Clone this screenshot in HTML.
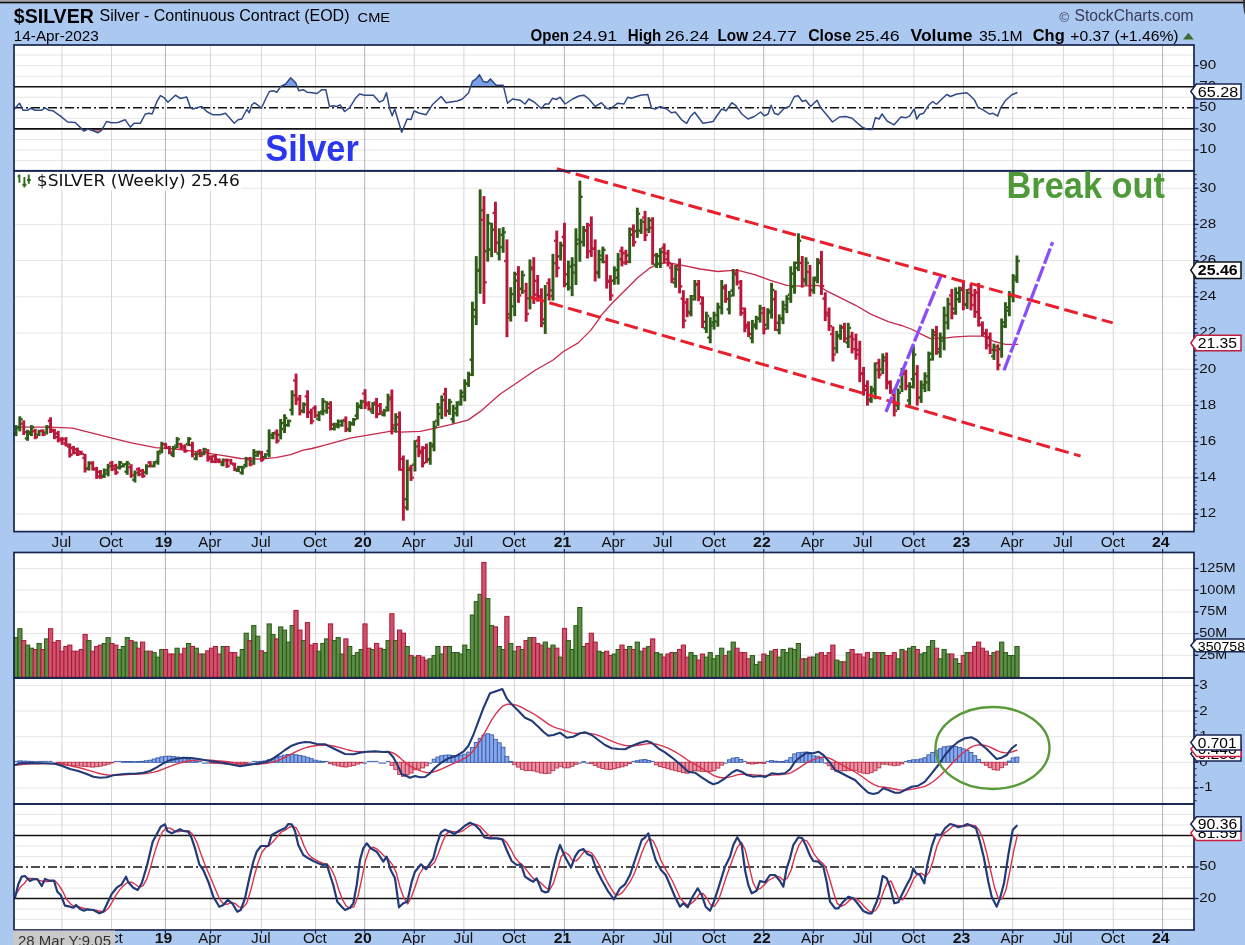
<!DOCTYPE html>
<html lang="en"><head><meta charset="utf-8"><title>$SILVER Silver - Continuous Contract (EOD) CME - StockCharts.com</title>
<style>
html,body{margin:0;padding:0;background:#abc8f1;width:1245px;height:945px;overflow:hidden}
svg text{white-space:pre}
</style></head>
<body>
<svg width="1245" height="945" viewBox="0 0 1245 945" style="display:block">
<rect x="0" y="0" width="1245" height="945" fill="#abc8f1"/>
<rect x="0" y="0" width="1245" height="2" fill="#a2a2a2"/>
<rect x="0" y="1.8" width="1245" height="1.5" fill="#0a0a0a"/>
<path d="M1243,0 L1245,0 L1245,15 Q1243,9 1243,0 Z" fill="#33363c"/>
<rect x="14" y="45" width="1180" height="125.8" fill="#fff"/>
<rect x="14" y="170.8" width="1180" height="360.8" fill="#fff"/>
<rect x="14" y="552.5" width="1180" height="125.5" fill="#fff"/>
<rect x="14" y="678" width="1180" height="126" fill="#fff"/>
<rect x="14" y="804" width="1180" height="126" fill="#fff"/>
<line x1="14" x2="1194" y1="55.1" y2="55.1" stroke="#e6e6e6" stroke-width="1"/>
<line x1="14" x2="1194" y1="65.7" y2="65.7" stroke="#e6e6e6" stroke-width="1"/>
<line x1="14" x2="1194" y1="76.2" y2="76.2" stroke="#e6e6e6" stroke-width="1"/>
<line x1="14" x2="1194" y1="97.3" y2="97.3" stroke="#e6e6e6" stroke-width="1"/>
<line x1="14" x2="1194" y1="118.3" y2="118.3" stroke="#e6e6e6" stroke-width="1"/>
<line x1="14" x2="1194" y1="139.4" y2="139.4" stroke="#e6e6e6" stroke-width="1"/>
<line x1="14" x2="1194" y1="149.9" y2="149.9" stroke="#e6e6e6" stroke-width="1"/>
<line x1="14" x2="1194" y1="160.4" y2="160.4" stroke="#e6e6e6" stroke-width="1"/>
<line x1="14" x2="1194" y1="514" y2="514" stroke="#e6e6e6" stroke-width="1"/>
<line x1="14" x2="1194" y1="477.8" y2="477.8" stroke="#e6e6e6" stroke-width="1"/>
<line x1="14" x2="1194" y1="441.6" y2="441.6" stroke="#e6e6e6" stroke-width="1"/>
<line x1="14" x2="1194" y1="405.4" y2="405.4" stroke="#e6e6e6" stroke-width="1"/>
<line x1="14" x2="1194" y1="369.2" y2="369.2" stroke="#e6e6e6" stroke-width="1"/>
<line x1="14" x2="1194" y1="333" y2="333" stroke="#e6e6e6" stroke-width="1"/>
<line x1="14" x2="1194" y1="296.8" y2="296.8" stroke="#e6e6e6" stroke-width="1"/>
<line x1="14" x2="1194" y1="260.6" y2="260.6" stroke="#e6e6e6" stroke-width="1"/>
<line x1="14" x2="1194" y1="224.4" y2="224.4" stroke="#e6e6e6" stroke-width="1"/>
<line x1="14" x2="1194" y1="188.2" y2="188.2" stroke="#e6e6e6" stroke-width="1"/>
<line x1="14" x2="1194" y1="655.3" y2="655.3" stroke="#e6e6e6" stroke-width="1"/>
<line x1="14" x2="1194" y1="633.6" y2="633.6" stroke="#e6e6e6" stroke-width="1"/>
<line x1="14" x2="1194" y1="611.9" y2="611.9" stroke="#e6e6e6" stroke-width="1"/>
<line x1="14" x2="1194" y1="590.2" y2="590.2" stroke="#e6e6e6" stroke-width="1"/>
<line x1="14" x2="1194" y1="568.5" y2="568.5" stroke="#e6e6e6" stroke-width="1"/>
<line x1="14" x2="1194" y1="787.9" y2="787.9" stroke="#e6e6e6" stroke-width="1"/>
<line x1="14" x2="1194" y1="762.3" y2="762.3" stroke="#e6e6e6" stroke-width="1"/>
<line x1="14" x2="1194" y1="736.7" y2="736.7" stroke="#e6e6e6" stroke-width="1"/>
<line x1="14" x2="1194" y1="711.1" y2="711.1" stroke="#e6e6e6" stroke-width="1"/>
<line x1="14" x2="1194" y1="685.5" y2="685.5" stroke="#e6e6e6" stroke-width="1"/>
<line x1="14" x2="1194" y1="919.5" y2="919.5" stroke="#e6e6e6" stroke-width="1"/>
<line x1="14" x2="1194" y1="909" y2="909" stroke="#e6e6e6" stroke-width="1"/>
<line x1="14" x2="1194" y1="888" y2="888" stroke="#e6e6e6" stroke-width="1"/>
<line x1="14" x2="1194" y1="877.5" y2="877.5" stroke="#e6e6e6" stroke-width="1"/>
<line x1="14" x2="1194" y1="856.5" y2="856.5" stroke="#e6e6e6" stroke-width="1"/>
<line x1="14" x2="1194" y1="846" y2="846" stroke="#e6e6e6" stroke-width="1"/>
<line x1="14" x2="1194" y1="825" y2="825" stroke="#e6e6e6" stroke-width="1"/>
<line x1="14" x2="1194" y1="814.5" y2="814.5" stroke="#e6e6e6" stroke-width="1"/>
<line x1="61.9" x2="61.9" y1="45" y2="170.8" stroke="#d6d6d6" stroke-width="1"/>
<line x1="61.9" x2="61.9" y1="170.8" y2="531.6" stroke="#d6d6d6" stroke-width="1"/>
<line x1="61.9" x2="61.9" y1="552.5" y2="678" stroke="#d6d6d6" stroke-width="1"/>
<line x1="61.9" x2="61.9" y1="678" y2="804" stroke="#d6d6d6" stroke-width="1"/>
<line x1="61.9" x2="61.9" y1="804" y2="930" stroke="#d6d6d6" stroke-width="1"/>
<line x1="111.5" x2="111.5" y1="45" y2="170.8" stroke="#d6d6d6" stroke-width="1"/>
<line x1="111.5" x2="111.5" y1="170.8" y2="531.6" stroke="#d6d6d6" stroke-width="1"/>
<line x1="111.5" x2="111.5" y1="552.5" y2="678" stroke="#d6d6d6" stroke-width="1"/>
<line x1="111.5" x2="111.5" y1="678" y2="804" stroke="#d6d6d6" stroke-width="1"/>
<line x1="111.5" x2="111.5" y1="804" y2="930" stroke="#d6d6d6" stroke-width="1"/>
<line x1="165.4" x2="165.4" y1="45" y2="170.8" stroke="#b4b4b4" stroke-width="1"/>
<line x1="165.4" x2="165.4" y1="170.8" y2="531.6" stroke="#b4b4b4" stroke-width="1"/>
<line x1="165.4" x2="165.4" y1="552.5" y2="678" stroke="#b4b4b4" stroke-width="1"/>
<line x1="165.4" x2="165.4" y1="678" y2="804" stroke="#b4b4b4" stroke-width="1"/>
<line x1="165.4" x2="165.4" y1="804" y2="930" stroke="#b4b4b4" stroke-width="1"/>
<line x1="210.5" x2="210.5" y1="45" y2="170.8" stroke="#d6d6d6" stroke-width="1"/>
<line x1="210.5" x2="210.5" y1="170.8" y2="531.6" stroke="#d6d6d6" stroke-width="1"/>
<line x1="210.5" x2="210.5" y1="552.5" y2="678" stroke="#d6d6d6" stroke-width="1"/>
<line x1="210.5" x2="210.5" y1="678" y2="804" stroke="#d6d6d6" stroke-width="1"/>
<line x1="210.5" x2="210.5" y1="804" y2="930" stroke="#d6d6d6" stroke-width="1"/>
<line x1="261.4" x2="261.4" y1="45" y2="170.8" stroke="#d6d6d6" stroke-width="1"/>
<line x1="261.4" x2="261.4" y1="170.8" y2="531.6" stroke="#d6d6d6" stroke-width="1"/>
<line x1="261.4" x2="261.4" y1="552.5" y2="678" stroke="#d6d6d6" stroke-width="1"/>
<line x1="261.4" x2="261.4" y1="678" y2="804" stroke="#d6d6d6" stroke-width="1"/>
<line x1="261.4" x2="261.4" y1="804" y2="930" stroke="#d6d6d6" stroke-width="1"/>
<line x1="315.5" x2="315.5" y1="45" y2="170.8" stroke="#d6d6d6" stroke-width="1"/>
<line x1="315.5" x2="315.5" y1="170.8" y2="531.6" stroke="#d6d6d6" stroke-width="1"/>
<line x1="315.5" x2="315.5" y1="552.5" y2="678" stroke="#d6d6d6" stroke-width="1"/>
<line x1="315.5" x2="315.5" y1="678" y2="804" stroke="#d6d6d6" stroke-width="1"/>
<line x1="315.5" x2="315.5" y1="804" y2="930" stroke="#d6d6d6" stroke-width="1"/>
<line x1="364.7" x2="364.7" y1="45" y2="170.8" stroke="#b4b4b4" stroke-width="1"/>
<line x1="364.7" x2="364.7" y1="170.8" y2="531.6" stroke="#b4b4b4" stroke-width="1"/>
<line x1="364.7" x2="364.7" y1="552.5" y2="678" stroke="#b4b4b4" stroke-width="1"/>
<line x1="364.7" x2="364.7" y1="678" y2="804" stroke="#b4b4b4" stroke-width="1"/>
<line x1="364.7" x2="364.7" y1="804" y2="930" stroke="#b4b4b4" stroke-width="1"/>
<line x1="414.3" x2="414.3" y1="45" y2="170.8" stroke="#d6d6d6" stroke-width="1"/>
<line x1="414.3" x2="414.3" y1="170.8" y2="531.6" stroke="#d6d6d6" stroke-width="1"/>
<line x1="414.3" x2="414.3" y1="552.5" y2="678" stroke="#d6d6d6" stroke-width="1"/>
<line x1="414.3" x2="414.3" y1="678" y2="804" stroke="#d6d6d6" stroke-width="1"/>
<line x1="414.3" x2="414.3" y1="804" y2="930" stroke="#d6d6d6" stroke-width="1"/>
<line x1="463.9" x2="463.9" y1="45" y2="170.8" stroke="#d6d6d6" stroke-width="1"/>
<line x1="463.9" x2="463.9" y1="170.8" y2="531.6" stroke="#d6d6d6" stroke-width="1"/>
<line x1="463.9" x2="463.9" y1="552.5" y2="678" stroke="#d6d6d6" stroke-width="1"/>
<line x1="463.9" x2="463.9" y1="678" y2="804" stroke="#d6d6d6" stroke-width="1"/>
<line x1="463.9" x2="463.9" y1="804" y2="930" stroke="#d6d6d6" stroke-width="1"/>
<line x1="514.5" x2="514.5" y1="45" y2="170.8" stroke="#d6d6d6" stroke-width="1"/>
<line x1="514.5" x2="514.5" y1="170.8" y2="531.6" stroke="#d6d6d6" stroke-width="1"/>
<line x1="514.5" x2="514.5" y1="552.5" y2="678" stroke="#d6d6d6" stroke-width="1"/>
<line x1="514.5" x2="514.5" y1="678" y2="804" stroke="#d6d6d6" stroke-width="1"/>
<line x1="514.5" x2="514.5" y1="804" y2="930" stroke="#d6d6d6" stroke-width="1"/>
<line x1="564.4" x2="564.4" y1="45" y2="170.8" stroke="#b4b4b4" stroke-width="1"/>
<line x1="564.4" x2="564.4" y1="170.8" y2="531.6" stroke="#b4b4b4" stroke-width="1"/>
<line x1="564.4" x2="564.4" y1="552.5" y2="678" stroke="#b4b4b4" stroke-width="1"/>
<line x1="564.4" x2="564.4" y1="678" y2="804" stroke="#b4b4b4" stroke-width="1"/>
<line x1="564.4" x2="564.4" y1="804" y2="930" stroke="#b4b4b4" stroke-width="1"/>
<line x1="613.8" x2="613.8" y1="45" y2="170.8" stroke="#d6d6d6" stroke-width="1"/>
<line x1="613.8" x2="613.8" y1="170.8" y2="531.6" stroke="#d6d6d6" stroke-width="1"/>
<line x1="613.8" x2="613.8" y1="552.5" y2="678" stroke="#d6d6d6" stroke-width="1"/>
<line x1="613.8" x2="613.8" y1="678" y2="804" stroke="#d6d6d6" stroke-width="1"/>
<line x1="613.8" x2="613.8" y1="804" y2="930" stroke="#d6d6d6" stroke-width="1"/>
<line x1="663.2" x2="663.2" y1="45" y2="170.8" stroke="#d6d6d6" stroke-width="1"/>
<line x1="663.2" x2="663.2" y1="170.8" y2="531.6" stroke="#d6d6d6" stroke-width="1"/>
<line x1="663.2" x2="663.2" y1="552.5" y2="678" stroke="#d6d6d6" stroke-width="1"/>
<line x1="663.2" x2="663.2" y1="678" y2="804" stroke="#d6d6d6" stroke-width="1"/>
<line x1="663.2" x2="663.2" y1="804" y2="930" stroke="#d6d6d6" stroke-width="1"/>
<line x1="714.3" x2="714.3" y1="45" y2="170.8" stroke="#d6d6d6" stroke-width="1"/>
<line x1="714.3" x2="714.3" y1="170.8" y2="531.6" stroke="#d6d6d6" stroke-width="1"/>
<line x1="714.3" x2="714.3" y1="552.5" y2="678" stroke="#d6d6d6" stroke-width="1"/>
<line x1="714.3" x2="714.3" y1="678" y2="804" stroke="#d6d6d6" stroke-width="1"/>
<line x1="714.3" x2="714.3" y1="804" y2="930" stroke="#d6d6d6" stroke-width="1"/>
<line x1="763.7" x2="763.7" y1="45" y2="170.8" stroke="#b4b4b4" stroke-width="1"/>
<line x1="763.7" x2="763.7" y1="170.8" y2="531.6" stroke="#b4b4b4" stroke-width="1"/>
<line x1="763.7" x2="763.7" y1="552.5" y2="678" stroke="#b4b4b4" stroke-width="1"/>
<line x1="763.7" x2="763.7" y1="678" y2="804" stroke="#b4b4b4" stroke-width="1"/>
<line x1="763.7" x2="763.7" y1="804" y2="930" stroke="#b4b4b4" stroke-width="1"/>
<line x1="813.3" x2="813.3" y1="45" y2="170.8" stroke="#d6d6d6" stroke-width="1"/>
<line x1="813.3" x2="813.3" y1="170.8" y2="531.6" stroke="#d6d6d6" stroke-width="1"/>
<line x1="813.3" x2="813.3" y1="552.5" y2="678" stroke="#d6d6d6" stroke-width="1"/>
<line x1="813.3" x2="813.3" y1="678" y2="804" stroke="#d6d6d6" stroke-width="1"/>
<line x1="813.3" x2="813.3" y1="804" y2="930" stroke="#d6d6d6" stroke-width="1"/>
<line x1="863.2" x2="863.2" y1="45" y2="170.8" stroke="#d6d6d6" stroke-width="1"/>
<line x1="863.2" x2="863.2" y1="170.8" y2="531.6" stroke="#d6d6d6" stroke-width="1"/>
<line x1="863.2" x2="863.2" y1="552.5" y2="678" stroke="#d6d6d6" stroke-width="1"/>
<line x1="863.2" x2="863.2" y1="678" y2="804" stroke="#d6d6d6" stroke-width="1"/>
<line x1="863.2" x2="863.2" y1="804" y2="930" stroke="#d6d6d6" stroke-width="1"/>
<line x1="913.9" x2="913.9" y1="45" y2="170.8" stroke="#d6d6d6" stroke-width="1"/>
<line x1="913.9" x2="913.9" y1="170.8" y2="531.6" stroke="#d6d6d6" stroke-width="1"/>
<line x1="913.9" x2="913.9" y1="552.5" y2="678" stroke="#d6d6d6" stroke-width="1"/>
<line x1="913.9" x2="913.9" y1="678" y2="804" stroke="#d6d6d6" stroke-width="1"/>
<line x1="913.9" x2="913.9" y1="804" y2="930" stroke="#d6d6d6" stroke-width="1"/>
<line x1="963.4" x2="963.4" y1="45" y2="170.8" stroke="#b4b4b4" stroke-width="1"/>
<line x1="963.4" x2="963.4" y1="170.8" y2="531.6" stroke="#b4b4b4" stroke-width="1"/>
<line x1="963.4" x2="963.4" y1="552.5" y2="678" stroke="#b4b4b4" stroke-width="1"/>
<line x1="963.4" x2="963.4" y1="678" y2="804" stroke="#b4b4b4" stroke-width="1"/>
<line x1="963.4" x2="963.4" y1="804" y2="930" stroke="#b4b4b4" stroke-width="1"/>
<line x1="1012.7" x2="1012.7" y1="45" y2="170.8" stroke="#d6d6d6" stroke-width="1"/>
<line x1="1012.7" x2="1012.7" y1="170.8" y2="531.6" stroke="#d6d6d6" stroke-width="1"/>
<line x1="1012.7" x2="1012.7" y1="552.5" y2="678" stroke="#d6d6d6" stroke-width="1"/>
<line x1="1012.7" x2="1012.7" y1="678" y2="804" stroke="#d6d6d6" stroke-width="1"/>
<line x1="1012.7" x2="1012.7" y1="804" y2="930" stroke="#d6d6d6" stroke-width="1"/>
<line x1="1063.4" x2="1063.4" y1="45" y2="170.8" stroke="#d6d6d6" stroke-width="1"/>
<line x1="1063.4" x2="1063.4" y1="170.8" y2="531.6" stroke="#d6d6d6" stroke-width="1"/>
<line x1="1063.4" x2="1063.4" y1="552.5" y2="678" stroke="#d6d6d6" stroke-width="1"/>
<line x1="1063.4" x2="1063.4" y1="678" y2="804" stroke="#d6d6d6" stroke-width="1"/>
<line x1="1063.4" x2="1063.4" y1="804" y2="930" stroke="#d6d6d6" stroke-width="1"/>
<line x1="1113.3" x2="1113.3" y1="45" y2="170.8" stroke="#d6d6d6" stroke-width="1"/>
<line x1="1113.3" x2="1113.3" y1="170.8" y2="531.6" stroke="#d6d6d6" stroke-width="1"/>
<line x1="1113.3" x2="1113.3" y1="552.5" y2="678" stroke="#d6d6d6" stroke-width="1"/>
<line x1="1113.3" x2="1113.3" y1="678" y2="804" stroke="#d6d6d6" stroke-width="1"/>
<line x1="1113.3" x2="1113.3" y1="804" y2="930" stroke="#d6d6d6" stroke-width="1"/>
<line x1="1162.6" x2="1162.6" y1="45" y2="170.8" stroke="#b4b4b4" stroke-width="1"/>
<line x1="1162.6" x2="1162.6" y1="170.8" y2="531.6" stroke="#b4b4b4" stroke-width="1"/>
<line x1="1162.6" x2="1162.6" y1="552.5" y2="678" stroke="#b4b4b4" stroke-width="1"/>
<line x1="1162.6" x2="1162.6" y1="678" y2="804" stroke="#b4b4b4" stroke-width="1"/>
<line x1="1162.6" x2="1162.6" y1="804" y2="930" stroke="#b4b4b4" stroke-width="1"/>
<clipPath id="rsiTop"><rect x="14" y="45" width="1180" height="41.7"/></clipPath>
<clipPath id="rsiBot"><rect x="14" y="128.9" width="1180" height="41.1"/></clipPath>
<polygon points="14.3,86.7 14.3,109 19.5,103.2 23.1,110.3 27.6,110.3 30.6,108.3 35.1,110.3 41.3,110.3 45.1,107.8 48.9,110.3 53.1,110.8 60.1,115.8 67.7,122 75.2,122.5 84,131.1 87.7,129.1 93.2,130.8 97.7,132.8 101.5,130.3 106.5,121.5 111.5,122.8 117.8,122.5 125.3,119.8 130.3,127.1 134.1,123.3 140.3,123.3 145.3,114 149.1,113.3 152.1,114 156.6,102.2 160.4,95.7 164.1,97.7 167.9,102.2 175.4,95.2 180.4,98.5 186.7,97 190.5,107.8 193,109 196.7,107.8 201.7,106.5 206.7,111.5 213,114.8 220.5,114.8 225.5,113.3 234.3,123.3 238.1,119.8 241.8,119 246.8,109.5 249.3,112.8 251.9,104.8 254.4,102.7 258.1,105.3 261.4,108.3 265.6,99 269.4,91.5 273.2,90.7 276.9,92.2 280.7,86.5 285.7,84 290.7,77.7 295.7,82.7 298.7,90.7 303.2,89.7 307,92.2 312,92.7 317,93.5 322,89.7 325.8,89.7 329.5,106.5 333.3,105.8 337.1,106.5 340.1,104.8 344.6,111.5 349.6,107.8 355.9,97.7 359.6,94 364.6,95.2 373.4,95.2 379.7,102.2 383.4,100.2 386.4,92.7 389.7,109 392.2,115.8 394.7,109 401.7,132.3 407.2,119 411,119.5 414,111 419.8,113.3 426,114.8 432.3,104.8 441.1,96.5 446.1,102.7 452.3,101.7 457.3,101 462.4,99 468.6,92.7 472.4,81.4 476.1,78.9 479.4,74.7 483.2,81.4 487.4,82.2 490.4,78.9 496.2,85.2 503.2,85.2 507.5,103.2 512.5,99 520,100.2 525,104 528.8,99 535,102.7 541.3,108.5 545.1,104 548.8,104 552.6,98.2 556.3,99.5 560.1,97.2 565.1,104 572.6,99 578.9,96 583.9,95.2 588.9,99 595.2,106.5 601.4,102.7 606.5,108.3 610.2,109 617.7,103.2 624,104 627.8,97.2 631.5,98.2 640.3,95.2 647.8,94.5 651.6,108.3 655.3,109 660.3,106.5 666.6,109 671.6,112.8 675.4,112 681.6,119.8 686.7,123.3 690.4,116.5 694.7,112.3 702.9,123.3 709.2,122.3 713,121.5 721.7,109 726.2,110.8 731.8,102.7 735.5,105.3 741.8,114 748,119 754.3,116.5 760.6,112 764.3,115.8 768.1,114 771.1,105.3 774.4,113.3 778.1,114.8 784.4,108.3 789.4,106.5 794.4,96.5 798.2,95.7 802.4,101.5 805.7,100.2 810.7,106.5 817,100.2 820.7,107.8 827,115.3 832.5,122 839.5,117 845.8,116.5 852,118.3 862.1,127.1 868.3,129.6 872.1,129.6 875.4,117.8 879.1,119 882.1,114 887.1,121 894.1,124.8 900.9,117 905.9,117.8 909.7,115.8 914.2,109 916.7,119 919.7,114.5 923.5,113.3 928.5,105.3 932.7,101.5 936,104 936.8,104 941.8,99 946.8,94.5 950.5,96.5 956.8,94 966.8,92.7 970.6,96 974.3,99.7 978.1,107.3 983.1,109.8 989.4,114 993.1,113.3 997.7,116 1000.7,107.8 1005.7,100.2 1011.9,94.7 1017,92.7 1017,86.7" fill="#7a9fe6" clip-path="url(#rsiTop)"/>
<polygon points="14.3,128.9 14.3,109 19.5,103.2 23.1,110.3 27.6,110.3 30.6,108.3 35.1,110.3 41.3,110.3 45.1,107.8 48.9,110.3 53.1,110.8 60.1,115.8 67.7,122 75.2,122.5 84,131.1 87.7,129.1 93.2,130.8 97.7,132.8 101.5,130.3 106.5,121.5 111.5,122.8 117.8,122.5 125.3,119.8 130.3,127.1 134.1,123.3 140.3,123.3 145.3,114 149.1,113.3 152.1,114 156.6,102.2 160.4,95.7 164.1,97.7 167.9,102.2 175.4,95.2 180.4,98.5 186.7,97 190.5,107.8 193,109 196.7,107.8 201.7,106.5 206.7,111.5 213,114.8 220.5,114.8 225.5,113.3 234.3,123.3 238.1,119.8 241.8,119 246.8,109.5 249.3,112.8 251.9,104.8 254.4,102.7 258.1,105.3 261.4,108.3 265.6,99 269.4,91.5 273.2,90.7 276.9,92.2 280.7,86.5 285.7,84 290.7,77.7 295.7,82.7 298.7,90.7 303.2,89.7 307,92.2 312,92.7 317,93.5 322,89.7 325.8,89.7 329.5,106.5 333.3,105.8 337.1,106.5 340.1,104.8 344.6,111.5 349.6,107.8 355.9,97.7 359.6,94 364.6,95.2 373.4,95.2 379.7,102.2 383.4,100.2 386.4,92.7 389.7,109 392.2,115.8 394.7,109 401.7,132.3 407.2,119 411,119.5 414,111 419.8,113.3 426,114.8 432.3,104.8 441.1,96.5 446.1,102.7 452.3,101.7 457.3,101 462.4,99 468.6,92.7 472.4,81.4 476.1,78.9 479.4,74.7 483.2,81.4 487.4,82.2 490.4,78.9 496.2,85.2 503.2,85.2 507.5,103.2 512.5,99 520,100.2 525,104 528.8,99 535,102.7 541.3,108.5 545.1,104 548.8,104 552.6,98.2 556.3,99.5 560.1,97.2 565.1,104 572.6,99 578.9,96 583.9,95.2 588.9,99 595.2,106.5 601.4,102.7 606.5,108.3 610.2,109 617.7,103.2 624,104 627.8,97.2 631.5,98.2 640.3,95.2 647.8,94.5 651.6,108.3 655.3,109 660.3,106.5 666.6,109 671.6,112.8 675.4,112 681.6,119.8 686.7,123.3 690.4,116.5 694.7,112.3 702.9,123.3 709.2,122.3 713,121.5 721.7,109 726.2,110.8 731.8,102.7 735.5,105.3 741.8,114 748,119 754.3,116.5 760.6,112 764.3,115.8 768.1,114 771.1,105.3 774.4,113.3 778.1,114.8 784.4,108.3 789.4,106.5 794.4,96.5 798.2,95.7 802.4,101.5 805.7,100.2 810.7,106.5 817,100.2 820.7,107.8 827,115.3 832.5,122 839.5,117 845.8,116.5 852,118.3 862.1,127.1 868.3,129.6 872.1,129.6 875.4,117.8 879.1,119 882.1,114 887.1,121 894.1,124.8 900.9,117 905.9,117.8 909.7,115.8 914.2,109 916.7,119 919.7,114.5 923.5,113.3 928.5,105.3 932.7,101.5 936,104 936.8,104 941.8,99 946.8,94.5 950.5,96.5 956.8,94 966.8,92.7 970.6,96 974.3,99.7 978.1,107.3 983.1,109.8 989.4,114 993.1,113.3 997.7,116 1000.7,107.8 1005.7,100.2 1011.9,94.7 1017,92.7 1017,128.9" fill="#e8788c" clip-path="url(#rsiBot)"/>
<line x1="14" x2="1194" y1="86.7" y2="86.7" stroke="#111" stroke-width="1.6"/>
<line x1="14" x2="1194" y1="128.9" y2="128.9" stroke="#111" stroke-width="1.6"/>
<line x1="14" x2="1194" y1="107.8" y2="107.8" stroke="#111" stroke-width="1.6" stroke-dasharray="9 3 2 3"/>
<polyline points="14.3,109 19.5,103.2 23.1,110.3 27.6,110.3 30.6,108.3 35.1,110.3 41.3,110.3 45.1,107.8 48.9,110.3 53.1,110.8 60.1,115.8 67.7,122 75.2,122.5 84,131.1 87.7,129.1 93.2,130.8 97.7,132.8 101.5,130.3 106.5,121.5 111.5,122.8 117.8,122.5 125.3,119.8 130.3,127.1 134.1,123.3 140.3,123.3 145.3,114 149.1,113.3 152.1,114 156.6,102.2 160.4,95.7 164.1,97.7 167.9,102.2 175.4,95.2 180.4,98.5 186.7,97 190.5,107.8 193,109 196.7,107.8 201.7,106.5 206.7,111.5 213,114.8 220.5,114.8 225.5,113.3 234.3,123.3 238.1,119.8 241.8,119 246.8,109.5 249.3,112.8 251.9,104.8 254.4,102.7 258.1,105.3 261.4,108.3 265.6,99 269.4,91.5 273.2,90.7 276.9,92.2 280.7,86.5 285.7,84 290.7,77.7 295.7,82.7 298.7,90.7 303.2,89.7 307,92.2 312,92.7 317,93.5 322,89.7 325.8,89.7 329.5,106.5 333.3,105.8 337.1,106.5 340.1,104.8 344.6,111.5 349.6,107.8 355.9,97.7 359.6,94 364.6,95.2 373.4,95.2 379.7,102.2 383.4,100.2 386.4,92.7 389.7,109 392.2,115.8 394.7,109 401.7,132.3 407.2,119 411,119.5 414,111 419.8,113.3 426,114.8 432.3,104.8 441.1,96.5 446.1,102.7 452.3,101.7 457.3,101 462.4,99 468.6,92.7 472.4,81.4 476.1,78.9 479.4,74.7 483.2,81.4 487.4,82.2 490.4,78.9 496.2,85.2 503.2,85.2 507.5,103.2 512.5,99 520,100.2 525,104 528.8,99 535,102.7 541.3,108.5 545.1,104 548.8,104 552.6,98.2 556.3,99.5 560.1,97.2 565.1,104 572.6,99 578.9,96 583.9,95.2 588.9,99 595.2,106.5 601.4,102.7 606.5,108.3 610.2,109 617.7,103.2 624,104 627.8,97.2 631.5,98.2 640.3,95.2 647.8,94.5 651.6,108.3 655.3,109 660.3,106.5 666.6,109 671.6,112.8 675.4,112 681.6,119.8 686.7,123.3 690.4,116.5 694.7,112.3 702.9,123.3 709.2,122.3 713,121.5 721.7,109 726.2,110.8 731.8,102.7 735.5,105.3 741.8,114 748,119 754.3,116.5 760.6,112 764.3,115.8 768.1,114 771.1,105.3 774.4,113.3 778.1,114.8 784.4,108.3 789.4,106.5 794.4,96.5 798.2,95.7 802.4,101.5 805.7,100.2 810.7,106.5 817,100.2 820.7,107.8 827,115.3 832.5,122 839.5,117 845.8,116.5 852,118.3 862.1,127.1 868.3,129.6 872.1,129.6 875.4,117.8 879.1,119 882.1,114 887.1,121 894.1,124.8 900.9,117 905.9,117.8 909.7,115.8 914.2,109 916.7,119 919.7,114.5 923.5,113.3 928.5,105.3 932.7,101.5 936,104 936.8,104 941.8,99 946.8,94.5 950.5,96.5 956.8,94 966.8,92.7 970.6,96 974.3,99.7 978.1,107.3 983.1,109.8 989.4,114 993.1,113.3 997.7,116 1000.7,107.8 1005.7,100.2 1011.9,94.7 1017,92.7" fill="none" stroke="#2f4a86" stroke-width="1.5" stroke-linejoin="round" stroke-linecap="round" />
<line x1="14" x2="1194" y1="835.5" y2="835.5" stroke="#111" stroke-width="1.6"/>
<line x1="14" x2="1194" y1="898.5" y2="898.5" stroke="#111" stroke-width="1.6"/>
<line x1="14" x2="1194" y1="867" y2="867" stroke="#111" stroke-width="1.6" stroke-dasharray="9 3 2 3"/>
<polyline points="16.6,893.4 20.4,887.1 24.2,883.5 28.1,878.5 31.9,878.4 35.7,879.3 39.6,880.4 43.4,881.5 47.2,881.6 51.1,881.2 54.9,880.8 58.8,885.1 62.6,891 66.4,899 70.3,903.7 74.1,906.6 77.9,906.8 81.8,907.8 85.6,908.7 89.4,909.8 93.3,909.9 97.1,910.4 100.9,911.5 104.8,911.5 108.6,908.1 112.4,901.7 116.3,894.7 120.1,889.4 123.9,885.2 127.8,882.2 131.6,882.1 135.5,884.5 139.3,887.3 143.1,885.6 147,878.6 150.8,866.4 154.6,852.6 158.5,840.8 162.3,832.3 166.1,828 170,828.1 173.8,830.3 177.6,831.8 181.5,831 185.3,830.6 189.1,831.1 193,834.7 196.8,842.1 200.6,853.1 204.5,863.4 208.3,872.5 212.1,881.2 216,890.8 219.8,899.5 223.7,904 227.5,904.2 231.3,902.7 235.2,903.4 239,906.9 242.8,907.9 246.7,903.2 250.5,891.3 254.3,876.2 258.2,862 262,852.2 265.8,847.5 269.7,845.1 273.5,841.2 277.3,836.6 281.2,832.2 285,830.2 288.9,827.5 292.7,826 296.5,828.2 300.4,836.2 304.2,846.2 308,853.7 311.9,857.7 315.7,859.9 319.5,861.8 323.4,863.5 327.2,864.3 331,868.7 334.9,876.8 338.7,889.5 342.5,899.7 346.4,906.4 350.2,908.1 354,906.5 357.9,896.5 361.7,879.2 365.5,860.4 369.4,849.2 373.2,847.1 377.1,849.1 380.9,852.8 384.7,856.4 388.6,859.6 392.4,864.7 396.2,872.4 400.1,887.6 403.9,897.9 407.7,903.9 411.6,896.5 415.4,886 419.2,874.5 423.1,868.3 426.9,867.2 430.7,865.9 434.6,862.3 438.4,853.2 442.2,842.8 446.1,834.4 449.9,831.1 453.8,831.6 457.6,832.3 461.4,831.6 465.3,829 469.1,826.2 472.9,824.4 476.8,824.5 480.6,826.7 484.4,831 488.3,834.9 492.1,837.6 495.9,838.2 499.8,838.5 503.6,839.5 507.4,843.6 511.3,850.3 515.1,857.7 519,862.4 522.8,865.5 526.6,870.1 530.5,875.2 534.3,879.5 538.1,880.6 542,884 545.8,887.7 549.6,890 553.5,883.1 557.3,870.5 561.1,856.8 565,852.2 568.8,854.9 572.6,860.9 576.5,860.8 580.3,856.7 584.1,851.6 588,851.3 591.8,853.1 595.6,858.6 599.5,865.4 603.3,874.1 607.2,881.8 611,888.4 614.8,894 618.7,895 622.5,892.4 626.3,887.1 630.2,881.7 634,874.3 637.8,864.4 641.7,853 645.5,844 649.3,838.2 653.2,841 657,849 660.8,860.1 664.7,867.9 668.5,874.2 672.4,881 676.2,889.3 680,897.7 683.9,902.4 687.7,905.3 691.5,903.3 695.4,899.9 699.2,894.3 703,893.5 706.9,898.3 710.7,905 714.5,906.3 718.4,900.4 722.2,889.4 726,877.6 729.9,867 733.7,856.3 737.5,847.1 741.4,842.3 745.2,849.8 749,865.7 752.9,882.1 756.7,889.8 760.6,888.3 764.4,884.7 768.2,880.5 772.1,878.5 775.9,876.3 779.7,876.9 783.6,880.6 787.4,878 791.2,869.7 795.1,855.4 798.9,845.3 802.7,839.6 806.6,840.6 810.4,846.6 814.2,854.2 818.1,859.4 821.9,862.5 825.8,867.2 829.6,878.7 833.4,892.3 837.3,903.4 841.1,906.4 844.9,904.7 848.8,900.9 852.6,898.4 856.4,898.7 860.3,901.9 864.1,906.3 867.9,910.1 871.8,912.5 875.6,910.5 879.4,904.4 883.3,892 887.1,883 890.9,880.9 894.8,889.9 898.6,898 902.5,900 906.3,894.5 910.1,886.9 914,878.3 917.8,874 921.6,873.2 925.5,876.8 929.3,871.8 933.1,860.7 937,845.7 940.8,837.7 944.6,833 948.5,830.1 952.3,826.7 956.1,825.4 960,825.8 963.8,826.3 967.6,825.7 971.5,825.3 975.3,825.8 979.1,830.2 983,839 986.8,853.3 990.7,870.9 994.5,887.3 998.3,898.3 1002.2,899.1 1006,889.8 1009.8,871.6 1013.7,850.8 1017.5,834.8" fill="none" stroke="#d8324e" stroke-width="1.4" stroke-linejoin="round" stroke-linecap="round" />
<polyline points="15,897.7 18.3,884.3 21.7,876.7 25,876 30,881 33.3,879.3 37.3,879 41.7,886 45,879 49.3,880.7 54,880.7 57.3,891.7 60.7,895 65,905.7 70,906.7 73.3,907.7 76,905 80,909 84,910.7 87.3,909.3 93.3,910 99.3,913.3 103.3,911.7 107.3,903.3 111.7,894 116.7,887.7 121.7,884.3 126,876.7 128.3,882.3 133.3,887.7 137.7,890 141.7,883.3 146.7,866.7 152.7,841.7 156.7,834.3 160.7,826.7 165,824.3 167.3,831 171.7,833.3 175,831.7 180,829.3 183.3,831 188.3,831.7 191.7,838.3 195,848.3 199.3,864.3 203.3,870 208.3,881.7 213.3,896.7 219.3,906.7 223.3,905 227.7,900 232.3,903.3 237.3,911.7 240.7,910 245,898.3 249.3,878.3 253.3,861.7 256.7,851.7 261,846 265,846 268.3,846 271.7,835 276.7,832.3 280.7,830 285,828.3 288.3,824 291.7,824.3 295,831 298.3,845 303.3,855 308.3,858.3 313.3,861 318.3,863.3 322.7,865 326.7,864.3 330,875 333.3,885 337.3,901.7 341.7,906.7 345,910 350,907.7 353.3,903.3 356.7,885 360,860 363.3,848.3 366.7,843.3 370.7,848.3 376.7,851.7 383.3,861.7 386.7,856.7 390.7,870 395,878.3 399,907.3 403.3,903.3 407.3,901.7 411.7,881.7 415,871.7 421,864.3 426,869.3 433.3,858.3 436.7,845 441,832.3 445,829.7 450,831.7 454.3,834 460,830 465,825.7 470,822.7 475,825 480,830 484.3,837.3 490,838.3 496.7,838.3 502.3,839.3 506.7,850 511.7,861 516.7,865 521,864.3 525,876.7 530,880 533.3,881.7 536.7,878.3 541.7,890.7 545,892.3 548.3,891.7 552.3,871.7 556.7,855 560,845 565,856.7 571,867.7 575,856.7 579,850.7 583.3,849 587.7,854.3 591.7,856 596.7,870 601.7,880 608.3,891.7 614,899.3 620,888.3 625,884.3 630,875 635,860 641.7,840 645,837.7 648.3,833.3 651.7,846.7 655.7,860 661,870 665.7,875 670,885 675,896.7 680,906.7 683.3,903.3 687.7,907.3 691.7,898.3 697.7,888.3 701.7,895 705.7,906.7 710,910.7 713.3,903.3 718.3,888.3 725,866.7 730,856.7 733.3,845 737.3,837.3 741.7,845 745,870 748.3,885 751.7,893.3 756.7,890.7 760,881 765,882.3 770,875 775,875 780,881 783.3,886.7 786.7,868.3 790,858.3 793.3,845 798.3,837.3 802.3,838.3 805.7,845 810,855.7 813.3,861 818.3,861.7 823.3,866.7 826.7,881.7 830,901.7 835,908.3 838.3,908.3 843.3,901.7 848.3,896.7 853.3,898.3 858.3,904.3 863.3,911 868.3,913.3 871.7,913.3 876.7,901.7 879.3,893.3 882.7,876 886.7,878.3 890,886.7 894.3,903.3 898.3,902.3 901.7,895 906.7,885 910.7,877.7 913.3,868.3 916,873.3 920,875 924.3,883.3 927.3,865 931.7,846.7 936,834.3 941,835 945,828.3 950,824 954,825 958.3,827.3 963.3,826 967.3,824 971.7,826 976,828.3 980,841.7 984,858.3 988.3,881.7 991.7,896.7 996.7,906.7 1000,898.3 1004,883.3 1008.3,855 1012.7,830 1016.7,825.7" fill="none" stroke="#223a78" stroke-width="2.2" stroke-linejoin="round" stroke-linecap="round" />
<rect x="14.1" y="760.9" width="3.8" height="1.2" fill="#4d6fb5"/>
<rect x="18" y="760.9" width="3.8" height="1.4" fill="#86a9ee" stroke="#3b5ca8" stroke-width="0.9"/>
<rect x="21.8" y="761.1" width="3.8" height="1.2" fill="#86a9ee" stroke="#3b5ca8" stroke-width="0.9"/>
<rect x="25.7" y="761.2" width="3.8" height="1.1" fill="#86a9ee" stroke="#3b5ca8" stroke-width="0.9"/>
<rect x="29.5" y="761.4" width="3.8" height="0.9" fill="#86a9ee" stroke="#3b5ca8" stroke-width="0.9"/>
<rect x="33.3" y="761.7" width="3.8" height="0.6" fill="#86a9ee" stroke="#3b5ca8" stroke-width="0.9"/>
<rect x="37.2" y="760.9" width="3.8" height="1.2" fill="#4d6fb5"/>
<rect x="41" y="760.9" width="3.8" height="1.2" fill="#4d6fb5"/>
<rect x="44.8" y="760.9" width="3.8" height="1.2" fill="#4d6fb5"/>
<rect x="48.7" y="760.9" width="3.8" height="1.2" fill="#4d6fb5"/>
<rect x="52.5" y="762.5" width="3.8" height="1.2" fill="#4d6fb5"/>
<rect x="56.3" y="762.3" width="3.8" height="0.9" fill="#ec92a2" stroke="#b8344e" stroke-width="0.9"/>
<rect x="60.2" y="762.3" width="3.8" height="1.6" fill="#ec92a2" stroke="#b8344e" stroke-width="0.9"/>
<rect x="64" y="762.3" width="3.8" height="2.5" fill="#ec92a2" stroke="#b8344e" stroke-width="0.9"/>
<rect x="67.8" y="762.3" width="3.8" height="3.3" fill="#ec92a2" stroke="#b8344e" stroke-width="0.9"/>
<rect x="71.7" y="762.3" width="3.8" height="3.4" fill="#ec92a2" stroke="#b8344e" stroke-width="0.9"/>
<rect x="75.5" y="762.3" width="3.8" height="3.4" fill="#ec92a2" stroke="#b8344e" stroke-width="0.9"/>
<rect x="79.3" y="762.3" width="3.8" height="3.8" fill="#ec92a2" stroke="#b8344e" stroke-width="0.9"/>
<rect x="83.2" y="762.3" width="3.8" height="4.1" fill="#ec92a2" stroke="#b8344e" stroke-width="0.9"/>
<rect x="87" y="762.3" width="3.8" height="4.5" fill="#ec92a2" stroke="#b8344e" stroke-width="0.9"/>
<rect x="90.8" y="762.3" width="3.8" height="4.8" fill="#ec92a2" stroke="#b8344e" stroke-width="0.9"/>
<rect x="94.7" y="762.3" width="3.8" height="4.4" fill="#ec92a2" stroke="#b8344e" stroke-width="0.9"/>
<rect x="98.5" y="762.3" width="3.8" height="3.9" fill="#ec92a2" stroke="#b8344e" stroke-width="0.9"/>
<rect x="102.4" y="762.3" width="3.8" height="3" fill="#ec92a2" stroke="#b8344e" stroke-width="0.9"/>
<rect x="106.2" y="762.3" width="3.8" height="1.9" fill="#ec92a2" stroke="#b8344e" stroke-width="0.9"/>
<rect x="110" y="762.3" width="3.8" height="0.6" fill="#ec92a2" stroke="#b8344e" stroke-width="0.9"/>
<rect x="113.9" y="760.9" width="3.8" height="1.2" fill="#4d6fb5"/>
<rect x="117.7" y="760.9" width="3.8" height="1.2" fill="#4d6fb5"/>
<rect x="121.5" y="761.6" width="3.8" height="0.7" fill="#86a9ee" stroke="#3b5ca8" stroke-width="0.9"/>
<rect x="125.4" y="761.5" width="3.8" height="0.8" fill="#86a9ee" stroke="#3b5ca8" stroke-width="0.9"/>
<rect x="129.2" y="761.5" width="3.8" height="0.8" fill="#86a9ee" stroke="#3b5ca8" stroke-width="0.9"/>
<rect x="133" y="761.7" width="3.8" height="0.6" fill="#86a9ee" stroke="#3b5ca8" stroke-width="0.9"/>
<rect x="136.9" y="761.5" width="3.8" height="0.8" fill="#86a9ee" stroke="#3b5ca8" stroke-width="0.9"/>
<rect x="140.7" y="761.3" width="3.8" height="1" fill="#86a9ee" stroke="#3b5ca8" stroke-width="0.9"/>
<rect x="144.5" y="760.8" width="3.8" height="1.5" fill="#86a9ee" stroke="#3b5ca8" stroke-width="0.9"/>
<rect x="148.4" y="760.2" width="3.8" height="2.1" fill="#86a9ee" stroke="#3b5ca8" stroke-width="0.9"/>
<rect x="152.2" y="759" width="3.8" height="3.3" fill="#86a9ee" stroke="#3b5ca8" stroke-width="0.9"/>
<rect x="156" y="757.9" width="3.8" height="4.4" fill="#86a9ee" stroke="#3b5ca8" stroke-width="0.9"/>
<rect x="159.9" y="756.9" width="3.8" height="5.4" fill="#86a9ee" stroke="#3b5ca8" stroke-width="0.9"/>
<rect x="163.7" y="756.4" width="3.8" height="5.9" fill="#86a9ee" stroke="#3b5ca8" stroke-width="0.9"/>
<rect x="167.5" y="756.2" width="3.8" height="6.1" fill="#86a9ee" stroke="#3b5ca8" stroke-width="0.9"/>
<rect x="171.4" y="756.6" width="3.8" height="5.7" fill="#86a9ee" stroke="#3b5ca8" stroke-width="0.9"/>
<rect x="175.2" y="757" width="3.8" height="5.3" fill="#86a9ee" stroke="#3b5ca8" stroke-width="0.9"/>
<rect x="179.1" y="757.6" width="3.8" height="4.7" fill="#86a9ee" stroke="#3b5ca8" stroke-width="0.9"/>
<rect x="182.9" y="758.3" width="3.8" height="4" fill="#86a9ee" stroke="#3b5ca8" stroke-width="0.9"/>
<rect x="186.7" y="759.2" width="3.8" height="3.1" fill="#86a9ee" stroke="#3b5ca8" stroke-width="0.9"/>
<rect x="190.6" y="760" width="3.8" height="2.3" fill="#86a9ee" stroke="#3b5ca8" stroke-width="0.9"/>
<rect x="194.4" y="761" width="3.8" height="1.3" fill="#86a9ee" stroke="#3b5ca8" stroke-width="0.9"/>
<rect x="198.2" y="760.9" width="3.8" height="1.2" fill="#4d6fb5"/>
<rect x="202.1" y="762.5" width="3.8" height="1.2" fill="#4d6fb5"/>
<rect x="205.9" y="762.5" width="3.8" height="1.2" fill="#4d6fb5"/>
<rect x="209.7" y="762.3" width="3.8" height="0.9" fill="#ec92a2" stroke="#b8344e" stroke-width="0.9"/>
<rect x="213.6" y="762.3" width="3.8" height="1.1" fill="#ec92a2" stroke="#b8344e" stroke-width="0.9"/>
<rect x="217.4" y="762.3" width="3.8" height="1.3" fill="#ec92a2" stroke="#b8344e" stroke-width="0.9"/>
<rect x="221.2" y="762.3" width="3.8" height="1.6" fill="#ec92a2" stroke="#b8344e" stroke-width="0.9"/>
<rect x="225.1" y="762.3" width="3.8" height="1.9" fill="#ec92a2" stroke="#b8344e" stroke-width="0.9"/>
<rect x="228.9" y="762.3" width="3.8" height="2.2" fill="#ec92a2" stroke="#b8344e" stroke-width="0.9"/>
<rect x="232.7" y="762.3" width="3.8" height="2.3" fill="#ec92a2" stroke="#b8344e" stroke-width="0.9"/>
<rect x="236.6" y="762.3" width="3.8" height="2.5" fill="#ec92a2" stroke="#b8344e" stroke-width="0.9"/>
<rect x="240.4" y="762.3" width="3.8" height="1.9" fill="#ec92a2" stroke="#b8344e" stroke-width="0.9"/>
<rect x="244.2" y="762.3" width="3.8" height="1.1" fill="#ec92a2" stroke="#b8344e" stroke-width="0.9"/>
<rect x="248.1" y="762.5" width="3.8" height="1.2" fill="#4d6fb5"/>
<rect x="251.9" y="760.9" width="3.8" height="1.2" fill="#4d6fb5"/>
<rect x="255.8" y="761.6" width="3.8" height="0.7" fill="#86a9ee" stroke="#3b5ca8" stroke-width="0.9"/>
<rect x="259.6" y="761.3" width="3.8" height="1" fill="#86a9ee" stroke="#3b5ca8" stroke-width="0.9"/>
<rect x="263.4" y="760.9" width="3.8" height="1.4" fill="#86a9ee" stroke="#3b5ca8" stroke-width="0.9"/>
<rect x="267.3" y="759.8" width="3.8" height="2.5" fill="#86a9ee" stroke="#3b5ca8" stroke-width="0.9"/>
<rect x="271.1" y="758.7" width="3.8" height="3.6" fill="#86a9ee" stroke="#3b5ca8" stroke-width="0.9"/>
<rect x="274.9" y="757.4" width="3.8" height="4.9" fill="#86a9ee" stroke="#3b5ca8" stroke-width="0.9"/>
<rect x="278.8" y="756.2" width="3.8" height="6.1" fill="#86a9ee" stroke="#3b5ca8" stroke-width="0.9"/>
<rect x="282.6" y="755.1" width="3.8" height="7.2" fill="#86a9ee" stroke="#3b5ca8" stroke-width="0.9"/>
<rect x="286.4" y="754.5" width="3.8" height="7.8" fill="#86a9ee" stroke="#3b5ca8" stroke-width="0.9"/>
<rect x="290.3" y="754.2" width="3.8" height="8.1" fill="#86a9ee" stroke="#3b5ca8" stroke-width="0.9"/>
<rect x="294.1" y="754.8" width="3.8" height="7.5" fill="#86a9ee" stroke="#3b5ca8" stroke-width="0.9"/>
<rect x="297.9" y="755.4" width="3.8" height="6.9" fill="#86a9ee" stroke="#3b5ca8" stroke-width="0.9"/>
<rect x="301.8" y="756.2" width="3.8" height="6.1" fill="#86a9ee" stroke="#3b5ca8" stroke-width="0.9"/>
<rect x="305.6" y="757.3" width="3.8" height="5" fill="#86a9ee" stroke="#3b5ca8" stroke-width="0.9"/>
<rect x="309.4" y="758.7" width="3.8" height="3.6" fill="#86a9ee" stroke="#3b5ca8" stroke-width="0.9"/>
<rect x="313.3" y="760.2" width="3.8" height="2.1" fill="#86a9ee" stroke="#3b5ca8" stroke-width="0.9"/>
<rect x="317.1" y="761" width="3.8" height="1.3" fill="#86a9ee" stroke="#3b5ca8" stroke-width="0.9"/>
<rect x="320.9" y="761.4" width="3.8" height="0.9" fill="#86a9ee" stroke="#3b5ca8" stroke-width="0.9"/>
<rect x="324.8" y="760.9" width="3.8" height="1.2" fill="#4d6fb5"/>
<rect x="328.6" y="762.3" width="3.8" height="1.4" fill="#ec92a2" stroke="#b8344e" stroke-width="0.9"/>
<rect x="332.5" y="762.3" width="3.8" height="2.7" fill="#ec92a2" stroke="#b8344e" stroke-width="0.9"/>
<rect x="336.3" y="762.3" width="3.8" height="3.6" fill="#ec92a2" stroke="#b8344e" stroke-width="0.9"/>
<rect x="340.1" y="762.3" width="3.8" height="4.4" fill="#ec92a2" stroke="#b8344e" stroke-width="0.9"/>
<rect x="344" y="762.3" width="3.8" height="4.7" fill="#ec92a2" stroke="#b8344e" stroke-width="0.9"/>
<rect x="347.8" y="762.3" width="3.8" height="3.9" fill="#ec92a2" stroke="#b8344e" stroke-width="0.9"/>
<rect x="351.6" y="762.3" width="3.8" height="3.2" fill="#ec92a2" stroke="#b8344e" stroke-width="0.9"/>
<rect x="355.5" y="762.3" width="3.8" height="1.8" fill="#ec92a2" stroke="#b8344e" stroke-width="0.9"/>
<rect x="359.3" y="762.3" width="3.8" height="0.7" fill="#ec92a2" stroke="#b8344e" stroke-width="0.9"/>
<rect x="363.1" y="762.5" width="3.8" height="1.2" fill="#4d6fb5"/>
<rect x="367" y="760.9" width="3.8" height="1.2" fill="#4d6fb5"/>
<rect x="370.8" y="760.9" width="3.8" height="1.2" fill="#4d6fb5"/>
<rect x="374.6" y="760.9" width="3.8" height="1.2" fill="#4d6fb5"/>
<rect x="378.5" y="762.5" width="3.8" height="1.2" fill="#4d6fb5"/>
<rect x="382.3" y="762.5" width="3.8" height="1.2" fill="#4d6fb5"/>
<rect x="386.1" y="760.9" width="3.8" height="1.2" fill="#4d6fb5"/>
<rect x="390" y="762.3" width="3.8" height="3.2" fill="#ec92a2" stroke="#b8344e" stroke-width="0.9"/>
<rect x="393.8" y="762.3" width="3.8" height="7.4" fill="#ec92a2" stroke="#b8344e" stroke-width="0.9"/>
<rect x="397.6" y="762.3" width="3.8" height="12.1" fill="#ec92a2" stroke="#b8344e" stroke-width="0.9"/>
<rect x="401.5" y="762.3" width="3.8" height="14" fill="#ec92a2" stroke="#b8344e" stroke-width="0.9"/>
<rect x="405.3" y="762.3" width="3.8" height="12.4" fill="#ec92a2" stroke="#b8344e" stroke-width="0.9"/>
<rect x="409.2" y="762.3" width="3.8" height="10.7" fill="#ec92a2" stroke="#b8344e" stroke-width="0.9"/>
<rect x="413" y="762.3" width="3.8" height="7.5" fill="#ec92a2" stroke="#b8344e" stroke-width="0.9"/>
<rect x="416.8" y="762.3" width="3.8" height="6.8" fill="#ec92a2" stroke="#b8344e" stroke-width="0.9"/>
<rect x="420.7" y="762.3" width="3.8" height="5.6" fill="#ec92a2" stroke="#b8344e" stroke-width="0.9"/>
<rect x="424.5" y="762.3" width="3.8" height="3.5" fill="#ec92a2" stroke="#b8344e" stroke-width="0.9"/>
<rect x="428.3" y="762.5" width="3.8" height="1.2" fill="#4d6fb5"/>
<rect x="432.2" y="759.2" width="3.8" height="3.1" fill="#86a9ee" stroke="#3b5ca8" stroke-width="0.9"/>
<rect x="436" y="757.1" width="3.8" height="5.2" fill="#86a9ee" stroke="#3b5ca8" stroke-width="0.9"/>
<rect x="439.8" y="755.7" width="3.8" height="6.6" fill="#86a9ee" stroke="#3b5ca8" stroke-width="0.9"/>
<rect x="443.7" y="755.2" width="3.8" height="7.1" fill="#86a9ee" stroke="#3b5ca8" stroke-width="0.9"/>
<rect x="447.5" y="755" width="3.8" height="7.3" fill="#86a9ee" stroke="#3b5ca8" stroke-width="0.9"/>
<rect x="451.3" y="755.5" width="3.8" height="6.8" fill="#86a9ee" stroke="#3b5ca8" stroke-width="0.9"/>
<rect x="455.2" y="755.8" width="3.8" height="6.5" fill="#86a9ee" stroke="#3b5ca8" stroke-width="0.9"/>
<rect x="459" y="755.2" width="3.8" height="7.1" fill="#86a9ee" stroke="#3b5ca8" stroke-width="0.9"/>
<rect x="462.8" y="754.2" width="3.8" height="8.1" fill="#86a9ee" stroke="#3b5ca8" stroke-width="0.9"/>
<rect x="466.7" y="752.1" width="3.8" height="10.2" fill="#86a9ee" stroke="#3b5ca8" stroke-width="0.9"/>
<rect x="470.5" y="747.4" width="3.8" height="14.9" fill="#86a9ee" stroke="#3b5ca8" stroke-width="0.9"/>
<rect x="474.3" y="742.5" width="3.8" height="19.8" fill="#86a9ee" stroke="#3b5ca8" stroke-width="0.9"/>
<rect x="478.2" y="738.3" width="3.8" height="24" fill="#86a9ee" stroke="#3b5ca8" stroke-width="0.9"/>
<rect x="482" y="735.1" width="3.8" height="27.2" fill="#86a9ee" stroke="#3b5ca8" stroke-width="0.9"/>
<rect x="485.9" y="733.7" width="3.8" height="28.6" fill="#86a9ee" stroke="#3b5ca8" stroke-width="0.9"/>
<rect x="489.7" y="734.9" width="3.8" height="27.4" fill="#86a9ee" stroke="#3b5ca8" stroke-width="0.9"/>
<rect x="493.5" y="739.3" width="3.8" height="23" fill="#86a9ee" stroke="#3b5ca8" stroke-width="0.9"/>
<rect x="497.4" y="742.8" width="3.8" height="19.5" fill="#86a9ee" stroke="#3b5ca8" stroke-width="0.9"/>
<rect x="501.2" y="747.2" width="3.8" height="15.1" fill="#86a9ee" stroke="#3b5ca8" stroke-width="0.9"/>
<rect x="505" y="756.6" width="3.8" height="5.7" fill="#86a9ee" stroke="#3b5ca8" stroke-width="0.9"/>
<rect x="508.9" y="761.4" width="3.8" height="0.9" fill="#86a9ee" stroke="#3b5ca8" stroke-width="0.9"/>
<rect x="512.7" y="762.3" width="3.8" height="2.4" fill="#ec92a2" stroke="#b8344e" stroke-width="0.9"/>
<rect x="516.5" y="762.3" width="3.8" height="4.8" fill="#ec92a2" stroke="#b8344e" stroke-width="0.9"/>
<rect x="520.4" y="762.3" width="3.8" height="7.1" fill="#ec92a2" stroke="#b8344e" stroke-width="0.9"/>
<rect x="524.2" y="762.3" width="3.8" height="8.4" fill="#ec92a2" stroke="#b8344e" stroke-width="0.9"/>
<rect x="528" y="762.3" width="3.8" height="8.1" fill="#ec92a2" stroke="#b8344e" stroke-width="0.9"/>
<rect x="531.9" y="762.3" width="3.8" height="8.6" fill="#ec92a2" stroke="#b8344e" stroke-width="0.9"/>
<rect x="535.7" y="762.3" width="3.8" height="9.6" fill="#ec92a2" stroke="#b8344e" stroke-width="0.9"/>
<rect x="539.5" y="762.3" width="3.8" height="10.7" fill="#ec92a2" stroke="#b8344e" stroke-width="0.9"/>
<rect x="543.4" y="762.3" width="3.8" height="11.3" fill="#ec92a2" stroke="#b8344e" stroke-width="0.9"/>
<rect x="547.2" y="762.3" width="3.8" height="10.9" fill="#ec92a2" stroke="#b8344e" stroke-width="0.9"/>
<rect x="551" y="762.3" width="3.8" height="8.3" fill="#ec92a2" stroke="#b8344e" stroke-width="0.9"/>
<rect x="554.9" y="762.3" width="3.8" height="5.7" fill="#ec92a2" stroke="#b8344e" stroke-width="0.9"/>
<rect x="558.7" y="762.3" width="3.8" height="4" fill="#ec92a2" stroke="#b8344e" stroke-width="0.9"/>
<rect x="562.6" y="762.3" width="3.8" height="5.5" fill="#ec92a2" stroke="#b8344e" stroke-width="0.9"/>
<rect x="566.4" y="762.3" width="3.8" height="5.5" fill="#ec92a2" stroke="#b8344e" stroke-width="0.9"/>
<rect x="570.2" y="762.3" width="3.8" height="4" fill="#ec92a2" stroke="#b8344e" stroke-width="0.9"/>
<rect x="574.1" y="762.3" width="3.8" height="2" fill="#ec92a2" stroke="#b8344e" stroke-width="0.9"/>
<rect x="577.9" y="762.5" width="3.8" height="1.2" fill="#4d6fb5"/>
<rect x="581.7" y="761.7" width="3.8" height="0.6" fill="#86a9ee" stroke="#3b5ca8" stroke-width="0.9"/>
<rect x="585.6" y="762.5" width="3.8" height="1.2" fill="#4d6fb5"/>
<rect x="589.4" y="762.3" width="3.8" height="1.3" fill="#ec92a2" stroke="#b8344e" stroke-width="0.9"/>
<rect x="593.2" y="762.3" width="3.8" height="3.2" fill="#ec92a2" stroke="#b8344e" stroke-width="0.9"/>
<rect x="597.1" y="762.3" width="3.8" height="4.9" fill="#ec92a2" stroke="#b8344e" stroke-width="0.9"/>
<rect x="600.9" y="762.3" width="3.8" height="6.2" fill="#ec92a2" stroke="#b8344e" stroke-width="0.9"/>
<rect x="604.7" y="762.3" width="3.8" height="6.9" fill="#ec92a2" stroke="#b8344e" stroke-width="0.9"/>
<rect x="608.6" y="762.3" width="3.8" height="7.1" fill="#ec92a2" stroke="#b8344e" stroke-width="0.9"/>
<rect x="612.4" y="762.3" width="3.8" height="6.4" fill="#ec92a2" stroke="#b8344e" stroke-width="0.9"/>
<rect x="616.2" y="762.3" width="3.8" height="5.4" fill="#ec92a2" stroke="#b8344e" stroke-width="0.9"/>
<rect x="620.1" y="762.3" width="3.8" height="4.5" fill="#ec92a2" stroke="#b8344e" stroke-width="0.9"/>
<rect x="623.9" y="762.3" width="3.8" height="3.4" fill="#ec92a2" stroke="#b8344e" stroke-width="0.9"/>
<rect x="627.7" y="762.3" width="3.8" height="1.2" fill="#ec92a2" stroke="#b8344e" stroke-width="0.9"/>
<rect x="631.6" y="760.9" width="3.8" height="1.2" fill="#4d6fb5"/>
<rect x="635.4" y="760.7" width="3.8" height="1.6" fill="#86a9ee" stroke="#3b5ca8" stroke-width="0.9"/>
<rect x="639.3" y="759.9" width="3.8" height="2.4" fill="#86a9ee" stroke="#3b5ca8" stroke-width="0.9"/>
<rect x="643.1" y="759.6" width="3.8" height="2.7" fill="#86a9ee" stroke="#3b5ca8" stroke-width="0.9"/>
<rect x="646.9" y="760.4" width="3.8" height="1.9" fill="#86a9ee" stroke="#3b5ca8" stroke-width="0.9"/>
<rect x="650.8" y="760.9" width="3.8" height="1.2" fill="#4d6fb5"/>
<rect x="654.6" y="762.3" width="3.8" height="2.6" fill="#ec92a2" stroke="#b8344e" stroke-width="0.9"/>
<rect x="658.4" y="762.3" width="3.8" height="4.3" fill="#ec92a2" stroke="#b8344e" stroke-width="0.9"/>
<rect x="662.3" y="762.3" width="3.8" height="5.2" fill="#ec92a2" stroke="#b8344e" stroke-width="0.9"/>
<rect x="666.1" y="762.3" width="3.8" height="6.4" fill="#ec92a2" stroke="#b8344e" stroke-width="0.9"/>
<rect x="669.9" y="762.3" width="3.8" height="7.4" fill="#ec92a2" stroke="#b8344e" stroke-width="0.9"/>
<rect x="673.8" y="762.3" width="3.8" height="8.4" fill="#ec92a2" stroke="#b8344e" stroke-width="0.9"/>
<rect x="677.6" y="762.3" width="3.8" height="9.3" fill="#ec92a2" stroke="#b8344e" stroke-width="0.9"/>
<rect x="681.4" y="762.3" width="3.8" height="10.3" fill="#ec92a2" stroke="#b8344e" stroke-width="0.9"/>
<rect x="685.3" y="762.3" width="3.8" height="10.9" fill="#ec92a2" stroke="#b8344e" stroke-width="0.9"/>
<rect x="689.1" y="762.3" width="3.8" height="9.8" fill="#ec92a2" stroke="#b8344e" stroke-width="0.9"/>
<rect x="692.9" y="762.3" width="3.8" height="8.3" fill="#ec92a2" stroke="#b8344e" stroke-width="0.9"/>
<rect x="696.8" y="762.3" width="3.8" height="8.7" fill="#ec92a2" stroke="#b8344e" stroke-width="0.9"/>
<rect x="700.6" y="762.3" width="3.8" height="9.1" fill="#ec92a2" stroke="#b8344e" stroke-width="0.9"/>
<rect x="704.4" y="762.3" width="3.8" height="9.3" fill="#ec92a2" stroke="#b8344e" stroke-width="0.9"/>
<rect x="708.3" y="762.3" width="3.8" height="9.2" fill="#ec92a2" stroke="#b8344e" stroke-width="0.9"/>
<rect x="712.1" y="762.3" width="3.8" height="8.5" fill="#ec92a2" stroke="#b8344e" stroke-width="0.9"/>
<rect x="716" y="762.3" width="3.8" height="5.8" fill="#ec92a2" stroke="#b8344e" stroke-width="0.9"/>
<rect x="719.8" y="762.3" width="3.8" height="2.8" fill="#ec92a2" stroke="#b8344e" stroke-width="0.9"/>
<rect x="723.6" y="762.5" width="3.8" height="1.2" fill="#4d6fb5"/>
<rect x="727.5" y="759.8" width="3.8" height="2.5" fill="#86a9ee" stroke="#3b5ca8" stroke-width="0.9"/>
<rect x="731.3" y="758.1" width="3.8" height="4.2" fill="#86a9ee" stroke="#3b5ca8" stroke-width="0.9"/>
<rect x="735.1" y="757.6" width="3.8" height="4.7" fill="#86a9ee" stroke="#3b5ca8" stroke-width="0.9"/>
<rect x="739" y="759.5" width="3.8" height="2.8" fill="#86a9ee" stroke="#3b5ca8" stroke-width="0.9"/>
<rect x="742.8" y="760.9" width="3.8" height="1.2" fill="#4d6fb5"/>
<rect x="746.6" y="762.3" width="3.8" height="1.1" fill="#ec92a2" stroke="#b8344e" stroke-width="0.9"/>
<rect x="750.5" y="762.3" width="3.8" height="1.7" fill="#ec92a2" stroke="#b8344e" stroke-width="0.9"/>
<rect x="754.3" y="762.3" width="3.8" height="1.3" fill="#ec92a2" stroke="#b8344e" stroke-width="0.9"/>
<rect x="758.1" y="762.3" width="3.8" height="0.7" fill="#ec92a2" stroke="#b8344e" stroke-width="0.9"/>
<rect x="762" y="762.3" width="3.8" height="1.2" fill="#ec92a2" stroke="#b8344e" stroke-width="0.9"/>
<rect x="765.8" y="760.9" width="3.8" height="1.2" fill="#4d6fb5"/>
<rect x="769.6" y="760.6" width="3.8" height="1.7" fill="#86a9ee" stroke="#3b5ca8" stroke-width="0.9"/>
<rect x="773.5" y="761.2" width="3.8" height="1.1" fill="#86a9ee" stroke="#3b5ca8" stroke-width="0.9"/>
<rect x="777.3" y="761.6" width="3.8" height="0.7" fill="#86a9ee" stroke="#3b5ca8" stroke-width="0.9"/>
<rect x="781.1" y="761.4" width="3.8" height="0.9" fill="#86a9ee" stroke="#3b5ca8" stroke-width="0.9"/>
<rect x="785" y="760.2" width="3.8" height="2.1" fill="#86a9ee" stroke="#3b5ca8" stroke-width="0.9"/>
<rect x="788.8" y="757.7" width="3.8" height="4.6" fill="#86a9ee" stroke="#3b5ca8" stroke-width="0.9"/>
<rect x="792.7" y="753.9" width="3.8" height="8.4" fill="#86a9ee" stroke="#3b5ca8" stroke-width="0.9"/>
<rect x="796.5" y="752.7" width="3.8" height="9.6" fill="#86a9ee" stroke="#3b5ca8" stroke-width="0.9"/>
<rect x="800.3" y="752.3" width="3.8" height="10" fill="#86a9ee" stroke="#3b5ca8" stroke-width="0.9"/>
<rect x="804.2" y="752.1" width="3.8" height="10.2" fill="#86a9ee" stroke="#3b5ca8" stroke-width="0.9"/>
<rect x="808" y="754.1" width="3.8" height="8.2" fill="#86a9ee" stroke="#3b5ca8" stroke-width="0.9"/>
<rect x="811.8" y="755.9" width="3.8" height="6.4" fill="#86a9ee" stroke="#3b5ca8" stroke-width="0.9"/>
<rect x="815.7" y="756.2" width="3.8" height="6.1" fill="#86a9ee" stroke="#3b5ca8" stroke-width="0.9"/>
<rect x="819.5" y="758.8" width="3.8" height="3.5" fill="#86a9ee" stroke="#3b5ca8" stroke-width="0.9"/>
<rect x="823.3" y="762.5" width="3.8" height="1.2" fill="#4d6fb5"/>
<rect x="827.2" y="762.3" width="3.8" height="3.5" fill="#ec92a2" stroke="#b8344e" stroke-width="0.9"/>
<rect x="831" y="762.3" width="3.8" height="7.1" fill="#ec92a2" stroke="#b8344e" stroke-width="0.9"/>
<rect x="834.8" y="762.3" width="3.8" height="8.8" fill="#ec92a2" stroke="#b8344e" stroke-width="0.9"/>
<rect x="838.7" y="762.3" width="3.8" height="8.6" fill="#ec92a2" stroke="#b8344e" stroke-width="0.9"/>
<rect x="842.5" y="762.3" width="3.8" height="8.4" fill="#ec92a2" stroke="#b8344e" stroke-width="0.9"/>
<rect x="846.3" y="762.3" width="3.8" height="8.3" fill="#ec92a2" stroke="#b8344e" stroke-width="0.9"/>
<rect x="850.2" y="762.3" width="3.8" height="8.1" fill="#ec92a2" stroke="#b8344e" stroke-width="0.9"/>
<rect x="854" y="762.3" width="3.8" height="8.4" fill="#ec92a2" stroke="#b8344e" stroke-width="0.9"/>
<rect x="857.8" y="762.3" width="3.8" height="9.8" fill="#ec92a2" stroke="#b8344e" stroke-width="0.9"/>
<rect x="861.7" y="762.3" width="3.8" height="10.8" fill="#ec92a2" stroke="#b8344e" stroke-width="0.9"/>
<rect x="865.5" y="762.3" width="3.8" height="11.4" fill="#ec92a2" stroke="#b8344e" stroke-width="0.9"/>
<rect x="869.4" y="762.3" width="3.8" height="10.4" fill="#ec92a2" stroke="#b8344e" stroke-width="0.9"/>
<rect x="873.2" y="762.3" width="3.8" height="8.4" fill="#ec92a2" stroke="#b8344e" stroke-width="0.9"/>
<rect x="877" y="762.3" width="3.8" height="5.6" fill="#ec92a2" stroke="#b8344e" stroke-width="0.9"/>
<rect x="880.9" y="762.3" width="3.8" height="1.8" fill="#ec92a2" stroke="#b8344e" stroke-width="0.9"/>
<rect x="884.7" y="762.3" width="3.8" height="1.9" fill="#ec92a2" stroke="#b8344e" stroke-width="0.9"/>
<rect x="888.5" y="762.3" width="3.8" height="2.7" fill="#ec92a2" stroke="#b8344e" stroke-width="0.9"/>
<rect x="892.4" y="762.3" width="3.8" height="3.4" fill="#ec92a2" stroke="#b8344e" stroke-width="0.9"/>
<rect x="896.2" y="762.3" width="3.8" height="2.9" fill="#ec92a2" stroke="#b8344e" stroke-width="0.9"/>
<rect x="900" y="762.3" width="3.8" height="1.5" fill="#ec92a2" stroke="#b8344e" stroke-width="0.9"/>
<rect x="903.9" y="760.9" width="3.8" height="1.2" fill="#4d6fb5"/>
<rect x="907.7" y="760.4" width="3.8" height="1.9" fill="#86a9ee" stroke="#3b5ca8" stroke-width="0.9"/>
<rect x="911.5" y="759.8" width="3.8" height="2.5" fill="#86a9ee" stroke="#3b5ca8" stroke-width="0.9"/>
<rect x="915.4" y="759.8" width="3.8" height="2.5" fill="#86a9ee" stroke="#3b5ca8" stroke-width="0.9"/>
<rect x="919.2" y="758.9" width="3.8" height="3.4" fill="#86a9ee" stroke="#3b5ca8" stroke-width="0.9"/>
<rect x="923" y="757.7" width="3.8" height="4.6" fill="#86a9ee" stroke="#3b5ca8" stroke-width="0.9"/>
<rect x="926.9" y="754.8" width="3.8" height="7.5" fill="#86a9ee" stroke="#3b5ca8" stroke-width="0.9"/>
<rect x="930.7" y="752.5" width="3.8" height="9.8" fill="#86a9ee" stroke="#3b5ca8" stroke-width="0.9"/>
<rect x="934.5" y="750.6" width="3.8" height="11.7" fill="#86a9ee" stroke="#3b5ca8" stroke-width="0.9"/>
<rect x="938.4" y="748.7" width="3.8" height="13.6" fill="#86a9ee" stroke="#3b5ca8" stroke-width="0.9"/>
<rect x="942.2" y="746.8" width="3.8" height="15.5" fill="#86a9ee" stroke="#3b5ca8" stroke-width="0.9"/>
<rect x="946.1" y="746.2" width="3.8" height="16.1" fill="#86a9ee" stroke="#3b5ca8" stroke-width="0.9"/>
<rect x="949.9" y="745.9" width="3.8" height="16.4" fill="#86a9ee" stroke="#3b5ca8" stroke-width="0.9"/>
<rect x="953.7" y="746.6" width="3.8" height="15.7" fill="#86a9ee" stroke="#3b5ca8" stroke-width="0.9"/>
<rect x="957.6" y="747.4" width="3.8" height="14.9" fill="#86a9ee" stroke="#3b5ca8" stroke-width="0.9"/>
<rect x="961.4" y="748.9" width="3.8" height="13.4" fill="#86a9ee" stroke="#3b5ca8" stroke-width="0.9"/>
<rect x="965.2" y="750.6" width="3.8" height="11.7" fill="#86a9ee" stroke="#3b5ca8" stroke-width="0.9"/>
<rect x="969.1" y="752.5" width="3.8" height="9.8" fill="#86a9ee" stroke="#3b5ca8" stroke-width="0.9"/>
<rect x="972.9" y="755.7" width="3.8" height="6.6" fill="#86a9ee" stroke="#3b5ca8" stroke-width="0.9"/>
<rect x="976.7" y="759.4" width="3.8" height="2.9" fill="#86a9ee" stroke="#3b5ca8" stroke-width="0.9"/>
<rect x="980.6" y="762.3" width="3.8" height="0.6" fill="#ec92a2" stroke="#b8344e" stroke-width="0.9"/>
<rect x="984.4" y="762.3" width="3.8" height="3" fill="#ec92a2" stroke="#b8344e" stroke-width="0.9"/>
<rect x="988.2" y="762.3" width="3.8" height="5.4" fill="#ec92a2" stroke="#b8344e" stroke-width="0.9"/>
<rect x="992.1" y="762.3" width="3.8" height="7.4" fill="#ec92a2" stroke="#b8344e" stroke-width="0.9"/>
<rect x="995.9" y="762.3" width="3.8" height="7.8" fill="#ec92a2" stroke="#b8344e" stroke-width="0.9"/>
<rect x="999.7" y="762.3" width="3.8" height="5.4" fill="#ec92a2" stroke="#b8344e" stroke-width="0.9"/>
<rect x="1003.6" y="762.3" width="3.8" height="2.7" fill="#ec92a2" stroke="#b8344e" stroke-width="0.9"/>
<rect x="1007.4" y="761.1" width="3.8" height="1.2" fill="#86a9ee" stroke="#3b5ca8" stroke-width="0.9"/>
<rect x="1011.2" y="757.9" width="3.8" height="4.4" fill="#86a9ee" stroke="#3b5ca8" stroke-width="0.9"/>
<rect x="1015.1" y="757.1" width="3.8" height="5.2" fill="#86a9ee" stroke="#3b5ca8" stroke-width="0.9"/>
<polyline points="16.1,765.1 19.9,764.7 23.7,764.4 27.6,764.1 31.4,763.9 35.2,763.8 39.1,763.7 42.9,763.6 46.7,763.6 50.6,763.6 54.4,763.6 58.2,763.8 62.1,764.2 65.9,764.8 69.8,765.6 73.6,766.5 77.4,767.3 81.3,768.3 85.1,769.3 88.9,770.4 92.8,771.6 96.6,772.7 100.4,773.7 104.3,774.5 108.1,775 111.9,775.1 115.8,775.1 119.6,775 123.4,774.8 127.3,774.6 131.1,774.4 135,774.3 138.8,774.1 142.6,773.8 146.5,773.4 150.3,772.9 154.1,772.1 158,771 161.8,769.6 165.6,768.2 169.5,766.6 173.3,765.2 177.1,763.9 181,762.7 184.8,761.7 188.6,761 192.5,760.4 196.3,760.1 200.1,759.9 204,759.9 207.8,760.1 211.6,760.3 215.5,760.6 219.3,760.9 223.2,761.3 227,761.8 230.8,762.3 234.7,762.9 238.5,763.6 242.3,764 246.2,764.3 250,764.4 253.8,764.3 257.7,764.2 261.5,763.9 265.3,763.6 269.2,762.9 273,762 276.8,760.8 280.7,759.3 284.5,757.5 288.4,755.6 292.2,753.6 296,751.7 299.9,749.9 303.7,748.4 307.5,747.2 311.4,746.3 315.2,745.7 319,745.4 322.9,745.2 326.7,745.2 330.5,745.5 334.4,746.2 338.2,747.1 342,748.2 345.9,749.4 349.7,750.3 353.5,751.1 357.4,751.6 361.2,751.7 365,751.8 368.9,751.7 372.7,751.7 376.6,751.6 380.4,751.7 384.2,751.7 388.1,751.7 391.9,752.5 395.7,754.4 399.6,757.4 403.4,760.9 407.2,764 411.1,766.6 414.9,768.5 418.7,770.2 422.6,771.6 426.4,772.5 430.2,772.6 434.1,771.8 437.9,770.5 441.8,768.9 445.6,767.1 449.4,765.3 453.3,763.6 457.1,761.9 460.9,760.2 464.8,758.1 468.6,755.6 472.4,751.9 476.3,746.9 480.1,740.9 483.9,734.2 487.8,727 491.6,720.1 495.4,714.4 499.3,709.5 503.1,705.8 506.9,704.3 510.8,704.1 514.6,704.7 518.5,705.9 522.3,707.7 526.1,709.8 530,711.8 533.8,714 537.6,716.4 541.5,719.1 545.3,721.9 549.1,724.6 553,726.7 556.8,728.1 560.6,729.1 564.5,730.5 568.3,731.9 572.1,732.9 576,733.4 579.8,733.4 583.6,733.2 587.5,733.2 591.3,733.6 595.1,734.4 599,735.6 602.8,737.2 606.7,738.9 610.5,740.7 614.3,742.2 618.2,743.6 622,744.7 625.8,745.6 629.7,745.8 633.5,745.7 637.3,745.3 641.2,744.7 645,744.1 648.8,743.6 652.7,743.6 656.5,744.2 660.3,745.3 664.2,746.6 668,748.2 671.9,750.1 675.7,752.2 679.5,754.5 683.4,757.1 687.2,759.8 691,762.2 694.9,764.3 698.7,766.5 702.5,768.8 706.4,771.1 710.2,773.4 714,775.6 717.9,777 721.7,777.7 725.5,777.7 729.4,777.1 733.2,776.1 737,774.9 740.9,774.2 744.7,774.1 748.5,774.4 752.4,774.8 756.2,775.1 760.1,775.3 763.9,775.6 767.7,775.6 771.6,775.1 775.4,774.8 779.2,774.7 783.1,774.4 786.9,773.9 790.7,772.8 794.6,770.7 798.4,768.3 802.2,765.8 806.1,763.2 809.9,761.2 813.7,759.6 817.6,758.1 821.4,757.2 825.2,757.2 829.1,758.1 832.9,759.9 836.8,762.1 840.6,764.2 844.4,766.3 848.3,768.4 852.1,770.4 855.9,772.5 859.8,775 863.6,777.7 867.4,780.5 871.3,783.1 875.1,785.2 878.9,786.6 882.8,787 886.6,787.5 890.4,788.2 894.3,789 898.1,789.7 902,790.1 905.8,790 909.6,789.6 913.5,788.9 917.3,788.3 921.1,787.4 925,786.3 928.8,784.4 932.6,782 936.5,779 940.3,775.6 944.1,771.8 948,767.7 951.8,763.6 955.6,759.7 959.5,756 963.3,752.6 967.1,749.7 971,747.2 974.8,745.6 978.6,744.9 982.5,745 986.3,745.8 990.2,747.1 994,749 997.8,750.9 1001.7,752.3 1005.5,752.9 1009.3,752.6 1013.2,751.5 1017,750.2" fill="none" stroke="#d8324e" stroke-width="1.4" stroke-linejoin="round" stroke-linecap="round" />
<polyline points="15,765 20,763.3 30,763 43.3,763.3 55,763.7 61.7,765.7 70,769 78.3,771 86.7,774 93.3,776.7 100,777.7 106.7,777.3 113.3,775.3 121.7,774.3 128.3,773.7 135,773.7 143.3,772.7 150,771 156.7,767.3 163.3,763.3 170,760.3 176.7,758.7 183.3,757.7 191.7,758 200,759.3 210,761 220,762.3 230,764.3 240,766.3 248.3,765 256.7,763.7 265,762.3 271.7,759.3 278.3,755 285,750 291.7,745.7 298.3,743.3 305,742 310,742.3 316.7,744 325,744.3 330,746.7 336.7,750 345,754 353.3,754.3 360,752.7 366.7,751.7 375,751.3 383.3,752 388.3,751.7 393.3,757.3 398.3,766.7 401.7,774.3 405,775.3 410,777.7 415,776 420,777.3 425,777 430,773.3 435,767.7 441.7,762.3 448.3,758.3 456.7,755.7 463.3,751.7 468.3,746 473.3,735 478.3,721.7 483.3,708.3 490,693.3 496.7,691 502.3,689 506.7,698.3 511.7,704.3 518.3,710.7 525,717.7 531.7,720.7 538.3,726.7 543.3,731.7 548.3,735.7 553.3,735 560,732.7 566.7,737.7 573.3,736.7 580,733.3 585,732.3 591.7,735 598.3,740 605,745 611.7,748.3 618.3,749 625,749.3 631.7,746 640,742.7 646.7,741 651.7,742.7 658.3,748.3 665,752.3 671.7,757.3 678.3,762.7 683.3,767.3 688.3,771.7 695,772.7 701.7,777.3 708.3,781.7 713.3,784.3 718.3,782.7 725,778.3 731.7,772.7 736.7,770 741.7,771.7 746.7,775 753.3,776.7 760,776 765,777 771.7,773.3 778.3,774 785,773.3 790,769.3 795,761.7 800,757.3 806.7,752.7 813.3,753.3 818.3,751.7 823.3,755 830,762.7 835,770 841.7,773.3 848.3,776.7 855,780 861.7,786.7 868.3,792.7 873.3,794 878.3,792.7 883.3,788.3 888.3,790 895,792.7 900,792.7 905,790 911.7,786.7 918.3,785.7 925,781.7 931.7,773.3 938.3,765 945,755 951.7,747.3 958.3,741.7 965,738.3 971.7,737.3 976.7,740 981.7,745 986.7,749 991.7,754 996.7,759 1001.7,757.7 1006.7,755 1011.7,748.3 1016,745" fill="none" stroke="#223a78" stroke-width="2.1" stroke-linejoin="round" stroke-linecap="round" />
<ellipse cx="992.5" cy="748" rx="57" ry="41" fill="none" stroke="#5a9a3a" stroke-width="2.4"/>
<rect x="14" y="637.6" width="4.2" height="39.6" fill="#50853a" stroke="#2a5715" stroke-width="1" fill-opacity="0.93"/>
<rect x="17.8" y="628.7" width="4.2" height="48.5" fill="#50853a" stroke="#2a5715" stroke-width="1" fill-opacity="0.93"/>
<rect x="21.6" y="640.6" width="4.2" height="36.6" fill="#ca4661" stroke="#aa1838" stroke-width="1" fill-opacity="0.93"/>
<rect x="25.5" y="645.1" width="4.2" height="32.1" fill="#50853a" stroke="#2a5715" stroke-width="1" fill-opacity="0.93"/>
<rect x="29.3" y="648.2" width="4.2" height="29" fill="#50853a" stroke="#2a5715" stroke-width="1" fill-opacity="0.93"/>
<rect x="33.1" y="649.5" width="4.2" height="27.7" fill="#ca4661" stroke="#aa1838" stroke-width="1" fill-opacity="0.93"/>
<rect x="37" y="643.5" width="4.2" height="33.7" fill="#50853a" stroke="#2a5715" stroke-width="1" fill-opacity="0.93"/>
<rect x="40.8" y="649.5" width="4.2" height="27.7" fill="#ca4661" stroke="#aa1838" stroke-width="1" fill-opacity="0.93"/>
<rect x="44.6" y="638.9" width="4.2" height="38.3" fill="#50853a" stroke="#2a5715" stroke-width="1" fill-opacity="0.93"/>
<rect x="48.5" y="628.7" width="4.2" height="48.5" fill="#ca4661" stroke="#aa1838" stroke-width="1" fill-opacity="0.93"/>
<rect x="52.3" y="642.4" width="4.2" height="34.8" fill="#ca4661" stroke="#aa1838" stroke-width="1" fill-opacity="0.93"/>
<rect x="56.1" y="640.6" width="4.2" height="36.6" fill="#ca4661" stroke="#aa1838" stroke-width="1" fill-opacity="0.93"/>
<rect x="60" y="651.2" width="4.2" height="26" fill="#ca4661" stroke="#aa1838" stroke-width="1" fill-opacity="0.93"/>
<rect x="63.8" y="646.5" width="4.2" height="30.7" fill="#ca4661" stroke="#aa1838" stroke-width="1" fill-opacity="0.93"/>
<rect x="67.7" y="645.1" width="4.2" height="32.1" fill="#ca4661" stroke="#aa1838" stroke-width="1" fill-opacity="0.93"/>
<rect x="71.5" y="651.2" width="4.2" height="26" fill="#ca4661" stroke="#aa1838" stroke-width="1" fill-opacity="0.93"/>
<rect x="75.3" y="651.2" width="4.2" height="26" fill="#ca4661" stroke="#aa1838" stroke-width="1" fill-opacity="0.93"/>
<rect x="79.2" y="649.5" width="4.2" height="27.7" fill="#ca4661" stroke="#aa1838" stroke-width="1" fill-opacity="0.93"/>
<rect x="83" y="634.4" width="4.2" height="42.8" fill="#ca4661" stroke="#aa1838" stroke-width="1" fill-opacity="0.93"/>
<rect x="86.8" y="640.6" width="4.2" height="36.6" fill="#50853a" stroke="#2a5715" stroke-width="1" fill-opacity="0.93"/>
<rect x="90.7" y="651.2" width="4.2" height="26" fill="#ca4661" stroke="#aa1838" stroke-width="1" fill-opacity="0.93"/>
<rect x="94.5" y="646.5" width="4.2" height="30.7" fill="#ca4661" stroke="#aa1838" stroke-width="1" fill-opacity="0.93"/>
<rect x="98.3" y="645.1" width="4.2" height="32.1" fill="#ca4661" stroke="#aa1838" stroke-width="1" fill-opacity="0.93"/>
<rect x="102.2" y="643.5" width="4.2" height="33.7" fill="#50853a" stroke="#2a5715" stroke-width="1" fill-opacity="0.93"/>
<rect x="106" y="637.6" width="4.2" height="39.6" fill="#50853a" stroke="#2a5715" stroke-width="1" fill-opacity="0.93"/>
<rect x="109.8" y="643.5" width="4.2" height="33.7" fill="#ca4661" stroke="#aa1838" stroke-width="1" fill-opacity="0.93"/>
<rect x="113.7" y="645.1" width="4.2" height="32.1" fill="#ca4661" stroke="#aa1838" stroke-width="1" fill-opacity="0.93"/>
<rect x="117.5" y="649.5" width="4.2" height="27.7" fill="#50853a" stroke="#2a5715" stroke-width="1" fill-opacity="0.93"/>
<rect x="121.3" y="646.5" width="4.2" height="30.7" fill="#50853a" stroke="#2a5715" stroke-width="1" fill-opacity="0.93"/>
<rect x="125.2" y="637.6" width="4.2" height="39.6" fill="#50853a" stroke="#2a5715" stroke-width="1" fill-opacity="0.93"/>
<rect x="129" y="640.6" width="4.2" height="36.6" fill="#ca4661" stroke="#aa1838" stroke-width="1" fill-opacity="0.93"/>
<rect x="132.9" y="642.1" width="4.2" height="35.1" fill="#50853a" stroke="#2a5715" stroke-width="1" fill-opacity="0.93"/>
<rect x="136.7" y="648.2" width="4.2" height="29" fill="#ca4661" stroke="#aa1838" stroke-width="1" fill-opacity="0.93"/>
<rect x="140.5" y="642.1" width="4.2" height="35.1" fill="#ca4661" stroke="#aa1838" stroke-width="1" fill-opacity="0.93"/>
<rect x="144.4" y="651.2" width="4.2" height="26" fill="#50853a" stroke="#2a5715" stroke-width="1" fill-opacity="0.93"/>
<rect x="148.2" y="651.2" width="4.2" height="26" fill="#ca4661" stroke="#aa1838" stroke-width="1" fill-opacity="0.93"/>
<rect x="152" y="652.6" width="4.2" height="24.6" fill="#50853a" stroke="#2a5715" stroke-width="1" fill-opacity="0.93"/>
<rect x="155.9" y="657.1" width="4.2" height="20.1" fill="#50853a" stroke="#2a5715" stroke-width="1" fill-opacity="0.93"/>
<rect x="159.7" y="649.5" width="4.2" height="27.7" fill="#50853a" stroke="#2a5715" stroke-width="1" fill-opacity="0.93"/>
<rect x="163.5" y="649.5" width="4.2" height="27.7" fill="#ca4661" stroke="#aa1838" stroke-width="1" fill-opacity="0.93"/>
<rect x="167.4" y="654" width="4.2" height="23.2" fill="#ca4661" stroke="#aa1838" stroke-width="1" fill-opacity="0.93"/>
<rect x="171.2" y="654" width="4.2" height="23.2" fill="#ca4661" stroke="#aa1838" stroke-width="1" fill-opacity="0.93"/>
<rect x="175" y="648.2" width="4.2" height="29" fill="#50853a" stroke="#2a5715" stroke-width="1" fill-opacity="0.93"/>
<rect x="178.9" y="654" width="4.2" height="23.2" fill="#ca4661" stroke="#aa1838" stroke-width="1" fill-opacity="0.93"/>
<rect x="182.7" y="648.2" width="4.2" height="29" fill="#ca4661" stroke="#aa1838" stroke-width="1" fill-opacity="0.93"/>
<rect x="186.5" y="643.5" width="4.2" height="33.7" fill="#50853a" stroke="#2a5715" stroke-width="1" fill-opacity="0.93"/>
<rect x="190.4" y="646.5" width="4.2" height="30.7" fill="#ca4661" stroke="#aa1838" stroke-width="1" fill-opacity="0.93"/>
<rect x="194.2" y="648.2" width="4.2" height="29" fill="#50853a" stroke="#2a5715" stroke-width="1" fill-opacity="0.93"/>
<rect x="198" y="654" width="4.2" height="23.2" fill="#ca4661" stroke="#aa1838" stroke-width="1" fill-opacity="0.93"/>
<rect x="201.9" y="654" width="4.2" height="23.2" fill="#50853a" stroke="#2a5715" stroke-width="1" fill-opacity="0.93"/>
<rect x="205.7" y="650.8" width="4.2" height="26.4" fill="#ca4661" stroke="#aa1838" stroke-width="1" fill-opacity="0.93"/>
<rect x="209.5" y="648.2" width="4.2" height="29" fill="#ca4661" stroke="#aa1838" stroke-width="1" fill-opacity="0.93"/>
<rect x="213.4" y="646.5" width="4.2" height="30.7" fill="#ca4661" stroke="#aa1838" stroke-width="1" fill-opacity="0.93"/>
<rect x="217.2" y="654" width="4.2" height="23.2" fill="#ca4661" stroke="#aa1838" stroke-width="1" fill-opacity="0.93"/>
<rect x="221.1" y="646.5" width="4.2" height="30.7" fill="#50853a" stroke="#2a5715" stroke-width="1" fill-opacity="0.93"/>
<rect x="224.9" y="646.5" width="4.2" height="30.7" fill="#ca4661" stroke="#aa1838" stroke-width="1" fill-opacity="0.93"/>
<rect x="228.7" y="652.6" width="4.2" height="24.6" fill="#ca4661" stroke="#aa1838" stroke-width="1" fill-opacity="0.93"/>
<rect x="232.6" y="652.6" width="4.2" height="24.6" fill="#ca4661" stroke="#aa1838" stroke-width="1" fill-opacity="0.93"/>
<rect x="236.4" y="657.1" width="4.2" height="20.1" fill="#50853a" stroke="#2a5715" stroke-width="1" fill-opacity="0.93"/>
<rect x="240.2" y="649.5" width="4.2" height="27.7" fill="#50853a" stroke="#2a5715" stroke-width="1" fill-opacity="0.93"/>
<rect x="244.1" y="633.2" width="4.2" height="44" fill="#50853a" stroke="#2a5715" stroke-width="1" fill-opacity="0.93"/>
<rect x="247.9" y="640.6" width="4.2" height="36.6" fill="#ca4661" stroke="#aa1838" stroke-width="1" fill-opacity="0.93"/>
<rect x="251.7" y="625.6" width="4.2" height="51.6" fill="#50853a" stroke="#2a5715" stroke-width="1" fill-opacity="0.93"/>
<rect x="255.6" y="636.2" width="4.2" height="41" fill="#50853a" stroke="#2a5715" stroke-width="1" fill-opacity="0.93"/>
<rect x="259.4" y="650.8" width="4.2" height="26.4" fill="#ca4661" stroke="#aa1838" stroke-width="1" fill-opacity="0.93"/>
<rect x="263.2" y="652.6" width="4.2" height="24.6" fill="#50853a" stroke="#2a5715" stroke-width="1" fill-opacity="0.93"/>
<rect x="267.1" y="623.9" width="4.2" height="53.3" fill="#50853a" stroke="#2a5715" stroke-width="1" fill-opacity="0.93"/>
<rect x="270.9" y="634.6" width="4.2" height="42.6" fill="#50853a" stroke="#2a5715" stroke-width="1" fill-opacity="0.93"/>
<rect x="274.7" y="638.9" width="4.2" height="38.3" fill="#ca4661" stroke="#aa1838" stroke-width="1" fill-opacity="0.93"/>
<rect x="278.6" y="626.9" width="4.2" height="50.3" fill="#50853a" stroke="#2a5715" stroke-width="1" fill-opacity="0.93"/>
<rect x="282.4" y="630.1" width="4.2" height="47.1" fill="#50853a" stroke="#2a5715" stroke-width="1" fill-opacity="0.93"/>
<rect x="286.2" y="642.1" width="4.2" height="35.1" fill="#50853a" stroke="#2a5715" stroke-width="1" fill-opacity="0.93"/>
<rect x="290.1" y="625.6" width="4.2" height="51.6" fill="#50853a" stroke="#2a5715" stroke-width="1" fill-opacity="0.93"/>
<rect x="293.9" y="610.5" width="4.2" height="66.7" fill="#ca4661" stroke="#aa1838" stroke-width="1" fill-opacity="0.93"/>
<rect x="297.8" y="630.1" width="4.2" height="47.1" fill="#ca4661" stroke="#aa1838" stroke-width="1" fill-opacity="0.93"/>
<rect x="301.6" y="640.6" width="4.2" height="36.6" fill="#50853a" stroke="#2a5715" stroke-width="1" fill-opacity="0.93"/>
<rect x="305.4" y="622.6" width="4.2" height="54.6" fill="#ca4661" stroke="#aa1838" stroke-width="1" fill-opacity="0.93"/>
<rect x="309.3" y="645.1" width="4.2" height="32.1" fill="#ca4661" stroke="#aa1838" stroke-width="1" fill-opacity="0.93"/>
<rect x="313.1" y="643.5" width="4.2" height="33.7" fill="#ca4661" stroke="#aa1838" stroke-width="1" fill-opacity="0.93"/>
<rect x="316.9" y="651.2" width="4.2" height="26" fill="#50853a" stroke="#2a5715" stroke-width="1" fill-opacity="0.93"/>
<rect x="320.8" y="643.5" width="4.2" height="33.7" fill="#50853a" stroke="#2a5715" stroke-width="1" fill-opacity="0.93"/>
<rect x="324.6" y="638.9" width="4.2" height="38.3" fill="#50853a" stroke="#2a5715" stroke-width="1" fill-opacity="0.93"/>
<rect x="328.4" y="623.9" width="4.2" height="53.3" fill="#ca4661" stroke="#aa1838" stroke-width="1" fill-opacity="0.93"/>
<rect x="332.3" y="640.6" width="4.2" height="36.6" fill="#50853a" stroke="#2a5715" stroke-width="1" fill-opacity="0.93"/>
<rect x="336.1" y="637.6" width="4.2" height="39.6" fill="#50853a" stroke="#2a5715" stroke-width="1" fill-opacity="0.93"/>
<rect x="339.9" y="654" width="4.2" height="23.2" fill="#50853a" stroke="#2a5715" stroke-width="1" fill-opacity="0.93"/>
<rect x="343.8" y="638.9" width="4.2" height="38.3" fill="#ca4661" stroke="#aa1838" stroke-width="1" fill-opacity="0.93"/>
<rect x="347.6" y="646.5" width="4.2" height="30.7" fill="#50853a" stroke="#2a5715" stroke-width="1" fill-opacity="0.93"/>
<rect x="351.4" y="655.6" width="4.2" height="21.6" fill="#50853a" stroke="#2a5715" stroke-width="1" fill-opacity="0.93"/>
<rect x="355.3" y="652.6" width="4.2" height="24.6" fill="#50853a" stroke="#2a5715" stroke-width="1" fill-opacity="0.93"/>
<rect x="359.1" y="649.5" width="4.2" height="27.7" fill="#50853a" stroke="#2a5715" stroke-width="1" fill-opacity="0.93"/>
<rect x="362.9" y="623.9" width="4.2" height="53.3" fill="#ca4661" stroke="#aa1838" stroke-width="1" fill-opacity="0.93"/>
<rect x="366.8" y="648.2" width="4.2" height="29" fill="#ca4661" stroke="#aa1838" stroke-width="1" fill-opacity="0.93"/>
<rect x="370.6" y="649.5" width="4.2" height="27.7" fill="#50853a" stroke="#2a5715" stroke-width="1" fill-opacity="0.93"/>
<rect x="374.5" y="643.5" width="4.2" height="33.7" fill="#ca4661" stroke="#aa1838" stroke-width="1" fill-opacity="0.93"/>
<rect x="378.3" y="648.2" width="4.2" height="29" fill="#ca4661" stroke="#aa1838" stroke-width="1" fill-opacity="0.93"/>
<rect x="382.1" y="649.5" width="4.2" height="27.7" fill="#50853a" stroke="#2a5715" stroke-width="1" fill-opacity="0.93"/>
<rect x="386" y="640.6" width="4.2" height="36.6" fill="#50853a" stroke="#2a5715" stroke-width="1" fill-opacity="0.93"/>
<rect x="389.8" y="613.7" width="4.2" height="63.5" fill="#ca4661" stroke="#aa1838" stroke-width="1" fill-opacity="0.93"/>
<rect x="393.6" y="640.6" width="4.2" height="36.6" fill="#50853a" stroke="#2a5715" stroke-width="1" fill-opacity="0.93"/>
<rect x="397.5" y="630.1" width="4.2" height="47.1" fill="#ca4661" stroke="#aa1838" stroke-width="1" fill-opacity="0.93"/>
<rect x="401.3" y="633.2" width="4.2" height="44" fill="#ca4661" stroke="#aa1838" stroke-width="1" fill-opacity="0.93"/>
<rect x="405.1" y="646.5" width="4.2" height="30.7" fill="#50853a" stroke="#2a5715" stroke-width="1" fill-opacity="0.93"/>
<rect x="409" y="655.6" width="4.2" height="21.6" fill="#ca4661" stroke="#aa1838" stroke-width="1" fill-opacity="0.93"/>
<rect x="412.8" y="657.1" width="4.2" height="20.1" fill="#50853a" stroke="#2a5715" stroke-width="1" fill-opacity="0.93"/>
<rect x="416.6" y="655.6" width="4.2" height="21.6" fill="#ca4661" stroke="#aa1838" stroke-width="1" fill-opacity="0.93"/>
<rect x="420.5" y="657.1" width="4.2" height="20.1" fill="#ca4661" stroke="#aa1838" stroke-width="1" fill-opacity="0.93"/>
<rect x="424.3" y="660.1" width="4.2" height="17.1" fill="#ca4661" stroke="#aa1838" stroke-width="1" fill-opacity="0.93"/>
<rect x="428.1" y="658.8" width="4.2" height="18.4" fill="#50853a" stroke="#2a5715" stroke-width="1" fill-opacity="0.93"/>
<rect x="432" y="655.6" width="4.2" height="21.6" fill="#50853a" stroke="#2a5715" stroke-width="1" fill-opacity="0.93"/>
<rect x="435.8" y="646.5" width="4.2" height="30.7" fill="#50853a" stroke="#2a5715" stroke-width="1" fill-opacity="0.93"/>
<rect x="439.6" y="654" width="4.2" height="23.2" fill="#50853a" stroke="#2a5715" stroke-width="1" fill-opacity="0.93"/>
<rect x="443.5" y="646.5" width="4.2" height="30.7" fill="#ca4661" stroke="#aa1838" stroke-width="1" fill-opacity="0.93"/>
<rect x="447.3" y="646.5" width="4.2" height="30.7" fill="#50853a" stroke="#2a5715" stroke-width="1" fill-opacity="0.93"/>
<rect x="451.2" y="652.6" width="4.2" height="24.6" fill="#50853a" stroke="#2a5715" stroke-width="1" fill-opacity="0.93"/>
<rect x="455" y="652.6" width="4.2" height="24.6" fill="#50853a" stroke="#2a5715" stroke-width="1" fill-opacity="0.93"/>
<rect x="458.8" y="654" width="4.2" height="23.2" fill="#50853a" stroke="#2a5715" stroke-width="1" fill-opacity="0.93"/>
<rect x="462.7" y="645.1" width="4.2" height="32.1" fill="#50853a" stroke="#2a5715" stroke-width="1" fill-opacity="0.93"/>
<rect x="466.5" y="649.5" width="4.2" height="27.7" fill="#50853a" stroke="#2a5715" stroke-width="1" fill-opacity="0.93"/>
<rect x="470.3" y="615" width="4.2" height="62.2" fill="#50853a" stroke="#2a5715" stroke-width="1" fill-opacity="0.93"/>
<rect x="474.2" y="601.7" width="4.2" height="75.5" fill="#50853a" stroke="#2a5715" stroke-width="1" fill-opacity="0.93"/>
<rect x="478" y="594.3" width="4.2" height="82.9" fill="#50853a" stroke="#2a5715" stroke-width="1" fill-opacity="0.93"/>
<rect x="481.8" y="562.4" width="4.2" height="114.8" fill="#ca4661" stroke="#aa1838" stroke-width="1" fill-opacity="0.93"/>
<rect x="485.7" y="598.6" width="4.2" height="78.6" fill="#50853a" stroke="#2a5715" stroke-width="1" fill-opacity="0.93"/>
<rect x="489.5" y="625.6" width="4.2" height="51.6" fill="#50853a" stroke="#2a5715" stroke-width="1" fill-opacity="0.93"/>
<rect x="493.3" y="626.9" width="4.2" height="50.3" fill="#ca4661" stroke="#aa1838" stroke-width="1" fill-opacity="0.93"/>
<rect x="497.2" y="646.5" width="4.2" height="30.7" fill="#50853a" stroke="#2a5715" stroke-width="1" fill-opacity="0.93"/>
<rect x="501" y="649.5" width="4.2" height="27.7" fill="#50853a" stroke="#2a5715" stroke-width="1" fill-opacity="0.93"/>
<rect x="504.8" y="616.4" width="4.2" height="60.8" fill="#ca4661" stroke="#aa1838" stroke-width="1" fill-opacity="0.93"/>
<rect x="508.7" y="643.5" width="4.2" height="33.7" fill="#50853a" stroke="#2a5715" stroke-width="1" fill-opacity="0.93"/>
<rect x="512.5" y="651.2" width="4.2" height="26" fill="#50853a" stroke="#2a5715" stroke-width="1" fill-opacity="0.93"/>
<rect x="516.4" y="646.5" width="4.2" height="30.7" fill="#ca4661" stroke="#aa1838" stroke-width="1" fill-opacity="0.93"/>
<rect x="520.2" y="649.5" width="4.2" height="27.7" fill="#50853a" stroke="#2a5715" stroke-width="1" fill-opacity="0.93"/>
<rect x="524" y="640.6" width="4.2" height="36.6" fill="#ca4661" stroke="#aa1838" stroke-width="1" fill-opacity="0.93"/>
<rect x="527.9" y="637.6" width="4.2" height="39.6" fill="#50853a" stroke="#2a5715" stroke-width="1" fill-opacity="0.93"/>
<rect x="531.7" y="637.6" width="4.2" height="39.6" fill="#ca4661" stroke="#aa1838" stroke-width="1" fill-opacity="0.93"/>
<rect x="535.5" y="643.5" width="4.2" height="33.7" fill="#ca4661" stroke="#aa1838" stroke-width="1" fill-opacity="0.93"/>
<rect x="539.4" y="645.1" width="4.2" height="32.1" fill="#ca4661" stroke="#aa1838" stroke-width="1" fill-opacity="0.93"/>
<rect x="543.2" y="642.1" width="4.2" height="35.1" fill="#50853a" stroke="#2a5715" stroke-width="1" fill-opacity="0.93"/>
<rect x="547" y="648.2" width="4.2" height="29" fill="#ca4661" stroke="#aa1838" stroke-width="1" fill-opacity="0.93"/>
<rect x="550.9" y="645.1" width="4.2" height="32.1" fill="#50853a" stroke="#2a5715" stroke-width="1" fill-opacity="0.93"/>
<rect x="554.7" y="648.2" width="4.2" height="29" fill="#ca4661" stroke="#aa1838" stroke-width="1" fill-opacity="0.93"/>
<rect x="558.5" y="657.1" width="4.2" height="20.1" fill="#50853a" stroke="#2a5715" stroke-width="1" fill-opacity="0.93"/>
<rect x="562.4" y="628.4" width="4.2" height="48.8" fill="#ca4661" stroke="#aa1838" stroke-width="1" fill-opacity="0.93"/>
<rect x="566.2" y="640.6" width="4.2" height="36.6" fill="#50853a" stroke="#2a5715" stroke-width="1" fill-opacity="0.93"/>
<rect x="570" y="649.5" width="4.2" height="27.7" fill="#50853a" stroke="#2a5715" stroke-width="1" fill-opacity="0.93"/>
<rect x="573.9" y="625.6" width="4.2" height="51.6" fill="#50853a" stroke="#2a5715" stroke-width="1" fill-opacity="0.93"/>
<rect x="577.7" y="607.5" width="4.2" height="69.7" fill="#50853a" stroke="#2a5715" stroke-width="1" fill-opacity="0.93"/>
<rect x="581.5" y="646.5" width="4.2" height="30.7" fill="#50853a" stroke="#2a5715" stroke-width="1" fill-opacity="0.93"/>
<rect x="585.4" y="643.5" width="4.2" height="33.7" fill="#ca4661" stroke="#aa1838" stroke-width="1" fill-opacity="0.93"/>
<rect x="589.2" y="633.2" width="4.2" height="44" fill="#ca4661" stroke="#aa1838" stroke-width="1" fill-opacity="0.93"/>
<rect x="593" y="642.1" width="4.2" height="35.1" fill="#ca4661" stroke="#aa1838" stroke-width="1" fill-opacity="0.93"/>
<rect x="596.9" y="651.2" width="4.2" height="26" fill="#50853a" stroke="#2a5715" stroke-width="1" fill-opacity="0.93"/>
<rect x="600.7" y="652.6" width="4.2" height="24.6" fill="#50853a" stroke="#2a5715" stroke-width="1" fill-opacity="0.93"/>
<rect x="604.6" y="651.2" width="4.2" height="26" fill="#ca4661" stroke="#aa1838" stroke-width="1" fill-opacity="0.93"/>
<rect x="608.4" y="655.6" width="4.2" height="21.6" fill="#ca4661" stroke="#aa1838" stroke-width="1" fill-opacity="0.93"/>
<rect x="612.2" y="654" width="4.2" height="23.2" fill="#50853a" stroke="#2a5715" stroke-width="1" fill-opacity="0.93"/>
<rect x="616.1" y="649.5" width="4.2" height="27.7" fill="#50853a" stroke="#2a5715" stroke-width="1" fill-opacity="0.93"/>
<rect x="619.9" y="645.1" width="4.2" height="32.1" fill="#ca4661" stroke="#aa1838" stroke-width="1" fill-opacity="0.93"/>
<rect x="623.7" y="649.5" width="4.2" height="27.7" fill="#ca4661" stroke="#aa1838" stroke-width="1" fill-opacity="0.93"/>
<rect x="627.6" y="646.5" width="4.2" height="30.7" fill="#50853a" stroke="#2a5715" stroke-width="1" fill-opacity="0.93"/>
<rect x="631.4" y="649.5" width="4.2" height="27.7" fill="#ca4661" stroke="#aa1838" stroke-width="1" fill-opacity="0.93"/>
<rect x="635.2" y="642.1" width="4.2" height="35.1" fill="#50853a" stroke="#2a5715" stroke-width="1" fill-opacity="0.93"/>
<rect x="639.1" y="651.2" width="4.2" height="26" fill="#50853a" stroke="#2a5715" stroke-width="1" fill-opacity="0.93"/>
<rect x="642.9" y="648.2" width="4.2" height="29" fill="#ca4661" stroke="#aa1838" stroke-width="1" fill-opacity="0.93"/>
<rect x="646.7" y="646.5" width="4.2" height="30.7" fill="#50853a" stroke="#2a5715" stroke-width="1" fill-opacity="0.93"/>
<rect x="650.6" y="638.9" width="4.2" height="38.3" fill="#ca4661" stroke="#aa1838" stroke-width="1" fill-opacity="0.93"/>
<rect x="654.4" y="652.6" width="4.2" height="24.6" fill="#50853a" stroke="#2a5715" stroke-width="1" fill-opacity="0.93"/>
<rect x="658.2" y="654" width="4.2" height="23.2" fill="#50853a" stroke="#2a5715" stroke-width="1" fill-opacity="0.93"/>
<rect x="662.1" y="657.1" width="4.2" height="20.1" fill="#ca4661" stroke="#aa1838" stroke-width="1" fill-opacity="0.93"/>
<rect x="665.9" y="654" width="4.2" height="23.2" fill="#ca4661" stroke="#aa1838" stroke-width="1" fill-opacity="0.93"/>
<rect x="669.8" y="652.6" width="4.2" height="24.6" fill="#ca4661" stroke="#aa1838" stroke-width="1" fill-opacity="0.93"/>
<rect x="673.6" y="652.6" width="4.2" height="24.6" fill="#50853a" stroke="#2a5715" stroke-width="1" fill-opacity="0.93"/>
<rect x="677.4" y="649.5" width="4.2" height="27.7" fill="#ca4661" stroke="#aa1838" stroke-width="1" fill-opacity="0.93"/>
<rect x="681.3" y="645.1" width="4.2" height="32.1" fill="#ca4661" stroke="#aa1838" stroke-width="1" fill-opacity="0.93"/>
<rect x="685.1" y="657.1" width="4.2" height="20.1" fill="#ca4661" stroke="#aa1838" stroke-width="1" fill-opacity="0.93"/>
<rect x="688.9" y="652.6" width="4.2" height="24.6" fill="#50853a" stroke="#2a5715" stroke-width="1" fill-opacity="0.93"/>
<rect x="692.8" y="655.6" width="4.2" height="21.6" fill="#50853a" stroke="#2a5715" stroke-width="1" fill-opacity="0.93"/>
<rect x="696.6" y="660.1" width="4.2" height="17.1" fill="#ca4661" stroke="#aa1838" stroke-width="1" fill-opacity="0.93"/>
<rect x="700.4" y="654" width="4.2" height="23.2" fill="#ca4661" stroke="#aa1838" stroke-width="1" fill-opacity="0.93"/>
<rect x="704.3" y="657.1" width="4.2" height="20.1" fill="#50853a" stroke="#2a5715" stroke-width="1" fill-opacity="0.93"/>
<rect x="708.1" y="652.6" width="4.2" height="24.6" fill="#50853a" stroke="#2a5715" stroke-width="1" fill-opacity="0.93"/>
<rect x="711.9" y="658.8" width="4.2" height="18.4" fill="#50853a" stroke="#2a5715" stroke-width="1" fill-opacity="0.93"/>
<rect x="715.8" y="655.6" width="4.2" height="21.6" fill="#50853a" stroke="#2a5715" stroke-width="1" fill-opacity="0.93"/>
<rect x="719.6" y="648.2" width="4.2" height="29" fill="#50853a" stroke="#2a5715" stroke-width="1" fill-opacity="0.93"/>
<rect x="723.4" y="655.6" width="4.2" height="21.6" fill="#ca4661" stroke="#aa1838" stroke-width="1" fill-opacity="0.93"/>
<rect x="727.3" y="651.2" width="4.2" height="26" fill="#50853a" stroke="#2a5715" stroke-width="1" fill-opacity="0.93"/>
<rect x="731.1" y="642.1" width="4.2" height="35.1" fill="#50853a" stroke="#2a5715" stroke-width="1" fill-opacity="0.93"/>
<rect x="734.9" y="648.2" width="4.2" height="29" fill="#ca4661" stroke="#aa1838" stroke-width="1" fill-opacity="0.93"/>
<rect x="738.8" y="652.6" width="4.2" height="24.6" fill="#ca4661" stroke="#aa1838" stroke-width="1" fill-opacity="0.93"/>
<rect x="742.6" y="652.6" width="4.2" height="24.6" fill="#ca4661" stroke="#aa1838" stroke-width="1" fill-opacity="0.93"/>
<rect x="746.4" y="658.8" width="4.2" height="18.4" fill="#ca4661" stroke="#aa1838" stroke-width="1" fill-opacity="0.93"/>
<rect x="750.3" y="655.6" width="4.2" height="21.6" fill="#50853a" stroke="#2a5715" stroke-width="1" fill-opacity="0.93"/>
<rect x="754.1" y="664.6" width="4.2" height="12.6" fill="#50853a" stroke="#2a5715" stroke-width="1" fill-opacity="0.93"/>
<rect x="758" y="661.8" width="4.2" height="15.4" fill="#50853a" stroke="#2a5715" stroke-width="1" fill-opacity="0.93"/>
<rect x="761.8" y="654" width="4.2" height="23.2" fill="#ca4661" stroke="#aa1838" stroke-width="1" fill-opacity="0.93"/>
<rect x="765.6" y="655.6" width="4.2" height="21.6" fill="#50853a" stroke="#2a5715" stroke-width="1" fill-opacity="0.93"/>
<rect x="769.5" y="651.2" width="4.2" height="26" fill="#50853a" stroke="#2a5715" stroke-width="1" fill-opacity="0.93"/>
<rect x="773.3" y="649.5" width="4.2" height="27.7" fill="#ca4661" stroke="#aa1838" stroke-width="1" fill-opacity="0.93"/>
<rect x="777.1" y="657.1" width="4.2" height="20.1" fill="#50853a" stroke="#2a5715" stroke-width="1" fill-opacity="0.93"/>
<rect x="781" y="649.5" width="4.2" height="27.7" fill="#50853a" stroke="#2a5715" stroke-width="1" fill-opacity="0.93"/>
<rect x="784.8" y="652.6" width="4.2" height="24.6" fill="#50853a" stroke="#2a5715" stroke-width="1" fill-opacity="0.93"/>
<rect x="788.6" y="648.2" width="4.2" height="29" fill="#50853a" stroke="#2a5715" stroke-width="1" fill-opacity="0.93"/>
<rect x="792.5" y="649.5" width="4.2" height="27.7" fill="#50853a" stroke="#2a5715" stroke-width="1" fill-opacity="0.93"/>
<rect x="796.3" y="643.5" width="4.2" height="33.7" fill="#50853a" stroke="#2a5715" stroke-width="1" fill-opacity="0.93"/>
<rect x="800.1" y="658.8" width="4.2" height="18.4" fill="#ca4661" stroke="#aa1838" stroke-width="1" fill-opacity="0.93"/>
<rect x="804" y="658.8" width="4.2" height="18.4" fill="#50853a" stroke="#2a5715" stroke-width="1" fill-opacity="0.93"/>
<rect x="807.8" y="657.1" width="4.2" height="20.1" fill="#ca4661" stroke="#aa1838" stroke-width="1" fill-opacity="0.93"/>
<rect x="811.6" y="657.1" width="4.2" height="20.1" fill="#50853a" stroke="#2a5715" stroke-width="1" fill-opacity="0.93"/>
<rect x="815.5" y="654" width="4.2" height="23.2" fill="#50853a" stroke="#2a5715" stroke-width="1" fill-opacity="0.93"/>
<rect x="819.3" y="652.6" width="4.2" height="24.6" fill="#ca4661" stroke="#aa1838" stroke-width="1" fill-opacity="0.93"/>
<rect x="823.1" y="655.6" width="4.2" height="21.6" fill="#ca4661" stroke="#aa1838" stroke-width="1" fill-opacity="0.93"/>
<rect x="827" y="652.6" width="4.2" height="24.6" fill="#ca4661" stroke="#aa1838" stroke-width="1" fill-opacity="0.93"/>
<rect x="830.8" y="645.1" width="4.2" height="32.1" fill="#ca4661" stroke="#aa1838" stroke-width="1" fill-opacity="0.93"/>
<rect x="834.7" y="660.1" width="4.2" height="17.1" fill="#50853a" stroke="#2a5715" stroke-width="1" fill-opacity="0.93"/>
<rect x="838.5" y="661.8" width="4.2" height="15.4" fill="#50853a" stroke="#2a5715" stroke-width="1" fill-opacity="0.93"/>
<rect x="842.3" y="661.8" width="4.2" height="15.4" fill="#ca4661" stroke="#aa1838" stroke-width="1" fill-opacity="0.93"/>
<rect x="846.2" y="652.6" width="4.2" height="24.6" fill="#50853a" stroke="#2a5715" stroke-width="1" fill-opacity="0.93"/>
<rect x="850" y="649.5" width="4.2" height="27.7" fill="#ca4661" stroke="#aa1838" stroke-width="1" fill-opacity="0.93"/>
<rect x="853.8" y="654" width="4.2" height="23.2" fill="#ca4661" stroke="#aa1838" stroke-width="1" fill-opacity="0.93"/>
<rect x="857.7" y="654" width="4.2" height="23.2" fill="#ca4661" stroke="#aa1838" stroke-width="1" fill-opacity="0.93"/>
<rect x="861.5" y="657.1" width="4.2" height="20.1" fill="#ca4661" stroke="#aa1838" stroke-width="1" fill-opacity="0.93"/>
<rect x="865.3" y="652.6" width="4.2" height="24.6" fill="#ca4661" stroke="#aa1838" stroke-width="1" fill-opacity="0.93"/>
<rect x="869.2" y="658.8" width="4.2" height="18.4" fill="#50853a" stroke="#2a5715" stroke-width="1" fill-opacity="0.93"/>
<rect x="873" y="652.6" width="4.2" height="24.6" fill="#50853a" stroke="#2a5715" stroke-width="1" fill-opacity="0.93"/>
<rect x="876.8" y="652.6" width="4.2" height="24.6" fill="#ca4661" stroke="#aa1838" stroke-width="1" fill-opacity="0.93"/>
<rect x="880.7" y="652.6" width="4.2" height="24.6" fill="#50853a" stroke="#2a5715" stroke-width="1" fill-opacity="0.93"/>
<rect x="884.5" y="655.6" width="4.2" height="21.6" fill="#ca4661" stroke="#aa1838" stroke-width="1" fill-opacity="0.93"/>
<rect x="888.3" y="655.6" width="4.2" height="21.6" fill="#ca4661" stroke="#aa1838" stroke-width="1" fill-opacity="0.93"/>
<rect x="892.2" y="652.6" width="4.2" height="24.6" fill="#ca4661" stroke="#aa1838" stroke-width="1" fill-opacity="0.93"/>
<rect x="896" y="658.8" width="4.2" height="18.4" fill="#50853a" stroke="#2a5715" stroke-width="1" fill-opacity="0.93"/>
<rect x="899.9" y="649.5" width="4.2" height="27.7" fill="#50853a" stroke="#2a5715" stroke-width="1" fill-opacity="0.93"/>
<rect x="903.7" y="651.2" width="4.2" height="26" fill="#ca4661" stroke="#aa1838" stroke-width="1" fill-opacity="0.93"/>
<rect x="907.5" y="648.2" width="4.2" height="29" fill="#50853a" stroke="#2a5715" stroke-width="1" fill-opacity="0.93"/>
<rect x="911.4" y="646.5" width="4.2" height="30.7" fill="#50853a" stroke="#2a5715" stroke-width="1" fill-opacity="0.93"/>
<rect x="915.2" y="649.5" width="4.2" height="27.7" fill="#ca4661" stroke="#aa1838" stroke-width="1" fill-opacity="0.93"/>
<rect x="919" y="654" width="4.2" height="23.2" fill="#50853a" stroke="#2a5715" stroke-width="1" fill-opacity="0.93"/>
<rect x="922.9" y="652.6" width="4.2" height="24.6" fill="#50853a" stroke="#2a5715" stroke-width="1" fill-opacity="0.93"/>
<rect x="926.7" y="646.5" width="4.2" height="30.7" fill="#50853a" stroke="#2a5715" stroke-width="1" fill-opacity="0.93"/>
<rect x="930.5" y="640.6" width="4.2" height="36.6" fill="#50853a" stroke="#2a5715" stroke-width="1" fill-opacity="0.93"/>
<rect x="934.4" y="648.2" width="4.2" height="29" fill="#ca4661" stroke="#aa1838" stroke-width="1" fill-opacity="0.93"/>
<rect x="938.2" y="658.8" width="4.2" height="18.4" fill="#50853a" stroke="#2a5715" stroke-width="1" fill-opacity="0.93"/>
<rect x="942" y="649.5" width="4.2" height="27.7" fill="#50853a" stroke="#2a5715" stroke-width="1" fill-opacity="0.93"/>
<rect x="945.9" y="654" width="4.2" height="23.2" fill="#50853a" stroke="#2a5715" stroke-width="1" fill-opacity="0.93"/>
<rect x="949.7" y="654" width="4.2" height="23.2" fill="#ca4661" stroke="#aa1838" stroke-width="1" fill-opacity="0.93"/>
<rect x="953.5" y="658.8" width="4.2" height="18.4" fill="#50853a" stroke="#2a5715" stroke-width="1" fill-opacity="0.93"/>
<rect x="957.4" y="663.5" width="4.2" height="13.7" fill="#50853a" stroke="#2a5715" stroke-width="1" fill-opacity="0.93"/>
<rect x="961.2" y="655.6" width="4.2" height="21.6" fill="#ca4661" stroke="#aa1838" stroke-width="1" fill-opacity="0.93"/>
<rect x="965" y="652.6" width="4.2" height="24.6" fill="#50853a" stroke="#2a5715" stroke-width="1" fill-opacity="0.93"/>
<rect x="968.9" y="652.6" width="4.2" height="24.6" fill="#ca4661" stroke="#aa1838" stroke-width="1" fill-opacity="0.93"/>
<rect x="972.7" y="646.5" width="4.2" height="30.7" fill="#ca4661" stroke="#aa1838" stroke-width="1" fill-opacity="0.93"/>
<rect x="976.5" y="642.1" width="4.2" height="35.1" fill="#ca4661" stroke="#aa1838" stroke-width="1" fill-opacity="0.93"/>
<rect x="980.4" y="648.2" width="4.2" height="29" fill="#ca4661" stroke="#aa1838" stroke-width="1" fill-opacity="0.93"/>
<rect x="984.2" y="651.2" width="4.2" height="26" fill="#ca4661" stroke="#aa1838" stroke-width="1" fill-opacity="0.93"/>
<rect x="988.1" y="655.6" width="4.2" height="21.6" fill="#ca4661" stroke="#aa1838" stroke-width="1" fill-opacity="0.93"/>
<rect x="991.9" y="652.6" width="4.2" height="24.6" fill="#50853a" stroke="#2a5715" stroke-width="1" fill-opacity="0.93"/>
<rect x="995.7" y="651.2" width="4.2" height="26" fill="#ca4661" stroke="#aa1838" stroke-width="1" fill-opacity="0.93"/>
<rect x="999.6" y="642.1" width="4.2" height="35.1" fill="#50853a" stroke="#2a5715" stroke-width="1" fill-opacity="0.93"/>
<rect x="1003.4" y="652.6" width="4.2" height="24.6" fill="#50853a" stroke="#2a5715" stroke-width="1" fill-opacity="0.93"/>
<rect x="1007.2" y="655.6" width="4.2" height="21.6" fill="#50853a" stroke="#2a5715" stroke-width="1" fill-opacity="0.93"/>
<rect x="1011.1" y="655.6" width="4.2" height="21.6" fill="#50853a" stroke="#2a5715" stroke-width="1" fill-opacity="0.93"/>
<rect x="1014.9" y="646.5" width="4.2" height="30.7" fill="#50853a" stroke="#2a5715" stroke-width="1" fill-opacity="0.93"/>
<polyline points="14.3,427.2 50.1,427.2 72.7,428.2 100.2,435.2 130.3,442.7 155.4,447.7 175.4,449 200.5,452.2 220.5,455.2 240.6,458.5 260.6,459 275.7,457.7 290.7,454.7 303.2,450.2 312,448.5 325.1,445.2 350.1,438.2 375.2,433.9 392.7,430.9 400.2,432.2 420.3,431.4 435.3,428.2 450.4,424.7 467.9,420.1 480.4,411.4 500.5,393.8 515.5,383.8 535.6,370 553.1,360 563.1,351.7 578.2,342.9 590.7,330.4 600.7,316.6 600,316.6 612.5,302.8 625.1,290.3 637.6,277.8 650.1,267.8 658.9,264 667.7,262.7 682.7,265.3 700.2,269 717.8,271.5 732.8,270.3 740.3,270.8 755.4,274.8 770.4,280.3 786.7,285.3 800.5,286.1 818,285.3 825.5,290.3 840.6,297.8 855.6,305.3 870.7,314.1 888.2,321.6 900.7,325.4 900,324.9 911.1,329 922.2,334.6 930.5,338.7 944.3,338.2 955.4,336.8 969.3,336.2 983.1,336.2 994.2,341.5 1005.3,344.3 1017.8,344.3" fill="none" stroke="#c62a4c" stroke-width="1.3" stroke-linejoin="round" stroke-linecap="round" />
<rect x="14.6" y="425.1" width="2.9" height="11" fill="#2e5c17"/>
<rect x="13.3" y="432.5" width="1.6" height="2.4" fill="#2e5c17"/>
<rect x="17.3" y="426.1" width="1.6" height="2.4" fill="#2e5c17"/>
<rect x="18.4" y="416.3" width="2.9" height="15.1" fill="#2e5c17"/>
<rect x="17.1" y="426.9" width="1.6" height="2.4" fill="#2e5c17"/>
<rect x="21.1" y="418.1" width="1.6" height="2.4" fill="#2e5c17"/>
<rect x="22.3" y="420.4" width="2.9" height="14.6" fill="#b8173a"/>
<rect x="20.9" y="422.5" width="1.6" height="2.4" fill="#b8173a"/>
<rect x="24.9" y="430.9" width="1.6" height="2.4" fill="#b8173a"/>
<rect x="26.1" y="429.8" width="2.9" height="11" fill="#2e5c17"/>
<rect x="24.8" y="437.2" width="1.6" height="2.4" fill="#2e5c17"/>
<rect x="28.8" y="430.8" width="1.6" height="2.4" fill="#2e5c17"/>
<rect x="30" y="425.1" width="2.9" height="11" fill="#2e5c17"/>
<rect x="28.6" y="432.5" width="1.6" height="2.4" fill="#2e5c17"/>
<rect x="32.6" y="426.1" width="1.6" height="2.4" fill="#2e5c17"/>
<rect x="33.8" y="428.8" width="2.9" height="10.4" fill="#b8173a"/>
<rect x="32.4" y="429.9" width="1.6" height="2.4" fill="#b8173a"/>
<rect x="36.4" y="435.9" width="1.6" height="2.4" fill="#b8173a"/>
<rect x="37.6" y="429.8" width="2.9" height="6.3" fill="#2e5c17"/>
<rect x="36.3" y="433.5" width="1.6" height="2.4" fill="#2e5c17"/>
<rect x="40.3" y="429.9" width="1.6" height="2.4" fill="#2e5c17"/>
<rect x="41.5" y="429.3" width="2.9" height="6.8" fill="#b8173a"/>
<rect x="40.1" y="429.6" width="1.6" height="2.4" fill="#b8173a"/>
<rect x="44.1" y="433.5" width="1.6" height="2.4" fill="#b8173a"/>
<rect x="45.3" y="425.1" width="2.9" height="9.4" fill="#2e5c17"/>
<rect x="43.9" y="431.3" width="1.6" height="2.4" fill="#2e5c17"/>
<rect x="47.9" y="425.8" width="1.6" height="2.4" fill="#2e5c17"/>
<rect x="49.1" y="417.3" width="2.9" height="15.7" fill="#b8173a"/>
<rect x="47.8" y="419.6" width="1.6" height="2.4" fill="#b8173a"/>
<rect x="51.8" y="428.6" width="1.6" height="2.4" fill="#b8173a"/>
<rect x="53" y="428.8" width="2.9" height="10.4" fill="#b8173a"/>
<rect x="51.6" y="429.9" width="1.6" height="2.4" fill="#b8173a"/>
<rect x="55.6" y="435.9" width="1.6" height="2.4" fill="#b8173a"/>
<rect x="56.8" y="430.9" width="2.9" height="11.5" fill="#b8173a"/>
<rect x="55.5" y="432.2" width="1.6" height="2.4" fill="#b8173a"/>
<rect x="59.5" y="438.9" width="1.6" height="2.4" fill="#b8173a"/>
<rect x="60.6" y="437.1" width="2.9" height="7.8" fill="#b8173a"/>
<rect x="59.3" y="437.7" width="1.6" height="2.4" fill="#b8173a"/>
<rect x="63.3" y="442.2" width="1.6" height="2.4" fill="#b8173a"/>
<rect x="64.5" y="437.1" width="2.9" height="9.4" fill="#b8173a"/>
<rect x="63.1" y="438" width="1.6" height="2.4" fill="#b8173a"/>
<rect x="67.1" y="443.5" width="1.6" height="2.4" fill="#b8173a"/>
<rect x="68.3" y="443.4" width="2.9" height="14.1" fill="#b8173a"/>
<rect x="67" y="445.3" width="1.6" height="2.4" fill="#b8173a"/>
<rect x="71" y="453.5" width="1.6" height="2.4" fill="#b8173a"/>
<rect x="72.1" y="446" width="2.9" height="8.4" fill="#b8173a"/>
<rect x="70.8" y="446.7" width="1.6" height="2.4" fill="#b8173a"/>
<rect x="74.8" y="451.5" width="1.6" height="2.4" fill="#b8173a"/>
<rect x="76" y="447.6" width="2.9" height="8.4" fill="#b8173a"/>
<rect x="74.6" y="448.2" width="1.6" height="2.4" fill="#b8173a"/>
<rect x="78.6" y="453.1" width="1.6" height="2.4" fill="#b8173a"/>
<rect x="79.8" y="450.7" width="2.9" height="4.2" fill="#b8173a"/>
<rect x="78.5" y="450.4" width="1.6" height="2.4" fill="#b8173a"/>
<rect x="82.5" y="452.9" width="1.6" height="2.4" fill="#b8173a"/>
<rect x="83.6" y="453.9" width="2.9" height="18.6" fill="#b8173a"/>
<rect x="82.3" y="456.7" width="1.6" height="2.4" fill="#b8173a"/>
<rect x="86.3" y="467.5" width="1.6" height="2.4" fill="#b8173a"/>
<rect x="87.5" y="461.2" width="2.9" height="9.4" fill="#2e5c17"/>
<rect x="86.1" y="467.3" width="1.6" height="2.4" fill="#2e5c17"/>
<rect x="90.1" y="461.8" width="1.6" height="2.4" fill="#2e5c17"/>
<rect x="91.3" y="461.2" width="2.9" height="9.4" fill="#b8173a"/>
<rect x="90" y="462" width="1.6" height="2.4" fill="#b8173a"/>
<rect x="94" y="467.5" width="1.6" height="2.4" fill="#b8173a"/>
<rect x="95.2" y="466.9" width="2.9" height="12" fill="#b8173a"/>
<rect x="93.8" y="468.3" width="1.6" height="2.4" fill="#b8173a"/>
<rect x="97.8" y="475.3" width="1.6" height="2.4" fill="#b8173a"/>
<rect x="99" y="470" width="2.9" height="8.9" fill="#b8173a"/>
<rect x="97.6" y="470.8" width="1.6" height="2.4" fill="#b8173a"/>
<rect x="101.6" y="475.9" width="1.6" height="2.4" fill="#b8173a"/>
<rect x="102.8" y="468.5" width="2.9" height="9.4" fill="#2e5c17"/>
<rect x="101.5" y="474.6" width="1.6" height="2.4" fill="#2e5c17"/>
<rect x="105.5" y="469.2" width="1.6" height="2.4" fill="#2e5c17"/>
<rect x="106.7" y="463.8" width="2.9" height="12.5" fill="#2e5c17"/>
<rect x="105.3" y="472.3" width="1.6" height="2.4" fill="#2e5c17"/>
<rect x="109.3" y="465.1" width="1.6" height="2.4" fill="#2e5c17"/>
<rect x="110.5" y="460.9" width="2.9" height="10.2" fill="#b8173a"/>
<rect x="109.1" y="461.9" width="1.6" height="2.4" fill="#b8173a"/>
<rect x="113.1" y="467.8" width="1.6" height="2.4" fill="#b8173a"/>
<rect x="114.3" y="463.8" width="2.9" height="11" fill="#b8173a"/>
<rect x="113" y="465" width="1.6" height="2.4" fill="#b8173a"/>
<rect x="117" y="471.3" width="1.6" height="2.4" fill="#b8173a"/>
<rect x="118.2" y="460.9" width="2.9" height="8.7" fill="#2e5c17"/>
<rect x="116.8" y="466.4" width="1.6" height="2.4" fill="#2e5c17"/>
<rect x="120.8" y="461.4" width="1.6" height="2.4" fill="#2e5c17"/>
<rect x="122" y="463.3" width="2.9" height="4.2" fill="#2e5c17"/>
<rect x="120.6" y="465.3" width="1.6" height="2.4" fill="#2e5c17"/>
<rect x="124.6" y="462.9" width="1.6" height="2.4" fill="#2e5c17"/>
<rect x="125.8" y="460.9" width="2.9" height="13.9" fill="#2e5c17"/>
<rect x="124.5" y="470.5" width="1.6" height="2.4" fill="#2e5c17"/>
<rect x="128.5" y="462.4" width="1.6" height="2.4" fill="#2e5c17"/>
<rect x="129.7" y="464.2" width="2.9" height="13.6" fill="#b8173a"/>
<rect x="128.3" y="466" width="1.6" height="2.4" fill="#b8173a"/>
<rect x="132.3" y="473.9" width="1.6" height="2.4" fill="#b8173a"/>
<rect x="133.5" y="470.5" width="2.9" height="12" fill="#2e5c17"/>
<rect x="132.2" y="478.6" width="1.6" height="2.4" fill="#2e5c17"/>
<rect x="136.2" y="471.7" width="1.6" height="2.4" fill="#2e5c17"/>
<rect x="137.3" y="467.3" width="2.9" height="8.9" fill="#b8173a"/>
<rect x="136" y="468.1" width="1.6" height="2.4" fill="#b8173a"/>
<rect x="140" y="473.2" width="1.6" height="2.4" fill="#b8173a"/>
<rect x="141.2" y="468.9" width="2.9" height="8.9" fill="#b8173a"/>
<rect x="139.8" y="469.7" width="1.6" height="2.4" fill="#b8173a"/>
<rect x="143.8" y="474.8" width="1.6" height="2.4" fill="#b8173a"/>
<rect x="145" y="464.2" width="2.9" height="10.4" fill="#2e5c17"/>
<rect x="143.7" y="471.2" width="1.6" height="2.4" fill="#2e5c17"/>
<rect x="147.7" y="465.1" width="1.6" height="2.4" fill="#2e5c17"/>
<rect x="148.8" y="461.1" width="2.9" height="6.3" fill="#b8173a"/>
<rect x="147.5" y="461.3" width="1.6" height="2.4" fill="#b8173a"/>
<rect x="151.5" y="464.9" width="1.6" height="2.4" fill="#b8173a"/>
<rect x="152.7" y="461.1" width="2.9" height="6.3" fill="#2e5c17"/>
<rect x="151.3" y="464.8" width="1.6" height="2.4" fill="#2e5c17"/>
<rect x="155.3" y="461.1" width="1.6" height="2.4" fill="#2e5c17"/>
<rect x="156.5" y="450.6" width="2.9" height="14.1" fill="#2e5c17"/>
<rect x="155.2" y="460.4" width="1.6" height="2.4" fill="#2e5c17"/>
<rect x="159.2" y="452.3" width="1.6" height="2.4" fill="#2e5c17"/>
<rect x="160.3" y="441.8" width="2.9" height="11.5" fill="#2e5c17"/>
<rect x="159" y="449.5" width="1.6" height="2.4" fill="#2e5c17"/>
<rect x="163" y="442.9" width="1.6" height="2.4" fill="#2e5c17"/>
<rect x="164.2" y="442.8" width="2.9" height="6.3" fill="#b8173a"/>
<rect x="162.8" y="443" width="1.6" height="2.4" fill="#b8173a"/>
<rect x="166.8" y="446.6" width="1.6" height="2.4" fill="#b8173a"/>
<rect x="168" y="445.9" width="2.9" height="8.4" fill="#b8173a"/>
<rect x="166.7" y="446.6" width="1.6" height="2.4" fill="#b8173a"/>
<rect x="170.7" y="451.4" width="1.6" height="2.4" fill="#b8173a"/>
<rect x="171.8" y="445.9" width="2.9" height="11.3" fill="#2e5c17"/>
<rect x="170.5" y="453.5" width="1.6" height="2.4" fill="#2e5c17"/>
<rect x="174.5" y="447" width="1.6" height="2.4" fill="#2e5c17"/>
<rect x="175.7" y="437.1" width="2.9" height="11" fill="#2e5c17"/>
<rect x="174.3" y="444.4" width="1.6" height="2.4" fill="#2e5c17"/>
<rect x="178.3" y="438.1" width="1.6" height="2.4" fill="#2e5c17"/>
<rect x="179.5" y="442.8" width="2.9" height="6.3" fill="#b8173a"/>
<rect x="178.2" y="443" width="1.6" height="2.4" fill="#b8173a"/>
<rect x="182.2" y="446.6" width="1.6" height="2.4" fill="#b8173a"/>
<rect x="183.4" y="444.4" width="2.9" height="8.4" fill="#b8173a"/>
<rect x="182" y="445" width="1.6" height="2.4" fill="#b8173a"/>
<rect x="186" y="449.9" width="1.6" height="2.4" fill="#b8173a"/>
<rect x="187.2" y="437.1" width="2.9" height="8.9" fill="#2e5c17"/>
<rect x="185.8" y="442.8" width="1.6" height="2.4" fill="#2e5c17"/>
<rect x="189.8" y="437.6" width="1.6" height="2.4" fill="#2e5c17"/>
<rect x="191" y="441.8" width="2.9" height="15.5" fill="#b8173a"/>
<rect x="189.7" y="444" width="1.6" height="2.4" fill="#b8173a"/>
<rect x="193.7" y="452.9" width="1.6" height="2.4" fill="#b8173a"/>
<rect x="194.9" y="452.2" width="2.9" height="8.1" fill="#2e5c17"/>
<rect x="193.5" y="457.4" width="1.6" height="2.4" fill="#2e5c17"/>
<rect x="197.5" y="452.6" width="1.6" height="2.4" fill="#2e5c17"/>
<rect x="198.7" y="449.1" width="2.9" height="8.1" fill="#b8173a"/>
<rect x="197.3" y="449.7" width="1.6" height="2.4" fill="#b8173a"/>
<rect x="201.3" y="454.4" width="1.6" height="2.4" fill="#b8173a"/>
<rect x="202.5" y="447.8" width="2.9" height="7.5" fill="#2e5c17"/>
<rect x="201.2" y="452.5" width="1.6" height="2.4" fill="#2e5c17"/>
<rect x="205.2" y="448.1" width="1.6" height="2.4" fill="#2e5c17"/>
<rect x="206.4" y="449.1" width="2.9" height="12.5" fill="#b8173a"/>
<rect x="205" y="450.6" width="1.6" height="2.4" fill="#b8173a"/>
<rect x="209" y="457.9" width="1.6" height="2.4" fill="#b8173a"/>
<rect x="210.2" y="455.3" width="2.9" height="7.8" fill="#b8173a"/>
<rect x="208.8" y="455.9" width="1.6" height="2.4" fill="#b8173a"/>
<rect x="212.8" y="460.4" width="1.6" height="2.4" fill="#b8173a"/>
<rect x="214" y="454.3" width="2.9" height="8.9" fill="#b8173a"/>
<rect x="212.7" y="455" width="1.6" height="2.4" fill="#b8173a"/>
<rect x="216.7" y="460.2" width="1.6" height="2.4" fill="#b8173a"/>
<rect x="217.9" y="458.5" width="2.9" height="4.7" fill="#b8173a"/>
<rect x="216.5" y="458.3" width="1.6" height="2.4" fill="#b8173a"/>
<rect x="220.5" y="461" width="1.6" height="2.4" fill="#b8173a"/>
<rect x="221.7" y="458.5" width="2.9" height="7.8" fill="#2e5c17"/>
<rect x="220.4" y="463.4" width="1.6" height="2.4" fill="#2e5c17"/>
<rect x="224.4" y="458.8" width="1.6" height="2.4" fill="#2e5c17"/>
<rect x="225.5" y="458.5" width="2.9" height="9.4" fill="#b8173a"/>
<rect x="224.2" y="459.3" width="1.6" height="2.4" fill="#b8173a"/>
<rect x="228.2" y="464.8" width="1.6" height="2.4" fill="#b8173a"/>
<rect x="229.4" y="459" width="2.9" height="5.7" fill="#b8173a"/>
<rect x="228" y="459.1" width="1.6" height="2.4" fill="#b8173a"/>
<rect x="232" y="462.4" width="1.6" height="2.4" fill="#b8173a"/>
<rect x="233.2" y="462.7" width="2.9" height="8.4" fill="#b8173a"/>
<rect x="231.9" y="463.3" width="1.6" height="2.4" fill="#b8173a"/>
<rect x="235.9" y="468.1" width="1.6" height="2.4" fill="#b8173a"/>
<rect x="237" y="465.8" width="2.9" height="6.3" fill="#2e5c17"/>
<rect x="235.7" y="469.5" width="1.6" height="2.4" fill="#2e5c17"/>
<rect x="239.7" y="465.8" width="1.6" height="2.4" fill="#2e5c17"/>
<rect x="240.9" y="465.8" width="2.9" height="8.9" fill="#2e5c17"/>
<rect x="239.5" y="471.5" width="1.6" height="2.4" fill="#2e5c17"/>
<rect x="243.5" y="466.4" width="1.6" height="2.4" fill="#2e5c17"/>
<rect x="244.7" y="456.9" width="2.9" height="10.4" fill="#2e5c17"/>
<rect x="243.4" y="463.9" width="1.6" height="2.4" fill="#2e5c17"/>
<rect x="247.4" y="457.8" width="1.6" height="2.4" fill="#2e5c17"/>
<rect x="248.6" y="456.9" width="2.9" height="9.4" fill="#b8173a"/>
<rect x="247.2" y="457.8" width="1.6" height="2.4" fill="#b8173a"/>
<rect x="251.2" y="463.2" width="1.6" height="2.4" fill="#b8173a"/>
<rect x="252.4" y="449.1" width="2.9" height="15.7" fill="#2e5c17"/>
<rect x="251" y="460.1" width="1.6" height="2.4" fill="#2e5c17"/>
<rect x="255" y="451" width="1.6" height="2.4" fill="#2e5c17"/>
<rect x="256.2" y="450.6" width="2.9" height="6.3" fill="#2e5c17"/>
<rect x="254.9" y="454.3" width="1.6" height="2.4" fill="#2e5c17"/>
<rect x="258.9" y="450.7" width="1.6" height="2.4" fill="#2e5c17"/>
<rect x="260.1" y="450.8" width="2.9" height="11" fill="#b8173a"/>
<rect x="258.7" y="452.1" width="1.6" height="2.4" fill="#b8173a"/>
<rect x="262.7" y="458.4" width="1.6" height="2.4" fill="#b8173a"/>
<rect x="263.9" y="453.2" width="2.9" height="5.1" fill="#2e5c17"/>
<rect x="262.5" y="456" width="1.6" height="2.4" fill="#2e5c17"/>
<rect x="266.5" y="453.1" width="1.6" height="2.4" fill="#2e5c17"/>
<rect x="267.7" y="429.4" width="2.9" height="27.7" fill="#2e5c17"/>
<rect x="266.4" y="449.8" width="1.6" height="2.4" fill="#2e5c17"/>
<rect x="270.4" y="433.8" width="1.6" height="2.4" fill="#2e5c17"/>
<rect x="271.6" y="432" width="2.9" height="7.3" fill="#2e5c17"/>
<rect x="270.2" y="436.5" width="1.6" height="2.4" fill="#2e5c17"/>
<rect x="274.2" y="432.3" width="1.6" height="2.4" fill="#2e5c17"/>
<rect x="275.4" y="429.4" width="2.9" height="14.1" fill="#b8173a"/>
<rect x="274" y="431.3" width="1.6" height="2.4" fill="#b8173a"/>
<rect x="278" y="439.5" width="1.6" height="2.4" fill="#b8173a"/>
<rect x="279.2" y="419" width="2.9" height="20.4" fill="#2e5c17"/>
<rect x="277.9" y="433.7" width="1.6" height="2.4" fill="#2e5c17"/>
<rect x="281.9" y="421.9" width="1.6" height="2.4" fill="#2e5c17"/>
<rect x="283.1" y="414.3" width="2.9" height="18.8" fill="#2e5c17"/>
<rect x="281.7" y="427.8" width="1.6" height="2.4" fill="#2e5c17"/>
<rect x="285.7" y="416.9" width="1.6" height="2.4" fill="#2e5c17"/>
<rect x="286.9" y="419.5" width="2.9" height="7.3" fill="#2e5c17"/>
<rect x="285.6" y="424" width="1.6" height="2.4" fill="#2e5c17"/>
<rect x="289.6" y="419.8" width="1.6" height="2.4" fill="#2e5c17"/>
<rect x="290.7" y="390.3" width="2.9" height="25.1" fill="#2e5c17"/>
<rect x="289.4" y="408.6" width="1.6" height="2.4" fill="#2e5c17"/>
<rect x="293.4" y="394.1" width="1.6" height="2.4" fill="#2e5c17"/>
<rect x="294.6" y="373.6" width="2.9" height="31.3" fill="#b8173a"/>
<rect x="293.2" y="379.3" width="1.6" height="2.4" fill="#b8173a"/>
<rect x="297.2" y="397.4" width="1.6" height="2.4" fill="#b8173a"/>
<rect x="298.4" y="395" width="2.9" height="20.4" fill="#b8173a"/>
<rect x="297.1" y="398.3" width="1.6" height="2.4" fill="#b8173a"/>
<rect x="301.1" y="410.1" width="1.6" height="2.4" fill="#b8173a"/>
<rect x="302.2" y="402.3" width="2.9" height="11" fill="#2e5c17"/>
<rect x="300.9" y="409.6" width="1.6" height="2.4" fill="#2e5c17"/>
<rect x="304.9" y="403.3" width="1.6" height="2.4" fill="#2e5c17"/>
<rect x="306.1" y="390.3" width="2.9" height="27.7" fill="#b8173a"/>
<rect x="304.7" y="395.2" width="1.6" height="2.4" fill="#b8173a"/>
<rect x="308.7" y="411.2" width="1.6" height="2.4" fill="#b8173a"/>
<rect x="309.9" y="408.6" width="2.9" height="15.7" fill="#b8173a"/>
<rect x="308.6" y="410.8" width="1.6" height="2.4" fill="#b8173a"/>
<rect x="312.6" y="419.9" width="1.6" height="2.4" fill="#b8173a"/>
<rect x="313.7" y="405.4" width="2.9" height="12.5" fill="#b8173a"/>
<rect x="312.4" y="407" width="1.6" height="2.4" fill="#b8173a"/>
<rect x="316.4" y="414.2" width="1.6" height="2.4" fill="#b8173a"/>
<rect x="317.6" y="411.2" width="2.9" height="9.9" fill="#2e5c17"/>
<rect x="316.2" y="417.7" width="1.6" height="2.4" fill="#2e5c17"/>
<rect x="320.2" y="411.9" width="1.6" height="2.4" fill="#2e5c17"/>
<rect x="321.4" y="398.1" width="2.9" height="17.2" fill="#2e5c17"/>
<rect x="320.1" y="410.4" width="1.6" height="2.4" fill="#2e5c17"/>
<rect x="324.1" y="400.4" width="1.6" height="2.4" fill="#2e5c17"/>
<rect x="325.3" y="401.2" width="2.9" height="12.5" fill="#2e5c17"/>
<rect x="323.9" y="409.8" width="1.6" height="2.4" fill="#2e5c17"/>
<rect x="327.9" y="402.6" width="1.6" height="2.4" fill="#2e5c17"/>
<rect x="329.1" y="401.2" width="2.9" height="29.2" fill="#b8173a"/>
<rect x="327.7" y="406.5" width="1.6" height="2.4" fill="#b8173a"/>
<rect x="331.7" y="423.4" width="1.6" height="2.4" fill="#b8173a"/>
<rect x="332.9" y="422.7" width="2.9" height="7.8" fill="#2e5c17"/>
<rect x="331.6" y="427.6" width="1.6" height="2.4" fill="#2e5c17"/>
<rect x="335.6" y="423" width="1.6" height="2.4" fill="#2e5c17"/>
<rect x="336.8" y="419.5" width="2.9" height="8.9" fill="#2e5c17"/>
<rect x="335.4" y="425.2" width="1.6" height="2.4" fill="#2e5c17"/>
<rect x="339.4" y="420.1" width="1.6" height="2.4" fill="#2e5c17"/>
<rect x="340.6" y="419.5" width="2.9" height="7.3" fill="#2e5c17"/>
<rect x="339.2" y="424" width="1.6" height="2.4" fill="#2e5c17"/>
<rect x="343.2" y="419.8" width="1.6" height="2.4" fill="#2e5c17"/>
<rect x="344.4" y="416.4" width="2.9" height="15.7" fill="#b8173a"/>
<rect x="343.1" y="418.6" width="1.6" height="2.4" fill="#b8173a"/>
<rect x="347.1" y="427.7" width="1.6" height="2.4" fill="#b8173a"/>
<rect x="348.3" y="421.1" width="2.9" height="11" fill="#2e5c17"/>
<rect x="346.9" y="428.4" width="1.6" height="2.4" fill="#2e5c17"/>
<rect x="350.9" y="422.1" width="1.6" height="2.4" fill="#2e5c17"/>
<rect x="352.1" y="418" width="2.9" height="7.8" fill="#2e5c17"/>
<rect x="350.7" y="422.9" width="1.6" height="2.4" fill="#2e5c17"/>
<rect x="354.7" y="418.3" width="1.6" height="2.4" fill="#2e5c17"/>
<rect x="355.9" y="402.3" width="2.9" height="17.2" fill="#2e5c17"/>
<rect x="354.6" y="414.5" width="1.6" height="2.4" fill="#2e5c17"/>
<rect x="358.6" y="404.5" width="1.6" height="2.4" fill="#2e5c17"/>
<rect x="359.8" y="399.7" width="2.9" height="9.4" fill="#2e5c17"/>
<rect x="358.4" y="405.8" width="1.6" height="2.4" fill="#2e5c17"/>
<rect x="362.4" y="400.4" width="1.6" height="2.4" fill="#2e5c17"/>
<rect x="363.6" y="389.2" width="2.9" height="19.8" fill="#b8173a"/>
<rect x="362.2" y="392.4" width="1.6" height="2.4" fill="#b8173a"/>
<rect x="366.2" y="403.9" width="1.6" height="2.4" fill="#b8173a"/>
<rect x="367.4" y="401.2" width="2.9" height="9.4" fill="#b8173a"/>
<rect x="366.1" y="402.1" width="1.6" height="2.4" fill="#b8173a"/>
<rect x="370.1" y="407.6" width="1.6" height="2.4" fill="#b8173a"/>
<rect x="371.3" y="402.2" width="2.9" height="11.8" fill="#2e5c17"/>
<rect x="369.9" y="410.2" width="1.6" height="2.4" fill="#2e5c17"/>
<rect x="373.9" y="403.3" width="1.6" height="2.4" fill="#2e5c17"/>
<rect x="375.1" y="397.9" width="2.9" height="20.3" fill="#b8173a"/>
<rect x="373.8" y="401.2" width="1.6" height="2.4" fill="#b8173a"/>
<rect x="377.8" y="413" width="1.6" height="2.4" fill="#b8173a"/>
<rect x="378.9" y="403" width="2.9" height="11.8" fill="#b8173a"/>
<rect x="377.6" y="404.4" width="1.6" height="2.4" fill="#b8173a"/>
<rect x="381.6" y="411.3" width="1.6" height="2.4" fill="#b8173a"/>
<rect x="382.8" y="408.9" width="2.9" height="7.6" fill="#2e5c17"/>
<rect x="381.4" y="413.7" width="1.6" height="2.4" fill="#2e5c17"/>
<rect x="385.4" y="409.3" width="1.6" height="2.4" fill="#2e5c17"/>
<rect x="386.6" y="393.7" width="2.9" height="17.8" fill="#2e5c17"/>
<rect x="385.3" y="406.4" width="1.6" height="2.4" fill="#2e5c17"/>
<rect x="389.3" y="396.1" width="1.6" height="2.4" fill="#2e5c17"/>
<rect x="390.4" y="389.5" width="2.9" height="44.9" fill="#b8173a"/>
<rect x="389.1" y="398.1" width="1.6" height="2.4" fill="#b8173a"/>
<rect x="393.1" y="424.1" width="1.6" height="2.4" fill="#b8173a"/>
<rect x="394.3" y="413.2" width="2.9" height="19.5" fill="#2e5c17"/>
<rect x="392.9" y="427.1" width="1.6" height="2.4" fill="#2e5c17"/>
<rect x="396.9" y="415.9" width="1.6" height="2.4" fill="#2e5c17"/>
<rect x="398.1" y="411.5" width="2.9" height="59.2" fill="#b8173a"/>
<rect x="396.8" y="423.3" width="1.6" height="2.4" fill="#b8173a"/>
<rect x="400.8" y="457.7" width="1.6" height="2.4" fill="#b8173a"/>
<rect x="401.9" y="455.5" width="2.9" height="65.2" fill="#b8173a"/>
<rect x="400.6" y="468.6" width="1.6" height="2.4" fill="#b8173a"/>
<rect x="404.6" y="506.4" width="1.6" height="2.4" fill="#b8173a"/>
<rect x="405.8" y="459.7" width="2.9" height="50.8" fill="#2e5c17"/>
<rect x="404.4" y="498.1" width="1.6" height="2.4" fill="#2e5c17"/>
<rect x="408.4" y="468.7" width="1.6" height="2.4" fill="#2e5c17"/>
<rect x="409.6" y="464.8" width="2.9" height="16.1" fill="#b8173a"/>
<rect x="408.3" y="467.1" width="1.6" height="2.4" fill="#b8173a"/>
<rect x="412.3" y="476.5" width="1.6" height="2.4" fill="#b8173a"/>
<rect x="413.5" y="440.2" width="2.9" height="31.3" fill="#2e5c17"/>
<rect x="412.1" y="463.5" width="1.6" height="2.4" fill="#2e5c17"/>
<rect x="416.1" y="445.3" width="1.6" height="2.4" fill="#2e5c17"/>
<rect x="417.3" y="436" width="2.9" height="21.2" fill="#b8173a"/>
<rect x="415.9" y="439.5" width="1.6" height="2.4" fill="#b8173a"/>
<rect x="419.9" y="451.7" width="1.6" height="2.4" fill="#b8173a"/>
<rect x="421.1" y="446.2" width="2.9" height="21.2" fill="#b8173a"/>
<rect x="419.8" y="449.6" width="1.6" height="2.4" fill="#b8173a"/>
<rect x="423.8" y="461.9" width="1.6" height="2.4" fill="#b8173a"/>
<rect x="425" y="443.6" width="2.9" height="19.5" fill="#b8173a"/>
<rect x="423.6" y="446.7" width="1.6" height="2.4" fill="#b8173a"/>
<rect x="427.6" y="458" width="1.6" height="2.4" fill="#b8173a"/>
<rect x="428.8" y="441.9" width="2.9" height="22.9" fill="#2e5c17"/>
<rect x="427.4" y="458.6" width="1.6" height="2.4" fill="#2e5c17"/>
<rect x="431.4" y="445.3" width="1.6" height="2.4" fill="#2e5c17"/>
<rect x="432.6" y="420.8" width="2.9" height="30.5" fill="#2e5c17"/>
<rect x="431.3" y="443.3" width="1.6" height="2.4" fill="#2e5c17"/>
<rect x="435.3" y="425.7" width="1.6" height="2.4" fill="#2e5c17"/>
<rect x="436.5" y="403" width="2.9" height="22.9" fill="#2e5c17"/>
<rect x="435.1" y="419.6" width="1.6" height="2.4" fill="#2e5c17"/>
<rect x="439.1" y="406.4" width="1.6" height="2.4" fill="#2e5c17"/>
<rect x="440.3" y="395.4" width="2.9" height="23.7" fill="#2e5c17"/>
<rect x="438.9" y="412.7" width="1.6" height="2.4" fill="#2e5c17"/>
<rect x="442.9" y="398.9" width="1.6" height="2.4" fill="#2e5c17"/>
<rect x="444.1" y="387.8" width="2.9" height="28.8" fill="#b8173a"/>
<rect x="442.8" y="392.9" width="1.6" height="2.4" fill="#b8173a"/>
<rect x="446.8" y="409.6" width="1.6" height="2.4" fill="#b8173a"/>
<rect x="448" y="398.8" width="2.9" height="16.1" fill="#2e5c17"/>
<rect x="446.6" y="410.1" width="1.6" height="2.4" fill="#2e5c17"/>
<rect x="450.6" y="400.8" width="1.6" height="2.4" fill="#2e5c17"/>
<rect x="451.8" y="404.7" width="2.9" height="18.6" fill="#2e5c17"/>
<rect x="450.5" y="418" width="1.6" height="2.4" fill="#2e5c17"/>
<rect x="454.5" y="407.2" width="1.6" height="2.4" fill="#2e5c17"/>
<rect x="455.6" y="401.3" width="2.9" height="15.2" fill="#2e5c17"/>
<rect x="454.3" y="412" width="1.6" height="2.4" fill="#2e5c17"/>
<rect x="458.3" y="403.2" width="1.6" height="2.4" fill="#2e5c17"/>
<rect x="459.5" y="389.5" width="2.9" height="16.1" fill="#2e5c17"/>
<rect x="458.1" y="400.8" width="1.6" height="2.4" fill="#2e5c17"/>
<rect x="462.1" y="391.5" width="1.6" height="2.4" fill="#2e5c17"/>
<rect x="463.3" y="379.3" width="2.9" height="22" fill="#2e5c17"/>
<rect x="462" y="395.3" width="1.6" height="2.4" fill="#2e5c17"/>
<rect x="466" y="382.5" width="1.6" height="2.4" fill="#2e5c17"/>
<rect x="467.1" y="371.7" width="2.9" height="15.2" fill="#2e5c17"/>
<rect x="465.8" y="382.4" width="1.6" height="2.4" fill="#2e5c17"/>
<rect x="469.8" y="373.5" width="1.6" height="2.4" fill="#2e5c17"/>
<rect x="471" y="301.7" width="2.9" height="74.4" fill="#2e5c17"/>
<rect x="469.6" y="358.5" width="1.6" height="2.4" fill="#2e5c17"/>
<rect x="473.6" y="315.4" width="1.6" height="2.4" fill="#2e5c17"/>
<rect x="474.8" y="256.1" width="2.9" height="68.9" fill="#2e5c17"/>
<rect x="473.5" y="308.6" width="1.6" height="2.4" fill="#2e5c17"/>
<rect x="477.5" y="268.7" width="1.6" height="2.4" fill="#2e5c17"/>
<rect x="478.7" y="189.4" width="2.9" height="104.4" fill="#2e5c17"/>
<rect x="477.3" y="269.7" width="1.6" height="2.4" fill="#2e5c17"/>
<rect x="481.3" y="209.1" width="1.6" height="2.4" fill="#2e5c17"/>
<rect x="482.5" y="196.1" width="2.9" height="107.8" fill="#b8173a"/>
<rect x="481.1" y="218.6" width="1.6" height="2.4" fill="#b8173a"/>
<rect x="485.1" y="281.1" width="1.6" height="2.4" fill="#b8173a"/>
<rect x="486.3" y="213.9" width="2.9" height="47.8" fill="#2e5c17"/>
<rect x="485" y="250" width="1.6" height="2.4" fill="#2e5c17"/>
<rect x="489" y="222.2" width="1.6" height="2.4" fill="#2e5c17"/>
<rect x="490.2" y="222.8" width="2.9" height="34.4" fill="#2e5c17"/>
<rect x="488.8" y="248.4" width="1.6" height="2.4" fill="#2e5c17"/>
<rect x="492.8" y="228.5" width="1.6" height="2.4" fill="#2e5c17"/>
<rect x="494" y="201.7" width="2.9" height="51.1" fill="#b8173a"/>
<rect x="492.6" y="211.7" width="1.6" height="2.4" fill="#b8173a"/>
<rect x="496.6" y="241.4" width="1.6" height="2.4" fill="#b8173a"/>
<rect x="497.8" y="228.3" width="2.9" height="32.2" fill="#2e5c17"/>
<rect x="496.5" y="252.3" width="1.6" height="2.4" fill="#2e5c17"/>
<rect x="500.5" y="233.6" width="1.6" height="2.4" fill="#2e5c17"/>
<rect x="501.7" y="227.2" width="2.9" height="25.6" fill="#2e5c17"/>
<rect x="500.3" y="246" width="1.6" height="2.4" fill="#2e5c17"/>
<rect x="504.3" y="231.1" width="1.6" height="2.4" fill="#2e5c17"/>
<rect x="505.5" y="239.4" width="2.9" height="97.8" fill="#b8173a"/>
<rect x="504.1" y="259.8" width="1.6" height="2.4" fill="#b8173a"/>
<rect x="508.1" y="316.5" width="1.6" height="2.4" fill="#b8173a"/>
<rect x="509.3" y="287.2" width="2.9" height="34.4" fill="#2e5c17"/>
<rect x="508" y="312.9" width="1.6" height="2.4" fill="#2e5c17"/>
<rect x="512" y="292.9" width="1.6" height="2.4" fill="#2e5c17"/>
<rect x="513.2" y="271.7" width="2.9" height="44.4" fill="#2e5c17"/>
<rect x="511.8" y="305.1" width="1.6" height="2.4" fill="#2e5c17"/>
<rect x="515.8" y="279.4" width="1.6" height="2.4" fill="#2e5c17"/>
<rect x="517" y="266.1" width="2.9" height="36.7" fill="#b8173a"/>
<rect x="515.7" y="273" width="1.6" height="2.4" fill="#b8173a"/>
<rect x="519.7" y="294.2" width="1.6" height="2.4" fill="#b8173a"/>
<rect x="520.8" y="270.6" width="2.9" height="23.3" fill="#2e5c17"/>
<rect x="519.5" y="287.6" width="1.6" height="2.4" fill="#2e5c17"/>
<rect x="523.5" y="274" width="1.6" height="2.4" fill="#2e5c17"/>
<rect x="524.7" y="282.8" width="2.9" height="38.9" fill="#b8173a"/>
<rect x="523.3" y="290.1" width="1.6" height="2.4" fill="#b8173a"/>
<rect x="527.3" y="312.7" width="1.6" height="2.4" fill="#b8173a"/>
<rect x="528.5" y="259.4" width="2.9" height="50" fill="#2e5c17"/>
<rect x="527.2" y="297.2" width="1.6" height="2.4" fill="#2e5c17"/>
<rect x="531.2" y="268.2" width="1.6" height="2.4" fill="#2e5c17"/>
<rect x="532.3" y="257.2" width="2.9" height="46.7" fill="#b8173a"/>
<rect x="531" y="266.3" width="1.6" height="2.4" fill="#b8173a"/>
<rect x="535" y="293.4" width="1.6" height="2.4" fill="#b8173a"/>
<rect x="536.2" y="275" width="2.9" height="26.7" fill="#b8173a"/>
<rect x="534.8" y="279.7" width="1.6" height="2.4" fill="#b8173a"/>
<rect x="538.8" y="295.1" width="1.6" height="2.4" fill="#b8173a"/>
<rect x="540" y="288.3" width="2.9" height="38.9" fill="#b8173a"/>
<rect x="538.7" y="295.7" width="1.6" height="2.4" fill="#b8173a"/>
<rect x="542.7" y="318.2" width="1.6" height="2.4" fill="#b8173a"/>
<rect x="543.8" y="285" width="2.9" height="48.9" fill="#2e5c17"/>
<rect x="542.5" y="321.9" width="1.6" height="2.4" fill="#2e5c17"/>
<rect x="546.5" y="293.6" width="1.6" height="2.4" fill="#2e5c17"/>
<rect x="547.7" y="278.3" width="2.9" height="22.2" fill="#b8173a"/>
<rect x="546.3" y="282" width="1.6" height="2.4" fill="#b8173a"/>
<rect x="550.3" y="294.9" width="1.6" height="2.4" fill="#b8173a"/>
<rect x="551.5" y="253.9" width="2.9" height="46.7" fill="#2e5c17"/>
<rect x="550.2" y="289.1" width="1.6" height="2.4" fill="#2e5c17"/>
<rect x="554.2" y="262" width="1.6" height="2.4" fill="#2e5c17"/>
<rect x="555.3" y="230.6" width="2.9" height="46.7" fill="#b8173a"/>
<rect x="554" y="239.6" width="1.6" height="2.4" fill="#b8173a"/>
<rect x="558" y="266.7" width="1.6" height="2.4" fill="#b8173a"/>
<rect x="559.2" y="241.7" width="2.9" height="18.9" fill="#2e5c17"/>
<rect x="557.8" y="255.2" width="1.6" height="2.4" fill="#2e5c17"/>
<rect x="561.8" y="244.2" width="1.6" height="2.4" fill="#2e5c17"/>
<rect x="563" y="222.8" width="2.9" height="64.4" fill="#b8173a"/>
<rect x="561.7" y="235.8" width="1.6" height="2.4" fill="#b8173a"/>
<rect x="565.7" y="273.1" width="1.6" height="2.4" fill="#b8173a"/>
<rect x="566.9" y="260.6" width="2.9" height="30" fill="#2e5c17"/>
<rect x="565.5" y="282.8" width="1.6" height="2.4" fill="#2e5c17"/>
<rect x="569.5" y="265.4" width="1.6" height="2.4" fill="#2e5c17"/>
<rect x="570.7" y="257.2" width="2.9" height="38.9" fill="#2e5c17"/>
<rect x="569.3" y="286.4" width="1.6" height="2.4" fill="#2e5c17"/>
<rect x="573.3" y="263.8" width="1.6" height="2.4" fill="#2e5c17"/>
<rect x="574.5" y="228.3" width="2.9" height="56.7" fill="#2e5c17"/>
<rect x="573.2" y="271.3" width="1.6" height="2.4" fill="#2e5c17"/>
<rect x="577.2" y="238.5" width="1.6" height="2.4" fill="#2e5c17"/>
<rect x="578.4" y="180.6" width="2.9" height="81.1" fill="#2e5c17"/>
<rect x="577" y="242.6" width="1.6" height="2.4" fill="#2e5c17"/>
<rect x="581" y="195.6" width="1.6" height="2.4" fill="#2e5c17"/>
<rect x="582.2" y="226" width="2.9" height="20.6" fill="#2e5c17"/>
<rect x="580.8" y="240.8" width="1.6" height="2.4" fill="#2e5c17"/>
<rect x="584.8" y="228.9" width="1.6" height="2.4" fill="#2e5c17"/>
<rect x="586" y="222.8" width="2.9" height="35.7" fill="#b8173a"/>
<rect x="584.7" y="229.4" width="1.6" height="2.4" fill="#b8173a"/>
<rect x="588.7" y="250.1" width="1.6" height="2.4" fill="#b8173a"/>
<rect x="589.9" y="216.4" width="2.9" height="40.5" fill="#b8173a"/>
<rect x="588.5" y="224.1" width="1.6" height="2.4" fill="#b8173a"/>
<rect x="592.5" y="247.6" width="1.6" height="2.4" fill="#b8173a"/>
<rect x="593.7" y="239.4" width="2.9" height="42.1" fill="#b8173a"/>
<rect x="592.4" y="247.5" width="1.6" height="2.4" fill="#b8173a"/>
<rect x="596.4" y="271.9" width="1.6" height="2.4" fill="#b8173a"/>
<rect x="597.5" y="249.8" width="2.9" height="28.6" fill="#2e5c17"/>
<rect x="596.2" y="270.8" width="1.6" height="2.4" fill="#2e5c17"/>
<rect x="600.2" y="254.3" width="1.6" height="2.4" fill="#2e5c17"/>
<rect x="601.4" y="246.6" width="2.9" height="16.7" fill="#2e5c17"/>
<rect x="600" y="258.4" width="1.6" height="2.4" fill="#2e5c17"/>
<rect x="604" y="248.7" width="1.6" height="2.4" fill="#2e5c17"/>
<rect x="605.2" y="254.5" width="2.9" height="34.1" fill="#b8173a"/>
<rect x="603.9" y="260.8" width="1.6" height="2.4" fill="#b8173a"/>
<rect x="607.9" y="280.6" width="1.6" height="2.4" fill="#b8173a"/>
<rect x="609" y="275.2" width="2.9" height="25.4" fill="#b8173a"/>
<rect x="607.7" y="279.5" width="1.6" height="2.4" fill="#b8173a"/>
<rect x="611.7" y="294.3" width="1.6" height="2.4" fill="#b8173a"/>
<rect x="612.9" y="266.4" width="2.9" height="18.3" fill="#2e5c17"/>
<rect x="611.5" y="279.5" width="1.6" height="2.4" fill="#2e5c17"/>
<rect x="615.5" y="268.9" width="1.6" height="2.4" fill="#2e5c17"/>
<rect x="616.7" y="252.9" width="2.9" height="31.7" fill="#2e5c17"/>
<rect x="615.4" y="276.5" width="1.6" height="2.4" fill="#2e5c17"/>
<rect x="619.4" y="258.1" width="1.6" height="2.4" fill="#2e5c17"/>
<rect x="620.5" y="246.6" width="2.9" height="19.8" fill="#b8173a"/>
<rect x="619.2" y="249.8" width="1.6" height="2.4" fill="#b8173a"/>
<rect x="623.2" y="261.3" width="1.6" height="2.4" fill="#b8173a"/>
<rect x="624.4" y="249.8" width="2.9" height="15.1" fill="#b8173a"/>
<rect x="623" y="251.9" width="1.6" height="2.4" fill="#b8173a"/>
<rect x="627" y="260.6" width="1.6" height="2.4" fill="#b8173a"/>
<rect x="628.2" y="227.5" width="2.9" height="35.7" fill="#2e5c17"/>
<rect x="626.9" y="254.2" width="1.6" height="2.4" fill="#2e5c17"/>
<rect x="630.9" y="233.5" width="1.6" height="2.4" fill="#2e5c17"/>
<rect x="632" y="224.4" width="2.9" height="22.2" fill="#b8173a"/>
<rect x="630.7" y="228.1" width="1.6" height="2.4" fill="#b8173a"/>
<rect x="634.7" y="240.9" width="1.6" height="2.4" fill="#b8173a"/>
<rect x="635.9" y="207.7" width="2.9" height="30.2" fill="#2e5c17"/>
<rect x="634.5" y="230" width="1.6" height="2.4" fill="#2e5c17"/>
<rect x="638.5" y="212.5" width="1.6" height="2.4" fill="#2e5c17"/>
<rect x="639.7" y="218.8" width="2.9" height="15.1" fill="#2e5c17"/>
<rect x="638.4" y="229.4" width="1.6" height="2.4" fill="#2e5c17"/>
<rect x="642.4" y="220.6" width="1.6" height="2.4" fill="#2e5c17"/>
<rect x="643.6" y="210.9" width="2.9" height="30.2" fill="#b8173a"/>
<rect x="642.2" y="216.3" width="1.6" height="2.4" fill="#b8173a"/>
<rect x="646.2" y="233.8" width="1.6" height="2.4" fill="#b8173a"/>
<rect x="647.4" y="217.2" width="2.9" height="15.9" fill="#2e5c17"/>
<rect x="646" y="228.4" width="1.6" height="2.4" fill="#2e5c17"/>
<rect x="650" y="219.2" width="1.6" height="2.4" fill="#2e5c17"/>
<rect x="651.2" y="217.2" width="2.9" height="47.6" fill="#b8173a"/>
<rect x="649.9" y="226.5" width="1.6" height="2.4" fill="#b8173a"/>
<rect x="653.9" y="254.1" width="1.6" height="2.4" fill="#b8173a"/>
<rect x="655.1" y="252.9" width="2.9" height="15.1" fill="#2e5c17"/>
<rect x="653.7" y="263.5" width="1.6" height="2.4" fill="#2e5c17"/>
<rect x="657.7" y="254.8" width="1.6" height="2.4" fill="#2e5c17"/>
<rect x="658.9" y="248.2" width="2.9" height="19.8" fill="#2e5c17"/>
<rect x="657.5" y="262.5" width="1.6" height="2.4" fill="#2e5c17"/>
<rect x="661.5" y="250.9" width="1.6" height="2.4" fill="#2e5c17"/>
<rect x="662.7" y="243.4" width="2.9" height="19.8" fill="#b8173a"/>
<rect x="661.4" y="246.6" width="1.6" height="2.4" fill="#b8173a"/>
<rect x="665.4" y="258.1" width="1.6" height="2.4" fill="#b8173a"/>
<rect x="666.6" y="249.8" width="2.9" height="16.7" fill="#b8173a"/>
<rect x="665.2" y="252.2" width="1.6" height="2.4" fill="#b8173a"/>
<rect x="669.2" y="261.9" width="1.6" height="2.4" fill="#b8173a"/>
<rect x="670.4" y="263.3" width="2.9" height="19.8" fill="#b8173a"/>
<rect x="669.1" y="266.4" width="1.6" height="2.4" fill="#b8173a"/>
<rect x="673.1" y="277.9" width="1.6" height="2.4" fill="#b8173a"/>
<rect x="674.2" y="264.8" width="2.9" height="23" fill="#2e5c17"/>
<rect x="672.9" y="281.6" width="1.6" height="2.4" fill="#2e5c17"/>
<rect x="676.9" y="268.2" width="1.6" height="2.4" fill="#2e5c17"/>
<rect x="678.1" y="258.5" width="2.9" height="34.9" fill="#b8173a"/>
<rect x="676.7" y="265" width="1.6" height="2.4" fill="#b8173a"/>
<rect x="680.7" y="285.2" width="1.6" height="2.4" fill="#b8173a"/>
<rect x="681.9" y="290.2" width="2.9" height="38.1" fill="#b8173a"/>
<rect x="680.6" y="297.4" width="1.6" height="2.4" fill="#b8173a"/>
<rect x="684.6" y="319.5" width="1.6" height="2.4" fill="#b8173a"/>
<rect x="685.7" y="298.2" width="2.9" height="19" fill="#b8173a"/>
<rect x="684.4" y="301.2" width="1.6" height="2.4" fill="#b8173a"/>
<rect x="688.4" y="312.2" width="1.6" height="2.4" fill="#b8173a"/>
<rect x="689.6" y="295" width="2.9" height="21.4" fill="#2e5c17"/>
<rect x="688.2" y="310.5" width="1.6" height="2.4" fill="#2e5c17"/>
<rect x="692.2" y="298.1" width="1.6" height="2.4" fill="#2e5c17"/>
<rect x="693.4" y="280" width="2.9" height="20.6" fill="#2e5c17"/>
<rect x="692.1" y="294.9" width="1.6" height="2.4" fill="#2e5c17"/>
<rect x="696.1" y="283" width="1.6" height="2.4" fill="#2e5c17"/>
<rect x="697.2" y="280" width="2.9" height="21.3" fill="#b8173a"/>
<rect x="695.9" y="283.5" width="1.6" height="2.4" fill="#b8173a"/>
<rect x="699.9" y="295.9" width="1.6" height="2.4" fill="#b8173a"/>
<rect x="701.1" y="296.5" width="2.9" height="31.6" fill="#b8173a"/>
<rect x="699.7" y="302.3" width="1.6" height="2.4" fill="#b8173a"/>
<rect x="703.7" y="320.6" width="1.6" height="2.4" fill="#b8173a"/>
<rect x="704.9" y="311.7" width="2.9" height="21.3" fill="#2e5c17"/>
<rect x="703.6" y="327.1" width="1.6" height="2.4" fill="#2e5c17"/>
<rect x="707.6" y="314.7" width="1.6" height="2.4" fill="#2e5c17"/>
<rect x="708.8" y="317.2" width="2.9" height="26.1" fill="#2e5c17"/>
<rect x="707.4" y="336.4" width="1.6" height="2.4" fill="#2e5c17"/>
<rect x="711.4" y="321.2" width="1.6" height="2.4" fill="#2e5c17"/>
<rect x="712.6" y="311.7" width="2.9" height="17.9" fill="#2e5c17"/>
<rect x="711.2" y="324.4" width="1.6" height="2.4" fill="#2e5c17"/>
<rect x="715.2" y="314" width="1.6" height="2.4" fill="#2e5c17"/>
<rect x="716.4" y="302.7" width="2.9" height="24.1" fill="#2e5c17"/>
<rect x="715.1" y="320.3" width="1.6" height="2.4" fill="#2e5c17"/>
<rect x="719.1" y="306.3" width="1.6" height="2.4" fill="#2e5c17"/>
<rect x="720.3" y="280" width="2.9" height="34.4" fill="#2e5c17"/>
<rect x="718.9" y="305.7" width="1.6" height="2.4" fill="#2e5c17"/>
<rect x="722.9" y="285.7" width="1.6" height="2.4" fill="#2e5c17"/>
<rect x="724.1" y="284.2" width="2.9" height="18.6" fill="#b8173a"/>
<rect x="722.7" y="287" width="1.6" height="2.4" fill="#b8173a"/>
<rect x="726.7" y="297.8" width="1.6" height="2.4" fill="#b8173a"/>
<rect x="727.9" y="291" width="2.9" height="23.4" fill="#2e5c17"/>
<rect x="726.6" y="308.1" width="1.6" height="2.4" fill="#2e5c17"/>
<rect x="730.6" y="294.5" width="1.6" height="2.4" fill="#2e5c17"/>
<rect x="731.8" y="269" width="2.9" height="27.5" fill="#2e5c17"/>
<rect x="730.4" y="289.3" width="1.6" height="2.4" fill="#2e5c17"/>
<rect x="734.4" y="273.3" width="1.6" height="2.4" fill="#2e5c17"/>
<rect x="735.6" y="269" width="2.9" height="16.5" fill="#b8173a"/>
<rect x="734.2" y="271.5" width="1.6" height="2.4" fill="#b8173a"/>
<rect x="738.2" y="281" width="1.6" height="2.4" fill="#b8173a"/>
<rect x="739.4" y="280" width="2.9" height="35.8" fill="#b8173a"/>
<rect x="738.1" y="286.7" width="1.6" height="2.4" fill="#b8173a"/>
<rect x="742.1" y="307.4" width="1.6" height="2.4" fill="#b8173a"/>
<rect x="743.3" y="307.5" width="2.9" height="24.8" fill="#b8173a"/>
<rect x="741.9" y="311.8" width="1.6" height="2.4" fill="#b8173a"/>
<rect x="745.9" y="326.2" width="1.6" height="2.4" fill="#b8173a"/>
<rect x="747.1" y="321.3" width="2.9" height="15.8" fill="#b8173a"/>
<rect x="745.8" y="323.6" width="1.6" height="2.4" fill="#b8173a"/>
<rect x="749.8" y="332.8" width="1.6" height="2.4" fill="#b8173a"/>
<rect x="750.9" y="319.9" width="2.9" height="23.4" fill="#2e5c17"/>
<rect x="749.6" y="337" width="1.6" height="2.4" fill="#2e5c17"/>
<rect x="753.6" y="323.4" width="1.6" height="2.4" fill="#2e5c17"/>
<rect x="754.8" y="315.8" width="2.9" height="13.8" fill="#2e5c17"/>
<rect x="753.4" y="325.3" width="1.6" height="2.4" fill="#2e5c17"/>
<rect x="757.4" y="317.3" width="1.6" height="2.4" fill="#2e5c17"/>
<rect x="758.6" y="304.8" width="2.9" height="17.9" fill="#2e5c17"/>
<rect x="757.3" y="317.5" width="1.6" height="2.4" fill="#2e5c17"/>
<rect x="761.3" y="307.2" width="1.6" height="2.4" fill="#2e5c17"/>
<rect x="762.4" y="306.9" width="2.9" height="27.5" fill="#b8173a"/>
<rect x="761.1" y="311.7" width="1.6" height="2.4" fill="#b8173a"/>
<rect x="765.1" y="327.7" width="1.6" height="2.4" fill="#b8173a"/>
<rect x="766.3" y="308.2" width="2.9" height="21.3" fill="#2e5c17"/>
<rect x="764.9" y="323.7" width="1.6" height="2.4" fill="#2e5c17"/>
<rect x="768.9" y="311.3" width="1.6" height="2.4" fill="#2e5c17"/>
<rect x="770.1" y="282.8" width="2.9" height="35.8" fill="#2e5c17"/>
<rect x="768.8" y="309.5" width="1.6" height="2.4" fill="#2e5c17"/>
<rect x="772.8" y="288.7" width="1.6" height="2.4" fill="#2e5c17"/>
<rect x="773.9" y="290.3" width="2.9" height="40.6" fill="#b8173a"/>
<rect x="772.6" y="298.1" width="1.6" height="2.4" fill="#b8173a"/>
<rect x="776.6" y="321.6" width="1.6" height="2.4" fill="#b8173a"/>
<rect x="777.8" y="314.4" width="2.9" height="19.9" fill="#2e5c17"/>
<rect x="776.4" y="328.8" width="1.6" height="2.4" fill="#2e5c17"/>
<rect x="780.4" y="317.2" width="1.6" height="2.4" fill="#2e5c17"/>
<rect x="781.6" y="300.7" width="2.9" height="23.4" fill="#2e5c17"/>
<rect x="780.3" y="317.7" width="1.6" height="2.4" fill="#2e5c17"/>
<rect x="784.3" y="304.1" width="1.6" height="2.4" fill="#2e5c17"/>
<rect x="785.4" y="295.2" width="2.9" height="17.9" fill="#2e5c17"/>
<rect x="784.1" y="307.9" width="1.6" height="2.4" fill="#2e5c17"/>
<rect x="788.1" y="297.5" width="1.6" height="2.4" fill="#2e5c17"/>
<rect x="789.3" y="266.3" width="2.9" height="36.5" fill="#2e5c17"/>
<rect x="787.9" y="293.5" width="1.6" height="2.4" fill="#2e5c17"/>
<rect x="791.9" y="272.4" width="1.6" height="2.4" fill="#2e5c17"/>
<rect x="793.1" y="261.5" width="2.9" height="32.3" fill="#2e5c17"/>
<rect x="791.8" y="285.5" width="1.6" height="2.4" fill="#2e5c17"/>
<rect x="795.8" y="266.7" width="1.6" height="2.4" fill="#2e5c17"/>
<rect x="797" y="233.3" width="2.9" height="37.8" fill="#2e5c17"/>
<rect x="795.6" y="261.6" width="1.6" height="2.4" fill="#2e5c17"/>
<rect x="799.6" y="239.6" width="1.6" height="2.4" fill="#2e5c17"/>
<rect x="800.8" y="256" width="2.9" height="31.6" fill="#b8173a"/>
<rect x="799.4" y="261.7" width="1.6" height="2.4" fill="#b8173a"/>
<rect x="803.4" y="280.1" width="1.6" height="2.4" fill="#b8173a"/>
<rect x="804.6" y="257.3" width="2.9" height="28.2" fill="#2e5c17"/>
<rect x="803.3" y="278.1" width="1.6" height="2.4" fill="#2e5c17"/>
<rect x="807.3" y="261.8" width="1.6" height="2.4" fill="#2e5c17"/>
<rect x="808.5" y="264.9" width="2.9" height="31.6" fill="#b8173a"/>
<rect x="807.1" y="270.7" width="1.6" height="2.4" fill="#b8173a"/>
<rect x="811.1" y="289" width="1.6" height="2.4" fill="#b8173a"/>
<rect x="812.3" y="276.6" width="2.9" height="17.2" fill="#2e5c17"/>
<rect x="810.9" y="288.8" width="1.6" height="2.4" fill="#2e5c17"/>
<rect x="814.9" y="278.8" width="1.6" height="2.4" fill="#2e5c17"/>
<rect x="816.1" y="258.1" width="2.9" height="25.2" fill="#2e5c17"/>
<rect x="814.8" y="276.5" width="1.6" height="2.4" fill="#2e5c17"/>
<rect x="818.8" y="261.9" width="1.6" height="2.4" fill="#2e5c17"/>
<rect x="820" y="250.9" width="2.9" height="44.1" fill="#b8173a"/>
<rect x="818.6" y="259.4" width="1.6" height="2.4" fill="#b8173a"/>
<rect x="822.6" y="284.9" width="1.6" height="2.4" fill="#b8173a"/>
<rect x="823.8" y="292.3" width="2.9" height="28.8" fill="#b8173a"/>
<rect x="822.5" y="297.4" width="1.6" height="2.4" fill="#b8173a"/>
<rect x="826.5" y="314.1" width="1.6" height="2.4" fill="#b8173a"/>
<rect x="827.6" y="307.5" width="2.9" height="23.4" fill="#b8173a"/>
<rect x="826.3" y="311.5" width="1.6" height="2.4" fill="#b8173a"/>
<rect x="830.3" y="325" width="1.6" height="2.4" fill="#b8173a"/>
<rect x="831.5" y="326.4" width="2.9" height="35.1" fill="#b8173a"/>
<rect x="830.1" y="332.9" width="1.6" height="2.4" fill="#b8173a"/>
<rect x="834.1" y="353.3" width="1.6" height="2.4" fill="#b8173a"/>
<rect x="835.3" y="330.9" width="2.9" height="22.5" fill="#2e5c17"/>
<rect x="834" y="347.2" width="1.6" height="2.4" fill="#2e5c17"/>
<rect x="838" y="334.2" width="1.6" height="2.4" fill="#2e5c17"/>
<rect x="839.1" y="324.6" width="2.9" height="15.3" fill="#2e5c17"/>
<rect x="837.8" y="335.3" width="1.6" height="2.4" fill="#2e5c17"/>
<rect x="841.8" y="326.5" width="1.6" height="2.4" fill="#2e5c17"/>
<rect x="843" y="322.8" width="2.9" height="19.8" fill="#b8173a"/>
<rect x="841.6" y="326" width="1.6" height="2.4" fill="#b8173a"/>
<rect x="845.6" y="337.4" width="1.6" height="2.4" fill="#b8173a"/>
<rect x="846.8" y="322.8" width="2.9" height="25.2" fill="#2e5c17"/>
<rect x="845.5" y="341.3" width="1.6" height="2.4" fill="#2e5c17"/>
<rect x="849.5" y="326.7" width="1.6" height="2.4" fill="#2e5c17"/>
<rect x="850.6" y="331.8" width="2.9" height="21.6" fill="#b8173a"/>
<rect x="849.3" y="335.4" width="1.6" height="2.4" fill="#b8173a"/>
<rect x="853.3" y="347.9" width="1.6" height="2.4" fill="#b8173a"/>
<rect x="854.5" y="333.6" width="2.9" height="26.1" fill="#b8173a"/>
<rect x="853.1" y="338.1" width="1.6" height="2.4" fill="#b8173a"/>
<rect x="857.1" y="353.3" width="1.6" height="2.4" fill="#b8173a"/>
<rect x="858.3" y="340.8" width="2.9" height="41.4" fill="#b8173a"/>
<rect x="857" y="348.7" width="1.6" height="2.4" fill="#b8173a"/>
<rect x="861" y="372.7" width="1.6" height="2.4" fill="#b8173a"/>
<rect x="862.1" y="366.9" width="2.9" height="28.8" fill="#b8173a"/>
<rect x="860.8" y="372" width="1.6" height="2.4" fill="#b8173a"/>
<rect x="864.8" y="388.7" width="1.6" height="2.4" fill="#b8173a"/>
<rect x="866" y="380.4" width="2.9" height="25.2" fill="#b8173a"/>
<rect x="864.6" y="384.7" width="1.6" height="2.4" fill="#b8173a"/>
<rect x="868.6" y="399.3" width="1.6" height="2.4" fill="#b8173a"/>
<rect x="869.8" y="385.8" width="2.9" height="17.1" fill="#2e5c17"/>
<rect x="868.5" y="397.9" width="1.6" height="2.4" fill="#2e5c17"/>
<rect x="872.5" y="388" width="1.6" height="2.4" fill="#2e5c17"/>
<rect x="873.7" y="362.4" width="2.9" height="36.9" fill="#2e5c17"/>
<rect x="872.3" y="389.9" width="1.6" height="2.4" fill="#2e5c17"/>
<rect x="876.3" y="368.6" width="1.6" height="2.4" fill="#2e5c17"/>
<rect x="877.5" y="358.8" width="2.9" height="19.8" fill="#b8173a"/>
<rect x="876.1" y="361.9" width="1.6" height="2.4" fill="#b8173a"/>
<rect x="880.1" y="373.4" width="1.6" height="2.4" fill="#b8173a"/>
<rect x="881.3" y="353.4" width="2.9" height="20.7" fill="#2e5c17"/>
<rect x="880" y="368.3" width="1.6" height="2.4" fill="#2e5c17"/>
<rect x="884" y="356.3" width="1.6" height="2.4" fill="#2e5c17"/>
<rect x="885.2" y="352.5" width="2.9" height="36.9" fill="#b8173a"/>
<rect x="883.8" y="359.4" width="1.6" height="2.4" fill="#b8173a"/>
<rect x="887.8" y="380.8" width="1.6" height="2.4" fill="#b8173a"/>
<rect x="889" y="380.4" width="2.9" height="13.5" fill="#b8173a"/>
<rect x="887.6" y="382.1" width="1.6" height="2.4" fill="#b8173a"/>
<rect x="891.6" y="389.9" width="1.6" height="2.4" fill="#b8173a"/>
<rect x="892.8" y="388.5" width="2.9" height="27.9" fill="#b8173a"/>
<rect x="891.5" y="393.4" width="1.6" height="2.4" fill="#b8173a"/>
<rect x="895.5" y="409.5" width="1.6" height="2.4" fill="#b8173a"/>
<rect x="896.7" y="388.5" width="2.9" height="21.6" fill="#2e5c17"/>
<rect x="895.3" y="404.1" width="1.6" height="2.4" fill="#2e5c17"/>
<rect x="899.3" y="391.6" width="1.6" height="2.4" fill="#2e5c17"/>
<rect x="900.5" y="367.8" width="2.9" height="24.3" fill="#2e5c17"/>
<rect x="899.2" y="385.5" width="1.6" height="2.4" fill="#2e5c17"/>
<rect x="903.2" y="371.4" width="1.6" height="2.4" fill="#2e5c17"/>
<rect x="904.3" y="369.6" width="2.9" height="20.7" fill="#b8173a"/>
<rect x="903" y="372.9" width="1.6" height="2.4" fill="#b8173a"/>
<rect x="907" y="384.9" width="1.6" height="2.4" fill="#b8173a"/>
<rect x="908.2" y="382.2" width="2.9" height="23.4" fill="#2e5c17"/>
<rect x="906.8" y="399.2" width="1.6" height="2.4" fill="#2e5c17"/>
<rect x="910.8" y="385.6" width="1.6" height="2.4" fill="#2e5c17"/>
<rect x="912" y="346.2" width="2.9" height="42.3" fill="#2e5c17"/>
<rect x="910.7" y="378" width="1.6" height="2.4" fill="#2e5c17"/>
<rect x="914.7" y="353.4" width="1.6" height="2.4" fill="#2e5c17"/>
<rect x="915.8" y="365.1" width="2.9" height="40.5" fill="#b8173a"/>
<rect x="914.5" y="372.8" width="1.6" height="2.4" fill="#b8173a"/>
<rect x="918.5" y="396.2" width="1.6" height="2.4" fill="#b8173a"/>
<rect x="919.7" y="380.4" width="2.9" height="22.5" fill="#2e5c17"/>
<rect x="918.3" y="396.7" width="1.6" height="2.4" fill="#2e5c17"/>
<rect x="922.3" y="383.7" width="1.6" height="2.4" fill="#2e5c17"/>
<rect x="923.5" y="372.3" width="2.9" height="19.8" fill="#2e5c17"/>
<rect x="922.2" y="386.5" width="1.6" height="2.4" fill="#2e5c17"/>
<rect x="926.2" y="375" width="1.6" height="2.4" fill="#2e5c17"/>
<rect x="927.3" y="351.6" width="2.9" height="39.6" fill="#2e5c17"/>
<rect x="926" y="381.2" width="1.6" height="2.4" fill="#2e5c17"/>
<rect x="930" y="358.3" width="1.6" height="2.4" fill="#2e5c17"/>
<rect x="931.2" y="328.8" width="2.9" height="31.8" fill="#2e5c17"/>
<rect x="929.8" y="352.5" width="1.6" height="2.4" fill="#2e5c17"/>
<rect x="933.8" y="334" width="1.6" height="2.4" fill="#2e5c17"/>
<rect x="935" y="325.9" width="2.9" height="28.9" fill="#b8173a"/>
<rect x="933.7" y="331" width="1.6" height="2.4" fill="#b8173a"/>
<rect x="937.7" y="347.8" width="1.6" height="2.4" fill="#b8173a"/>
<rect x="938.8" y="332.5" width="2.9" height="25.2" fill="#2e5c17"/>
<rect x="937.5" y="351" width="1.6" height="2.4" fill="#2e5c17"/>
<rect x="941.5" y="336.4" width="1.6" height="2.4" fill="#2e5c17"/>
<rect x="942.7" y="306.6" width="2.9" height="43.7" fill="#2e5c17"/>
<rect x="941.3" y="339.5" width="1.6" height="2.4" fill="#2e5c17"/>
<rect x="945.3" y="314.2" width="1.6" height="2.4" fill="#2e5c17"/>
<rect x="946.5" y="297.7" width="2.9" height="31.8" fill="#2e5c17"/>
<rect x="945.2" y="321.4" width="1.6" height="2.4" fill="#2e5c17"/>
<rect x="949.2" y="302.9" width="1.6" height="2.4" fill="#2e5c17"/>
<rect x="950.4" y="288.9" width="2.9" height="30.4" fill="#b8173a"/>
<rect x="949" y="294.3" width="1.6" height="2.4" fill="#b8173a"/>
<rect x="953" y="311.9" width="1.6" height="2.4" fill="#b8173a"/>
<rect x="954.2" y="287.4" width="2.9" height="27.4" fill="#2e5c17"/>
<rect x="952.8" y="307.5" width="1.6" height="2.4" fill="#2e5c17"/>
<rect x="956.8" y="291.7" width="1.6" height="2.4" fill="#2e5c17"/>
<rect x="958" y="286.6" width="2.9" height="16.3" fill="#2e5c17"/>
<rect x="956.7" y="298.1" width="1.6" height="2.4" fill="#2e5c17"/>
<rect x="960.7" y="288.7" width="1.6" height="2.4" fill="#2e5c17"/>
<rect x="961.9" y="282.2" width="2.9" height="28.1" fill="#b8173a"/>
<rect x="960.5" y="287.2" width="1.6" height="2.4" fill="#b8173a"/>
<rect x="964.5" y="303.5" width="1.6" height="2.4" fill="#b8173a"/>
<rect x="965.7" y="288.9" width="2.9" height="20" fill="#2e5c17"/>
<rect x="964.3" y="303.3" width="1.6" height="2.4" fill="#2e5c17"/>
<rect x="968.3" y="291.7" width="1.6" height="2.4" fill="#2e5c17"/>
<rect x="969.5" y="283.7" width="2.9" height="26.7" fill="#b8173a"/>
<rect x="968.2" y="288.3" width="1.6" height="2.4" fill="#b8173a"/>
<rect x="972.2" y="303.8" width="1.6" height="2.4" fill="#b8173a"/>
<rect x="973.4" y="288.9" width="2.9" height="28.9" fill="#b8173a"/>
<rect x="972" y="294" width="1.6" height="2.4" fill="#b8173a"/>
<rect x="976" y="310.8" width="1.6" height="2.4" fill="#b8173a"/>
<rect x="977.2" y="282.9" width="2.9" height="43.7" fill="#b8173a"/>
<rect x="975.9" y="291.3" width="1.6" height="2.4" fill="#b8173a"/>
<rect x="979.9" y="316.7" width="1.6" height="2.4" fill="#b8173a"/>
<rect x="981" y="321.4" width="2.9" height="14.8" fill="#b8173a"/>
<rect x="979.7" y="323.5" width="1.6" height="2.4" fill="#b8173a"/>
<rect x="983.7" y="332.1" width="1.6" height="2.4" fill="#b8173a"/>
<rect x="984.9" y="328.8" width="2.9" height="20.7" fill="#b8173a"/>
<rect x="983.5" y="332.2" width="1.6" height="2.4" fill="#b8173a"/>
<rect x="987.5" y="344.2" width="1.6" height="2.4" fill="#b8173a"/>
<rect x="988.7" y="332.5" width="2.9" height="21.5" fill="#b8173a"/>
<rect x="987.4" y="336.1" width="1.6" height="2.4" fill="#b8173a"/>
<rect x="991.4" y="348.5" width="1.6" height="2.4" fill="#b8173a"/>
<rect x="992.5" y="343.6" width="2.9" height="16.3" fill="#2e5c17"/>
<rect x="991.2" y="355.1" width="1.6" height="2.4" fill="#2e5c17"/>
<rect x="995.2" y="345.7" width="1.6" height="2.4" fill="#2e5c17"/>
<rect x="996.4" y="344.4" width="2.9" height="25.9" fill="#b8173a"/>
<rect x="995" y="348.9" width="1.6" height="2.4" fill="#b8173a"/>
<rect x="999" y="363.9" width="1.6" height="2.4" fill="#b8173a"/>
<rect x="1000.2" y="318.5" width="2.9" height="39.2" fill="#2e5c17"/>
<rect x="998.9" y="347.9" width="1.6" height="2.4" fill="#2e5c17"/>
<rect x="1002.9" y="325.1" width="1.6" height="2.4" fill="#2e5c17"/>
<rect x="1004" y="302.2" width="2.9" height="25.9" fill="#2e5c17"/>
<rect x="1002.7" y="321.2" width="1.6" height="2.4" fill="#2e5c17"/>
<rect x="1006.7" y="306.2" width="1.6" height="2.4" fill="#2e5c17"/>
<rect x="1007.9" y="291.1" width="2.9" height="25.2" fill="#2e5c17"/>
<rect x="1006.5" y="309.5" width="1.6" height="2.4" fill="#2e5c17"/>
<rect x="1010.5" y="294.9" width="1.6" height="2.4" fill="#2e5c17"/>
<rect x="1011.7" y="274.1" width="2.9" height="28.1" fill="#2e5c17"/>
<rect x="1010.4" y="294.8" width="1.6" height="2.4" fill="#2e5c17"/>
<rect x="1014.4" y="278.5" width="1.6" height="2.4" fill="#2e5c17"/>
<rect x="1015.5" y="255.5" width="2.9" height="27.4" fill="#2e5c17"/>
<rect x="1014.2" y="275.7" width="1.6" height="2.4" fill="#2e5c17"/>
<rect x="1018.2" y="259.8" width="1.6" height="2.4" fill="#2e5c17"/>
<line x1="556.9" y1="168.8" x2="1112.7" y2="322.9" stroke="#e8202e" stroke-width="3.0" stroke-dasharray="14 5.5"/>
<line x1="530.6" y1="297.3" x2="1080.6" y2="456.1" stroke="#e8202e" stroke-width="3.0" stroke-dasharray="14 5.5"/>
<line x1="886" y1="411.8" x2="940.9" y2="276.1" stroke="#8b4dfb" stroke-width="3.3" stroke-dasharray="16.3 2.7"/>
<line x1="1004" y1="370.3" x2="1052.6" y2="242.2" stroke="#8b4dfb" stroke-width="3.3" stroke-dasharray="16.3 2.7"/>
<rect x="14" y="45" width="1180" height="125.8" fill="none" stroke="#18254f" stroke-width="1.7"/>
<rect x="14" y="170.8" width="1180" height="360.8" fill="none" stroke="#18254f" stroke-width="1.7"/>
<rect x="14" y="552.5" width="1180" height="125.5" fill="none" stroke="#18254f" stroke-width="1.7"/>
<rect x="14" y="678" width="1180" height="126" fill="none" stroke="#18254f" stroke-width="1.7"/>
<rect x="14" y="804" width="1180" height="126" fill="none" stroke="#18254f" stroke-width="1.7"/>
<line x1="61.9" x2="61.9" y1="531.6" y2="535.2" stroke="#18254f" stroke-width="1.2"/>
<line x1="61.9" x2="61.9" y1="549" y2="552.6" stroke="#18254f" stroke-width="1.2"/>
<text x="51.4" y="546.7" font-family="'Liberation Sans', Arial, sans-serif" font-size="14.5" font-weight="normal" fill="#111" text-anchor="start" textLength="19.8" lengthAdjust="spacingAndGlyphs" >Jul</text>
<line x1="111.5" x2="111.5" y1="531.6" y2="535.2" stroke="#18254f" stroke-width="1.2"/>
<line x1="111.5" x2="111.5" y1="549" y2="552.6" stroke="#18254f" stroke-width="1.2"/>
<text x="98.9" y="546.7" font-family="'Liberation Sans', Arial, sans-serif" font-size="14.5" font-weight="normal" fill="#111" text-anchor="start" textLength="24" lengthAdjust="spacingAndGlyphs" >Oct</text>
<line x1="165.4" x2="165.4" y1="531.6" y2="535.2" stroke="#18254f" stroke-width="1.2"/>
<line x1="165.4" x2="165.4" y1="549" y2="552.6" stroke="#18254f" stroke-width="1.2"/>
<text x="154.8" y="546.7" font-family="'Liberation Sans', Arial, sans-serif" font-size="15" font-weight="bold" fill="#111" text-anchor="start" textLength="17.6" lengthAdjust="spacingAndGlyphs" >19</text>
<line x1="210.5" x2="210.5" y1="531.6" y2="535.2" stroke="#18254f" stroke-width="1.2"/>
<line x1="210.5" x2="210.5" y1="549" y2="552.6" stroke="#18254f" stroke-width="1.2"/>
<text x="198.2" y="546.7" font-family="'Liberation Sans', Arial, sans-serif" font-size="14.5" font-weight="normal" fill="#111" text-anchor="start" textLength="23.3" lengthAdjust="spacingAndGlyphs" >Apr</text>
<line x1="261.4" x2="261.4" y1="531.6" y2="535.2" stroke="#18254f" stroke-width="1.2"/>
<line x1="261.4" x2="261.4" y1="549" y2="552.6" stroke="#18254f" stroke-width="1.2"/>
<text x="250.9" y="546.7" font-family="'Liberation Sans', Arial, sans-serif" font-size="14.5" font-weight="normal" fill="#111" text-anchor="start" textLength="19.8" lengthAdjust="spacingAndGlyphs" >Jul</text>
<line x1="315.5" x2="315.5" y1="531.6" y2="535.2" stroke="#18254f" stroke-width="1.2"/>
<line x1="315.5" x2="315.5" y1="549" y2="552.6" stroke="#18254f" stroke-width="1.2"/>
<text x="302.9" y="546.7" font-family="'Liberation Sans', Arial, sans-serif" font-size="14.5" font-weight="normal" fill="#111" text-anchor="start" textLength="24" lengthAdjust="spacingAndGlyphs" >Oct</text>
<line x1="364.7" x2="364.7" y1="531.6" y2="535.2" stroke="#18254f" stroke-width="1.2"/>
<line x1="364.7" x2="364.7" y1="549" y2="552.6" stroke="#18254f" stroke-width="1.2"/>
<text x="354.1" y="546.7" font-family="'Liberation Sans', Arial, sans-serif" font-size="15" font-weight="bold" fill="#111" text-anchor="start" textLength="17.6" lengthAdjust="spacingAndGlyphs" >20</text>
<line x1="414.3" x2="414.3" y1="531.6" y2="535.2" stroke="#18254f" stroke-width="1.2"/>
<line x1="414.3" x2="414.3" y1="549" y2="552.6" stroke="#18254f" stroke-width="1.2"/>
<text x="402.1" y="546.7" font-family="'Liberation Sans', Arial, sans-serif" font-size="14.5" font-weight="normal" fill="#111" text-anchor="start" textLength="23.3" lengthAdjust="spacingAndGlyphs" >Apr</text>
<line x1="463.9" x2="463.9" y1="531.6" y2="535.2" stroke="#18254f" stroke-width="1.2"/>
<line x1="463.9" x2="463.9" y1="549" y2="552.6" stroke="#18254f" stroke-width="1.2"/>
<text x="453.4" y="546.7" font-family="'Liberation Sans', Arial, sans-serif" font-size="14.5" font-weight="normal" fill="#111" text-anchor="start" textLength="19.8" lengthAdjust="spacingAndGlyphs" >Jul</text>
<line x1="514.5" x2="514.5" y1="531.6" y2="535.2" stroke="#18254f" stroke-width="1.2"/>
<line x1="514.5" x2="514.5" y1="549" y2="552.6" stroke="#18254f" stroke-width="1.2"/>
<text x="501.9" y="546.7" font-family="'Liberation Sans', Arial, sans-serif" font-size="14.5" font-weight="normal" fill="#111" text-anchor="start" textLength="24" lengthAdjust="spacingAndGlyphs" >Oct</text>
<line x1="564.4" x2="564.4" y1="531.6" y2="535.2" stroke="#18254f" stroke-width="1.2"/>
<line x1="564.4" x2="564.4" y1="549" y2="552.6" stroke="#18254f" stroke-width="1.2"/>
<text x="553.8" y="546.7" font-family="'Liberation Sans', Arial, sans-serif" font-size="15" font-weight="bold" fill="#111" text-anchor="start" textLength="17.6" lengthAdjust="spacingAndGlyphs" >21</text>
<line x1="613.8" x2="613.8" y1="531.6" y2="535.2" stroke="#18254f" stroke-width="1.2"/>
<line x1="613.8" x2="613.8" y1="549" y2="552.6" stroke="#18254f" stroke-width="1.2"/>
<text x="601.5" y="546.7" font-family="'Liberation Sans', Arial, sans-serif" font-size="14.5" font-weight="normal" fill="#111" text-anchor="start" textLength="23.3" lengthAdjust="spacingAndGlyphs" >Apr</text>
<line x1="663.2" x2="663.2" y1="531.6" y2="535.2" stroke="#18254f" stroke-width="1.2"/>
<line x1="663.2" x2="663.2" y1="549" y2="552.6" stroke="#18254f" stroke-width="1.2"/>
<text x="652.7" y="546.7" font-family="'Liberation Sans', Arial, sans-serif" font-size="14.5" font-weight="normal" fill="#111" text-anchor="start" textLength="19.8" lengthAdjust="spacingAndGlyphs" >Jul</text>
<line x1="714.3" x2="714.3" y1="531.6" y2="535.2" stroke="#18254f" stroke-width="1.2"/>
<line x1="714.3" x2="714.3" y1="549" y2="552.6" stroke="#18254f" stroke-width="1.2"/>
<text x="701.7" y="546.7" font-family="'Liberation Sans', Arial, sans-serif" font-size="14.5" font-weight="normal" fill="#111" text-anchor="start" textLength="24" lengthAdjust="spacingAndGlyphs" >Oct</text>
<line x1="763.7" x2="763.7" y1="531.6" y2="535.2" stroke="#18254f" stroke-width="1.2"/>
<line x1="763.7" x2="763.7" y1="549" y2="552.6" stroke="#18254f" stroke-width="1.2"/>
<text x="753.1" y="546.7" font-family="'Liberation Sans', Arial, sans-serif" font-size="15" font-weight="bold" fill="#111" text-anchor="start" textLength="17.6" lengthAdjust="spacingAndGlyphs" >22</text>
<line x1="813.3" x2="813.3" y1="531.6" y2="535.2" stroke="#18254f" stroke-width="1.2"/>
<line x1="813.3" x2="813.3" y1="549" y2="552.6" stroke="#18254f" stroke-width="1.2"/>
<text x="801" y="546.7" font-family="'Liberation Sans', Arial, sans-serif" font-size="14.5" font-weight="normal" fill="#111" text-anchor="start" textLength="23.3" lengthAdjust="spacingAndGlyphs" >Apr</text>
<line x1="863.2" x2="863.2" y1="531.6" y2="535.2" stroke="#18254f" stroke-width="1.2"/>
<line x1="863.2" x2="863.2" y1="549" y2="552.6" stroke="#18254f" stroke-width="1.2"/>
<text x="852.7" y="546.7" font-family="'Liberation Sans', Arial, sans-serif" font-size="14.5" font-weight="normal" fill="#111" text-anchor="start" textLength="19.8" lengthAdjust="spacingAndGlyphs" >Jul</text>
<line x1="913.9" x2="913.9" y1="531.6" y2="535.2" stroke="#18254f" stroke-width="1.2"/>
<line x1="913.9" x2="913.9" y1="549" y2="552.6" stroke="#18254f" stroke-width="1.2"/>
<text x="901.3" y="546.7" font-family="'Liberation Sans', Arial, sans-serif" font-size="14.5" font-weight="normal" fill="#111" text-anchor="start" textLength="24" lengthAdjust="spacingAndGlyphs" >Oct</text>
<line x1="963.4" x2="963.4" y1="531.6" y2="535.2" stroke="#18254f" stroke-width="1.2"/>
<line x1="963.4" x2="963.4" y1="549" y2="552.6" stroke="#18254f" stroke-width="1.2"/>
<text x="952.8" y="546.7" font-family="'Liberation Sans', Arial, sans-serif" font-size="15" font-weight="bold" fill="#111" text-anchor="start" textLength="17.6" lengthAdjust="spacingAndGlyphs" >23</text>
<line x1="1012.7" x2="1012.7" y1="531.6" y2="535.2" stroke="#18254f" stroke-width="1.2"/>
<line x1="1012.7" x2="1012.7" y1="549" y2="552.6" stroke="#18254f" stroke-width="1.2"/>
<text x="1000.5" y="546.7" font-family="'Liberation Sans', Arial, sans-serif" font-size="14.5" font-weight="normal" fill="#111" text-anchor="start" textLength="23.3" lengthAdjust="spacingAndGlyphs" >Apr</text>
<line x1="1063.4" x2="1063.4" y1="531.6" y2="535.2" stroke="#18254f" stroke-width="1.2"/>
<line x1="1063.4" x2="1063.4" y1="549" y2="552.6" stroke="#18254f" stroke-width="1.2"/>
<text x="1052.9" y="546.7" font-family="'Liberation Sans', Arial, sans-serif" font-size="14.5" font-weight="normal" fill="#111" text-anchor="start" textLength="19.8" lengthAdjust="spacingAndGlyphs" >Jul</text>
<line x1="1113.3" x2="1113.3" y1="531.6" y2="535.2" stroke="#18254f" stroke-width="1.2"/>
<line x1="1113.3" x2="1113.3" y1="549" y2="552.6" stroke="#18254f" stroke-width="1.2"/>
<text x="1100.7" y="546.7" font-family="'Liberation Sans', Arial, sans-serif" font-size="14.5" font-weight="normal" fill="#111" text-anchor="start" textLength="24" lengthAdjust="spacingAndGlyphs" >Oct</text>
<line x1="1162.6" x2="1162.6" y1="531.6" y2="535.2" stroke="#18254f" stroke-width="1.2"/>
<line x1="1162.6" x2="1162.6" y1="549" y2="552.6" stroke="#18254f" stroke-width="1.2"/>
<text x="1152" y="546.7" font-family="'Liberation Sans', Arial, sans-serif" font-size="15" font-weight="bold" fill="#111" text-anchor="start" textLength="17.6" lengthAdjust="spacingAndGlyphs" >24</text>
<line x1="61.9" x2="61.9" y1="930" y2="933.6" stroke="#18254f" stroke-width="1.2"/>
<text x="51.4" y="942.6" font-family="'Liberation Sans', Arial, sans-serif" font-size="14.5" font-weight="normal" fill="#111" text-anchor="start" textLength="19.8" lengthAdjust="spacingAndGlyphs" >Jul</text>
<line x1="111.5" x2="111.5" y1="930" y2="933.6" stroke="#18254f" stroke-width="1.2"/>
<text x="98.9" y="942.6" font-family="'Liberation Sans', Arial, sans-serif" font-size="14.5" font-weight="normal" fill="#111" text-anchor="start" textLength="24" lengthAdjust="spacingAndGlyphs" >Oct</text>
<line x1="165.4" x2="165.4" y1="930" y2="933.6" stroke="#18254f" stroke-width="1.2"/>
<text x="154.8" y="942.6" font-family="'Liberation Sans', Arial, sans-serif" font-size="15" font-weight="bold" fill="#111" text-anchor="start" textLength="17.6" lengthAdjust="spacingAndGlyphs" >19</text>
<line x1="210.5" x2="210.5" y1="930" y2="933.6" stroke="#18254f" stroke-width="1.2"/>
<text x="198.2" y="942.6" font-family="'Liberation Sans', Arial, sans-serif" font-size="14.5" font-weight="normal" fill="#111" text-anchor="start" textLength="23.3" lengthAdjust="spacingAndGlyphs" >Apr</text>
<line x1="261.4" x2="261.4" y1="930" y2="933.6" stroke="#18254f" stroke-width="1.2"/>
<text x="250.9" y="942.6" font-family="'Liberation Sans', Arial, sans-serif" font-size="14.5" font-weight="normal" fill="#111" text-anchor="start" textLength="19.8" lengthAdjust="spacingAndGlyphs" >Jul</text>
<line x1="315.5" x2="315.5" y1="930" y2="933.6" stroke="#18254f" stroke-width="1.2"/>
<text x="302.9" y="942.6" font-family="'Liberation Sans', Arial, sans-serif" font-size="14.5" font-weight="normal" fill="#111" text-anchor="start" textLength="24" lengthAdjust="spacingAndGlyphs" >Oct</text>
<line x1="364.7" x2="364.7" y1="930" y2="933.6" stroke="#18254f" stroke-width="1.2"/>
<text x="354.1" y="942.6" font-family="'Liberation Sans', Arial, sans-serif" font-size="15" font-weight="bold" fill="#111" text-anchor="start" textLength="17.6" lengthAdjust="spacingAndGlyphs" >20</text>
<line x1="414.3" x2="414.3" y1="930" y2="933.6" stroke="#18254f" stroke-width="1.2"/>
<text x="402.1" y="942.6" font-family="'Liberation Sans', Arial, sans-serif" font-size="14.5" font-weight="normal" fill="#111" text-anchor="start" textLength="23.3" lengthAdjust="spacingAndGlyphs" >Apr</text>
<line x1="463.9" x2="463.9" y1="930" y2="933.6" stroke="#18254f" stroke-width="1.2"/>
<text x="453.4" y="942.6" font-family="'Liberation Sans', Arial, sans-serif" font-size="14.5" font-weight="normal" fill="#111" text-anchor="start" textLength="19.8" lengthAdjust="spacingAndGlyphs" >Jul</text>
<line x1="514.5" x2="514.5" y1="930" y2="933.6" stroke="#18254f" stroke-width="1.2"/>
<text x="501.9" y="942.6" font-family="'Liberation Sans', Arial, sans-serif" font-size="14.5" font-weight="normal" fill="#111" text-anchor="start" textLength="24" lengthAdjust="spacingAndGlyphs" >Oct</text>
<line x1="564.4" x2="564.4" y1="930" y2="933.6" stroke="#18254f" stroke-width="1.2"/>
<text x="553.8" y="942.6" font-family="'Liberation Sans', Arial, sans-serif" font-size="15" font-weight="bold" fill="#111" text-anchor="start" textLength="17.6" lengthAdjust="spacingAndGlyphs" >21</text>
<line x1="613.8" x2="613.8" y1="930" y2="933.6" stroke="#18254f" stroke-width="1.2"/>
<text x="601.5" y="942.6" font-family="'Liberation Sans', Arial, sans-serif" font-size="14.5" font-weight="normal" fill="#111" text-anchor="start" textLength="23.3" lengthAdjust="spacingAndGlyphs" >Apr</text>
<line x1="663.2" x2="663.2" y1="930" y2="933.6" stroke="#18254f" stroke-width="1.2"/>
<text x="652.7" y="942.6" font-family="'Liberation Sans', Arial, sans-serif" font-size="14.5" font-weight="normal" fill="#111" text-anchor="start" textLength="19.8" lengthAdjust="spacingAndGlyphs" >Jul</text>
<line x1="714.3" x2="714.3" y1="930" y2="933.6" stroke="#18254f" stroke-width="1.2"/>
<text x="701.7" y="942.6" font-family="'Liberation Sans', Arial, sans-serif" font-size="14.5" font-weight="normal" fill="#111" text-anchor="start" textLength="24" lengthAdjust="spacingAndGlyphs" >Oct</text>
<line x1="763.7" x2="763.7" y1="930" y2="933.6" stroke="#18254f" stroke-width="1.2"/>
<text x="753.1" y="942.6" font-family="'Liberation Sans', Arial, sans-serif" font-size="15" font-weight="bold" fill="#111" text-anchor="start" textLength="17.6" lengthAdjust="spacingAndGlyphs" >22</text>
<line x1="813.3" x2="813.3" y1="930" y2="933.6" stroke="#18254f" stroke-width="1.2"/>
<text x="801" y="942.6" font-family="'Liberation Sans', Arial, sans-serif" font-size="14.5" font-weight="normal" fill="#111" text-anchor="start" textLength="23.3" lengthAdjust="spacingAndGlyphs" >Apr</text>
<line x1="863.2" x2="863.2" y1="930" y2="933.6" stroke="#18254f" stroke-width="1.2"/>
<text x="852.7" y="942.6" font-family="'Liberation Sans', Arial, sans-serif" font-size="14.5" font-weight="normal" fill="#111" text-anchor="start" textLength="19.8" lengthAdjust="spacingAndGlyphs" >Jul</text>
<line x1="913.9" x2="913.9" y1="930" y2="933.6" stroke="#18254f" stroke-width="1.2"/>
<text x="901.3" y="942.6" font-family="'Liberation Sans', Arial, sans-serif" font-size="14.5" font-weight="normal" fill="#111" text-anchor="start" textLength="24" lengthAdjust="spacingAndGlyphs" >Oct</text>
<line x1="963.4" x2="963.4" y1="930" y2="933.6" stroke="#18254f" stroke-width="1.2"/>
<text x="952.8" y="942.6" font-family="'Liberation Sans', Arial, sans-serif" font-size="15" font-weight="bold" fill="#111" text-anchor="start" textLength="17.6" lengthAdjust="spacingAndGlyphs" >23</text>
<line x1="1012.7" x2="1012.7" y1="930" y2="933.6" stroke="#18254f" stroke-width="1.2"/>
<text x="1000.5" y="942.6" font-family="'Liberation Sans', Arial, sans-serif" font-size="14.5" font-weight="normal" fill="#111" text-anchor="start" textLength="23.3" lengthAdjust="spacingAndGlyphs" >Apr</text>
<line x1="1063.4" x2="1063.4" y1="930" y2="933.6" stroke="#18254f" stroke-width="1.2"/>
<text x="1052.9" y="942.6" font-family="'Liberation Sans', Arial, sans-serif" font-size="14.5" font-weight="normal" fill="#111" text-anchor="start" textLength="19.8" lengthAdjust="spacingAndGlyphs" >Jul</text>
<line x1="1113.3" x2="1113.3" y1="930" y2="933.6" stroke="#18254f" stroke-width="1.2"/>
<text x="1100.7" y="942.6" font-family="'Liberation Sans', Arial, sans-serif" font-size="14.5" font-weight="normal" fill="#111" text-anchor="start" textLength="24" lengthAdjust="spacingAndGlyphs" >Oct</text>
<line x1="1162.6" x2="1162.6" y1="930" y2="933.6" stroke="#18254f" stroke-width="1.2"/>
<text x="1152" y="942.6" font-family="'Liberation Sans', Arial, sans-serif" font-size="15" font-weight="bold" fill="#111" text-anchor="start" textLength="17.6" lengthAdjust="spacingAndGlyphs" >24</text>
<line x1="1194" x2="1198.5" y1="65.7" y2="65.7" stroke="#18254f" stroke-width="1.3"/>
<text x="1199.3" y="69.1" font-family="'Liberation Sans', Arial, sans-serif" font-size="13.6" font-weight="normal" fill="#111" text-anchor="start" textLength="16.9" lengthAdjust="spacingAndGlyphs" >90</text>
<line x1="1194" x2="1198.5" y1="86.7" y2="86.7" stroke="#18254f" stroke-width="1.3"/>
<text x="1199.3" y="90.1" font-family="'Liberation Sans', Arial, sans-serif" font-size="13.6" font-weight="normal" fill="#111" text-anchor="start" textLength="16.9" lengthAdjust="spacingAndGlyphs" >70</text>
<line x1="1194" x2="1198.5" y1="107.8" y2="107.8" stroke="#18254f" stroke-width="1.3"/>
<text x="1199.3" y="111.2" font-family="'Liberation Sans', Arial, sans-serif" font-size="13.6" font-weight="normal" fill="#111" text-anchor="start" textLength="16.9" lengthAdjust="spacingAndGlyphs" >50</text>
<line x1="1194" x2="1198.5" y1="128.9" y2="128.9" stroke="#18254f" stroke-width="1.3"/>
<text x="1199.3" y="132.3" font-family="'Liberation Sans', Arial, sans-serif" font-size="13.6" font-weight="normal" fill="#111" text-anchor="start" textLength="16.9" lengthAdjust="spacingAndGlyphs" >30</text>
<line x1="1194" x2="1198.5" y1="149.9" y2="149.9" stroke="#18254f" stroke-width="1.3"/>
<text x="1199.3" y="153.3" font-family="'Liberation Sans', Arial, sans-serif" font-size="13.6" font-weight="normal" fill="#111" text-anchor="start" textLength="16.9" lengthAdjust="spacingAndGlyphs" >10</text>
<line x1="1194" x2="1198.5" y1="514" y2="514" stroke="#18254f" stroke-width="1.3"/>
<text x="1199.3" y="517.4" font-family="'Liberation Sans', Arial, sans-serif" font-size="13.6" font-weight="normal" fill="#111" text-anchor="start" textLength="16.9" lengthAdjust="spacingAndGlyphs" >12</text>
<line x1="1194" x2="1198.5" y1="477.8" y2="477.8" stroke="#18254f" stroke-width="1.3"/>
<text x="1199.3" y="481.2" font-family="'Liberation Sans', Arial, sans-serif" font-size="13.6" font-weight="normal" fill="#111" text-anchor="start" textLength="16.9" lengthAdjust="spacingAndGlyphs" >14</text>
<line x1="1194" x2="1198.5" y1="441.6" y2="441.6" stroke="#18254f" stroke-width="1.3"/>
<text x="1199.3" y="445" font-family="'Liberation Sans', Arial, sans-serif" font-size="13.6" font-weight="normal" fill="#111" text-anchor="start" textLength="16.9" lengthAdjust="spacingAndGlyphs" >16</text>
<line x1="1194" x2="1198.5" y1="405.4" y2="405.4" stroke="#18254f" stroke-width="1.3"/>
<text x="1199.3" y="408.8" font-family="'Liberation Sans', Arial, sans-serif" font-size="13.6" font-weight="normal" fill="#111" text-anchor="start" textLength="16.9" lengthAdjust="spacingAndGlyphs" >18</text>
<line x1="1194" x2="1198.5" y1="369.2" y2="369.2" stroke="#18254f" stroke-width="1.3"/>
<text x="1199.3" y="372.6" font-family="'Liberation Sans', Arial, sans-serif" font-size="13.6" font-weight="normal" fill="#111" text-anchor="start" textLength="16.9" lengthAdjust="spacingAndGlyphs" >20</text>
<line x1="1194" x2="1198.5" y1="333" y2="333" stroke="#18254f" stroke-width="1.3"/>
<text x="1199.3" y="336.4" font-family="'Liberation Sans', Arial, sans-serif" font-size="13.6" font-weight="normal" fill="#111" text-anchor="start" textLength="16.9" lengthAdjust="spacingAndGlyphs" >22</text>
<line x1="1194" x2="1198.5" y1="296.8" y2="296.8" stroke="#18254f" stroke-width="1.3"/>
<text x="1199.3" y="300.2" font-family="'Liberation Sans', Arial, sans-serif" font-size="13.6" font-weight="normal" fill="#111" text-anchor="start" textLength="16.9" lengthAdjust="spacingAndGlyphs" >24</text>
<line x1="1194" x2="1198.5" y1="260.6" y2="260.6" stroke="#18254f" stroke-width="1.3"/>
<text x="1199.3" y="264" font-family="'Liberation Sans', Arial, sans-serif" font-size="13.6" font-weight="normal" fill="#111" text-anchor="start" textLength="16.9" lengthAdjust="spacingAndGlyphs" >26</text>
<line x1="1194" x2="1198.5" y1="224.4" y2="224.4" stroke="#18254f" stroke-width="1.3"/>
<text x="1199.3" y="227.8" font-family="'Liberation Sans', Arial, sans-serif" font-size="13.6" font-weight="normal" fill="#111" text-anchor="start" textLength="16.9" lengthAdjust="spacingAndGlyphs" >28</text>
<line x1="1194" x2="1198.5" y1="188.2" y2="188.2" stroke="#18254f" stroke-width="1.3"/>
<text x="1199.3" y="191.6" font-family="'Liberation Sans', Arial, sans-serif" font-size="13.6" font-weight="normal" fill="#111" text-anchor="start" textLength="16.9" lengthAdjust="spacingAndGlyphs" >30</text>
<line x1="1194" x2="1196.6" y1="523" y2="523" stroke="#18254f" stroke-width="1"/>
<line x1="1194" x2="1196.6" y1="518.5" y2="518.5" stroke="#18254f" stroke-width="1"/>
<line x1="1194" x2="1196.6" y1="514" y2="514" stroke="#18254f" stroke-width="1"/>
<line x1="1194" x2="1196.6" y1="509.5" y2="509.5" stroke="#18254f" stroke-width="1"/>
<line x1="1194" x2="1196.6" y1="504.9" y2="504.9" stroke="#18254f" stroke-width="1"/>
<line x1="1194" x2="1196.6" y1="500.4" y2="500.4" stroke="#18254f" stroke-width="1"/>
<line x1="1194" x2="1196.6" y1="495.9" y2="495.9" stroke="#18254f" stroke-width="1"/>
<line x1="1194" x2="1196.6" y1="491.4" y2="491.4" stroke="#18254f" stroke-width="1"/>
<line x1="1194" x2="1196.6" y1="486.9" y2="486.9" stroke="#18254f" stroke-width="1"/>
<line x1="1194" x2="1196.6" y1="482.3" y2="482.3" stroke="#18254f" stroke-width="1"/>
<line x1="1194" x2="1196.6" y1="477.8" y2="477.8" stroke="#18254f" stroke-width="1"/>
<line x1="1194" x2="1196.6" y1="473.3" y2="473.3" stroke="#18254f" stroke-width="1"/>
<line x1="1194" x2="1196.6" y1="468.8" y2="468.8" stroke="#18254f" stroke-width="1"/>
<line x1="1194" x2="1196.6" y1="464.2" y2="464.2" stroke="#18254f" stroke-width="1"/>
<line x1="1194" x2="1196.6" y1="459.7" y2="459.7" stroke="#18254f" stroke-width="1"/>
<line x1="1194" x2="1196.6" y1="455.2" y2="455.2" stroke="#18254f" stroke-width="1"/>
<line x1="1194" x2="1196.6" y1="450.7" y2="450.7" stroke="#18254f" stroke-width="1"/>
<line x1="1194" x2="1196.6" y1="446.1" y2="446.1" stroke="#18254f" stroke-width="1"/>
<line x1="1194" x2="1196.6" y1="441.6" y2="441.6" stroke="#18254f" stroke-width="1"/>
<line x1="1194" x2="1196.6" y1="437.1" y2="437.1" stroke="#18254f" stroke-width="1"/>
<line x1="1194" x2="1196.6" y1="432.6" y2="432.6" stroke="#18254f" stroke-width="1"/>
<line x1="1194" x2="1196.6" y1="428" y2="428" stroke="#18254f" stroke-width="1"/>
<line x1="1194" x2="1196.6" y1="423.5" y2="423.5" stroke="#18254f" stroke-width="1"/>
<line x1="1194" x2="1196.6" y1="419" y2="419" stroke="#18254f" stroke-width="1"/>
<line x1="1194" x2="1196.6" y1="414.5" y2="414.5" stroke="#18254f" stroke-width="1"/>
<line x1="1194" x2="1196.6" y1="409.9" y2="409.9" stroke="#18254f" stroke-width="1"/>
<line x1="1194" x2="1196.6" y1="405.4" y2="405.4" stroke="#18254f" stroke-width="1"/>
<line x1="1194" x2="1196.6" y1="400.9" y2="400.9" stroke="#18254f" stroke-width="1"/>
<line x1="1194" x2="1196.6" y1="396.4" y2="396.4" stroke="#18254f" stroke-width="1"/>
<line x1="1194" x2="1196.6" y1="391.8" y2="391.8" stroke="#18254f" stroke-width="1"/>
<line x1="1194" x2="1196.6" y1="387.3" y2="387.3" stroke="#18254f" stroke-width="1"/>
<line x1="1194" x2="1196.6" y1="382.8" y2="382.8" stroke="#18254f" stroke-width="1"/>
<line x1="1194" x2="1196.6" y1="378.2" y2="378.2" stroke="#18254f" stroke-width="1"/>
<line x1="1194" x2="1196.6" y1="373.7" y2="373.7" stroke="#18254f" stroke-width="1"/>
<line x1="1194" x2="1196.6" y1="369.2" y2="369.2" stroke="#18254f" stroke-width="1"/>
<line x1="1194" x2="1196.6" y1="364.7" y2="364.7" stroke="#18254f" stroke-width="1"/>
<line x1="1194" x2="1196.6" y1="360.1" y2="360.1" stroke="#18254f" stroke-width="1"/>
<line x1="1194" x2="1196.6" y1="355.6" y2="355.6" stroke="#18254f" stroke-width="1"/>
<line x1="1194" x2="1196.6" y1="351.1" y2="351.1" stroke="#18254f" stroke-width="1"/>
<line x1="1194" x2="1196.6" y1="346.6" y2="346.6" stroke="#18254f" stroke-width="1"/>
<line x1="1194" x2="1196.6" y1="342.1" y2="342.1" stroke="#18254f" stroke-width="1"/>
<line x1="1194" x2="1196.6" y1="337.5" y2="337.5" stroke="#18254f" stroke-width="1"/>
<line x1="1194" x2="1196.6" y1="333" y2="333" stroke="#18254f" stroke-width="1"/>
<line x1="1194" x2="1196.6" y1="328.5" y2="328.5" stroke="#18254f" stroke-width="1"/>
<line x1="1194" x2="1196.6" y1="323.9" y2="323.9" stroke="#18254f" stroke-width="1"/>
<line x1="1194" x2="1196.6" y1="319.4" y2="319.4" stroke="#18254f" stroke-width="1"/>
<line x1="1194" x2="1196.6" y1="314.9" y2="314.9" stroke="#18254f" stroke-width="1"/>
<line x1="1194" x2="1196.6" y1="310.4" y2="310.4" stroke="#18254f" stroke-width="1"/>
<line x1="1194" x2="1196.6" y1="305.9" y2="305.9" stroke="#18254f" stroke-width="1"/>
<line x1="1194" x2="1196.6" y1="301.3" y2="301.3" stroke="#18254f" stroke-width="1"/>
<line x1="1194" x2="1196.6" y1="296.8" y2="296.8" stroke="#18254f" stroke-width="1"/>
<line x1="1194" x2="1196.6" y1="292.3" y2="292.3" stroke="#18254f" stroke-width="1"/>
<line x1="1194" x2="1196.6" y1="287.8" y2="287.8" stroke="#18254f" stroke-width="1"/>
<line x1="1194" x2="1196.6" y1="283.2" y2="283.2" stroke="#18254f" stroke-width="1"/>
<line x1="1194" x2="1196.6" y1="278.7" y2="278.7" stroke="#18254f" stroke-width="1"/>
<line x1="1194" x2="1196.6" y1="274.2" y2="274.2" stroke="#18254f" stroke-width="1"/>
<line x1="1194" x2="1196.6" y1="269.6" y2="269.6" stroke="#18254f" stroke-width="1"/>
<line x1="1194" x2="1196.6" y1="265.1" y2="265.1" stroke="#18254f" stroke-width="1"/>
<line x1="1194" x2="1196.6" y1="260.6" y2="260.6" stroke="#18254f" stroke-width="1"/>
<line x1="1194" x2="1196.6" y1="256.1" y2="256.1" stroke="#18254f" stroke-width="1"/>
<line x1="1194" x2="1196.6" y1="251.6" y2="251.6" stroke="#18254f" stroke-width="1"/>
<line x1="1194" x2="1196.6" y1="247" y2="247" stroke="#18254f" stroke-width="1"/>
<line x1="1194" x2="1196.6" y1="242.5" y2="242.5" stroke="#18254f" stroke-width="1"/>
<line x1="1194" x2="1196.6" y1="238" y2="238" stroke="#18254f" stroke-width="1"/>
<line x1="1194" x2="1196.6" y1="233.4" y2="233.4" stroke="#18254f" stroke-width="1"/>
<line x1="1194" x2="1196.6" y1="228.9" y2="228.9" stroke="#18254f" stroke-width="1"/>
<line x1="1194" x2="1196.6" y1="224.4" y2="224.4" stroke="#18254f" stroke-width="1"/>
<line x1="1194" x2="1196.6" y1="219.9" y2="219.9" stroke="#18254f" stroke-width="1"/>
<line x1="1194" x2="1196.6" y1="215.3" y2="215.3" stroke="#18254f" stroke-width="1"/>
<line x1="1194" x2="1196.6" y1="210.8" y2="210.8" stroke="#18254f" stroke-width="1"/>
<line x1="1194" x2="1196.6" y1="206.3" y2="206.3" stroke="#18254f" stroke-width="1"/>
<line x1="1194" x2="1196.6" y1="201.8" y2="201.8" stroke="#18254f" stroke-width="1"/>
<line x1="1194" x2="1196.6" y1="197.2" y2="197.2" stroke="#18254f" stroke-width="1"/>
<line x1="1194" x2="1196.6" y1="192.7" y2="192.7" stroke="#18254f" stroke-width="1"/>
<line x1="1194" x2="1196.6" y1="188.2" y2="188.2" stroke="#18254f" stroke-width="1"/>
<line x1="1194" x2="1196.6" y1="183.7" y2="183.7" stroke="#18254f" stroke-width="1"/>
<line x1="1194" x2="1196.6" y1="179.1" y2="179.1" stroke="#18254f" stroke-width="1"/>
<line x1="1194" x2="1196.6" y1="174.6" y2="174.6" stroke="#18254f" stroke-width="1"/>
<line x1="1194" x2="1198.5" y1="568.5" y2="568.5" stroke="#18254f" stroke-width="1.3"/>
<text x="1199.3" y="571.9" font-family="'Liberation Sans', Arial, sans-serif" font-size="13.6" font-weight="normal" fill="#111" text-anchor="start" textLength="36.3" lengthAdjust="spacingAndGlyphs" >125M</text>
<line x1="1194" x2="1198.5" y1="590.2" y2="590.2" stroke="#18254f" stroke-width="1.3"/>
<text x="1199.3" y="593.6" font-family="'Liberation Sans', Arial, sans-serif" font-size="13.6" font-weight="normal" fill="#111" text-anchor="start" textLength="36.3" lengthAdjust="spacingAndGlyphs" >100M</text>
<line x1="1194" x2="1198.5" y1="611.9" y2="611.9" stroke="#18254f" stroke-width="1.3"/>
<text x="1199.3" y="615.3" font-family="'Liberation Sans', Arial, sans-serif" font-size="13.6" font-weight="normal" fill="#111" text-anchor="start" textLength="27.9" lengthAdjust="spacingAndGlyphs" >75M</text>
<line x1="1194" x2="1198.5" y1="633.6" y2="633.6" stroke="#18254f" stroke-width="1.3"/>
<text x="1199.3" y="637" font-family="'Liberation Sans', Arial, sans-serif" font-size="13.6" font-weight="normal" fill="#111" text-anchor="start" textLength="27.9" lengthAdjust="spacingAndGlyphs" >50M</text>
<line x1="1194" x2="1198.5" y1="655.3" y2="655.3" stroke="#18254f" stroke-width="1.3"/>
<text x="1199.3" y="658.7" font-family="'Liberation Sans', Arial, sans-serif" font-size="13.6" font-weight="normal" fill="#111" text-anchor="start" textLength="27.9" lengthAdjust="spacingAndGlyphs" >25M</text>
<line x1="1194" x2="1198.5" y1="685.5" y2="685.5" stroke="#18254f" stroke-width="1.3"/>
<text x="1199.3" y="688.9" font-family="'Liberation Sans', Arial, sans-serif" font-size="13.6" font-weight="normal" fill="#111" text-anchor="start" textLength="8.4" lengthAdjust="spacingAndGlyphs" >3</text>
<line x1="1194" x2="1198.5" y1="711.1" y2="711.1" stroke="#18254f" stroke-width="1.3"/>
<text x="1199.3" y="714.5" font-family="'Liberation Sans', Arial, sans-serif" font-size="13.6" font-weight="normal" fill="#111" text-anchor="start" textLength="8.4" lengthAdjust="spacingAndGlyphs" >2</text>
<line x1="1194" x2="1198.5" y1="736.7" y2="736.7" stroke="#18254f" stroke-width="1.3"/>
<text x="1199.3" y="740.1" font-family="'Liberation Sans', Arial, sans-serif" font-size="13.6" font-weight="normal" fill="#111" text-anchor="start" textLength="8.4" lengthAdjust="spacingAndGlyphs" >1</text>
<line x1="1194" x2="1198.5" y1="762.3" y2="762.3" stroke="#18254f" stroke-width="1.3"/>
<text x="1199.3" y="765.7" font-family="'Liberation Sans', Arial, sans-serif" font-size="13.6" font-weight="normal" fill="#111" text-anchor="start" textLength="8.4" lengthAdjust="spacingAndGlyphs" >0</text>
<line x1="1194" x2="1198.5" y1="787.9" y2="787.9" stroke="#18254f" stroke-width="1.3"/>
<text x="1199.3" y="791.3" font-family="'Liberation Sans', Arial, sans-serif" font-size="13.6" font-weight="normal" fill="#111" text-anchor="start" textLength="13.2" lengthAdjust="spacingAndGlyphs" >-1</text>
<line x1="1194" x2="1196.6" y1="800.7" y2="800.7" stroke="#18254f" stroke-width="1"/>
<line x1="1194" x2="1196.6" y1="794.3" y2="794.3" stroke="#18254f" stroke-width="1"/>
<line x1="1194" x2="1196.6" y1="787.9" y2="787.9" stroke="#18254f" stroke-width="1"/>
<line x1="1194" x2="1196.6" y1="781.5" y2="781.5" stroke="#18254f" stroke-width="1"/>
<line x1="1194" x2="1196.6" y1="775.1" y2="775.1" stroke="#18254f" stroke-width="1"/>
<line x1="1194" x2="1196.6" y1="768.7" y2="768.7" stroke="#18254f" stroke-width="1"/>
<line x1="1194" x2="1196.6" y1="762.3" y2="762.3" stroke="#18254f" stroke-width="1"/>
<line x1="1194" x2="1196.6" y1="755.9" y2="755.9" stroke="#18254f" stroke-width="1"/>
<line x1="1194" x2="1196.6" y1="749.5" y2="749.5" stroke="#18254f" stroke-width="1"/>
<line x1="1194" x2="1196.6" y1="743.1" y2="743.1" stroke="#18254f" stroke-width="1"/>
<line x1="1194" x2="1196.6" y1="736.7" y2="736.7" stroke="#18254f" stroke-width="1"/>
<line x1="1194" x2="1196.6" y1="730.3" y2="730.3" stroke="#18254f" stroke-width="1"/>
<line x1="1194" x2="1196.6" y1="723.9" y2="723.9" stroke="#18254f" stroke-width="1"/>
<line x1="1194" x2="1196.6" y1="717.5" y2="717.5" stroke="#18254f" stroke-width="1"/>
<line x1="1194" x2="1196.6" y1="711.1" y2="711.1" stroke="#18254f" stroke-width="1"/>
<line x1="1194" x2="1196.6" y1="704.7" y2="704.7" stroke="#18254f" stroke-width="1"/>
<line x1="1194" x2="1196.6" y1="698.3" y2="698.3" stroke="#18254f" stroke-width="1"/>
<line x1="1194" x2="1196.6" y1="691.9" y2="691.9" stroke="#18254f" stroke-width="1"/>
<line x1="1194" x2="1196.6" y1="685.5" y2="685.5" stroke="#18254f" stroke-width="1"/>
<line x1="1194" x2="1198.5" y1="835.5" y2="835.5" stroke="#18254f" stroke-width="1.3"/>
<text x="1199.3" y="838.9" font-family="'Liberation Sans', Arial, sans-serif" font-size="13.6" font-weight="normal" fill="#111" text-anchor="start" textLength="16.9" lengthAdjust="spacingAndGlyphs" >80</text>
<line x1="1194" x2="1198.5" y1="867" y2="867" stroke="#18254f" stroke-width="1.3"/>
<text x="1199.3" y="870.4" font-family="'Liberation Sans', Arial, sans-serif" font-size="13.6" font-weight="normal" fill="#111" text-anchor="start" textLength="16.9" lengthAdjust="spacingAndGlyphs" >50</text>
<line x1="1194" x2="1198.5" y1="898.5" y2="898.5" stroke="#18254f" stroke-width="1.3"/>
<text x="1199.3" y="901.9" font-family="'Liberation Sans', Arial, sans-serif" font-size="13.6" font-weight="normal" fill="#111" text-anchor="start" textLength="16.9" lengthAdjust="spacingAndGlyphs" >20</text>
<text x="13.8" y="22.6" font-family="'Liberation Sans', Arial, sans-serif" font-size="20.6" font-weight="bold" fill="#000" text-anchor="start" textLength="80" lengthAdjust="spacingAndGlyphs" >$SILVER</text>
<text x="99.5" y="21" font-family="'Liberation Sans', Arial, sans-serif" font-size="16.4" font-weight="normal" fill="#000" text-anchor="start" textLength="250" lengthAdjust="spacingAndGlyphs" >Silver - Continuous Contract (EOD)</text>
<text x="357.6" y="21.5" font-family="'Liberation Sans', Arial, sans-serif" font-size="12.6" font-weight="normal" fill="#000" text-anchor="start" textLength="32.5" lengthAdjust="spacingAndGlyphs" >CME</text>
<text x="13.8" y="40.6" font-family="'Liberation Sans', Arial, sans-serif" font-size="15.2" font-weight="normal" fill="#000" text-anchor="start" textLength="85" lengthAdjust="spacingAndGlyphs" >14-Apr-2023</text>
<text x="1059.3" y="21.8" font-family="'Liberation Sans', Arial, sans-serif" font-size="13.6" font-weight="normal" fill="#3c3f5c" text-anchor="start" >©</text>
<text x="1074.6" y="21.4" font-family="'Liberation Sans', Arial, sans-serif" font-size="16" font-weight="normal" fill="#383a55" text-anchor="start" textLength="119" lengthAdjust="spacingAndGlyphs" >StockCharts.com</text>
<text x="530.5" y="40.7" font-family="'Liberation Sans', Arial, sans-serif" font-size="16.3" font-weight="bold" fill="#000" text-anchor="start" textLength="38.5" lengthAdjust="spacingAndGlyphs" >Open</text>
<text x="572.6" y="40.7" font-family="'Liberation Sans', Arial, sans-serif" font-size="15.3" font-weight="normal" fill="#000" text-anchor="start" textLength="44.7" lengthAdjust="spacingAndGlyphs" >24.91</text>
<text x="627.8" y="40.7" font-family="'Liberation Sans', Arial, sans-serif" font-size="16.3" font-weight="bold" fill="#000" text-anchor="start" textLength="33.5" lengthAdjust="spacingAndGlyphs" >High</text>
<text x="664.9" y="40.7" font-family="'Liberation Sans', Arial, sans-serif" font-size="15.3" font-weight="normal" fill="#000" text-anchor="start" textLength="44.3" lengthAdjust="spacingAndGlyphs" >26.24</text>
<text x="717.5" y="40.7" font-family="'Liberation Sans', Arial, sans-serif" font-size="16.3" font-weight="bold" fill="#000" text-anchor="start" textLength="30.5" lengthAdjust="spacingAndGlyphs" >Low</text>
<text x="752" y="40.7" font-family="'Liberation Sans', Arial, sans-serif" font-size="15.3" font-weight="normal" fill="#000" text-anchor="start" textLength="45" lengthAdjust="spacingAndGlyphs" >24.77</text>
<text x="808.2" y="40.7" font-family="'Liberation Sans', Arial, sans-serif" font-size="16.3" font-weight="bold" fill="#000" text-anchor="start" textLength="43" lengthAdjust="spacingAndGlyphs" >Close</text>
<text x="855.2" y="40.7" font-family="'Liberation Sans', Arial, sans-serif" font-size="15.3" font-weight="normal" fill="#000" text-anchor="start" textLength="44.5" lengthAdjust="spacingAndGlyphs" >25.46</text>
<text x="910.5" y="40.7" font-family="'Liberation Sans', Arial, sans-serif" font-size="16.3" font-weight="bold" fill="#000" text-anchor="start" textLength="62" lengthAdjust="spacingAndGlyphs" >Volume</text>
<text x="978.9" y="40.7" font-family="'Liberation Sans', Arial, sans-serif" font-size="15.3" font-weight="normal" fill="#000" text-anchor="start" textLength="43.8" lengthAdjust="spacingAndGlyphs" >35.1M</text>
<text x="1032.7" y="40.7" font-family="'Liberation Sans', Arial, sans-serif" font-size="16.3" font-weight="bold" fill="#000" text-anchor="start" textLength="32" lengthAdjust="spacingAndGlyphs" >Chg</text>
<text x="1070.3" y="40.7" font-family="'Liberation Sans', Arial, sans-serif" font-size="15.3" font-weight="normal" fill="#000" text-anchor="start" textLength="108.3" lengthAdjust="spacingAndGlyphs" >+0.37 (+1.46%)</text>
<path d="M1183,39.4 L1188.4,32.8 L1193.8,39.4 Z" fill="#3f6a2c"/>
<rect x="15" y="172" width="226" height="18.5" fill="#fff"/>
<g stroke="#2f6b1d" stroke-width="1.9" fill="none"><path d="M19.4,174.6 v8.2 M17.6,176.3 h1.8 M24.4,177 v10.4 M22.3,184.8 h4.2 M28.8,174.6 v9.2 M27,180 h3.8"/></g>
<text x="36.8" y="186.3" font-family="'DejaVu Sans', Verdana, sans-serif" font-size="15.3" font-weight="normal" fill="#111" text-anchor="start" textLength="203" lengthAdjust="spacingAndGlyphs" >$SILVER (Weekly) 25.46</text>
<text x="265.3" y="160.8" font-family="'Liberation Sans', Arial, sans-serif" font-size="37" font-weight="bold" fill="#2a36f0" text-anchor="start" textLength="93.5" lengthAdjust="spacingAndGlyphs" >Silver</text>
<text x="1006.5" y="198.3" font-family="'Liberation Sans', Arial, sans-serif" font-size="36.8" font-weight="bold" fill="#4f9a38" text-anchor="start" textLength="158.5" lengthAdjust="spacingAndGlyphs" >Break out</text>
<path d="M1190.8,91.5 L1196.4,84 L1241,84 L1241,99 L1196.4,99 Z" fill="#fff" stroke="#18254f" stroke-width="1.5" stroke-linejoin="miter"/>
<text x="1197.8" y="96.6" font-family="'Liberation Sans', Arial, sans-serif" font-size="13.8" font-weight="normal" fill="#000" text-anchor="start" textLength="40.5" lengthAdjust="spacingAndGlyphs" >65.28</text>
<path d="M1190.8,270.2 L1196.4,261.9 L1241,261.9 L1241,278.5 L1196.4,278.5 Z" fill="#fff" stroke="#111" stroke-width="1.5" stroke-linejoin="miter"/>
<text x="1197.8" y="275.3" font-family="'Liberation Sans', Arial, sans-serif" font-size="14.4" font-weight="bold" fill="#000" text-anchor="start" textLength="39.8" lengthAdjust="spacingAndGlyphs" >25.46</text>
<path d="M1190.8,343 L1196.4,335.2 L1241,335.2 L1241,350.8 L1196.4,350.8 Z" fill="#fff" stroke="#c0203f" stroke-width="1.5" stroke-linejoin="miter"/>
<text x="1197.8" y="348.1" font-family="'Liberation Sans', Arial, sans-serif" font-size="13.8" font-weight="normal" fill="#000" text-anchor="start" textLength="39.3" lengthAdjust="spacingAndGlyphs" >21.35</text>
<path d="M1190.8,645.4 L1196.4,639 L1250,639 L1250,651.8 L1196.4,651.8 Z" fill="#fff" stroke="#18254f" stroke-width="1.5" stroke-linejoin="miter"/>
<text x="1197.8" y="650.5" font-family="'Liberation Sans', Arial, sans-serif" font-size="13.6" font-weight="normal" fill="#000" text-anchor="start" textLength="63" lengthAdjust="spacingAndGlyphs" >35075812</text>
<path d="M1190.8,753.7 L1196.4,746.4 L1241,746.4 L1241,761 L1196.4,761 Z" fill="#fff" stroke="#18254f" stroke-width="1.5" stroke-linejoin="miter"/>
<text x="1197.8" y="758.8" font-family="'Liberation Sans', Arial, sans-serif" font-size="13.8" font-weight="normal" fill="#000" text-anchor="start" textLength="38.7" lengthAdjust="spacingAndGlyphs" >0.253</text>
<path d="M1190.8,749.2 L1196.4,741.9 L1241,741.9 L1241,756.5 L1196.4,756.5 Z" fill="#fff" stroke="#d02040" stroke-width="1.5" stroke-linejoin="miter"/>
<text x="1197.8" y="754.3" font-family="'Liberation Sans', Arial, sans-serif" font-size="13.8" font-weight="normal" fill="#000" text-anchor="start" textLength="38.7" lengthAdjust="spacingAndGlyphs" >0.448</text>
<path d="M1190.8,742.5 L1196.4,735.1 L1241,735.1 L1241,749.9 L1196.4,749.9 Z" fill="#fff" stroke="#18254f" stroke-width="1.5" stroke-linejoin="miter"/>
<text x="1197.8" y="747.6" font-family="'Liberation Sans', Arial, sans-serif" font-size="13.8" font-weight="normal" fill="#000" text-anchor="start" textLength="38.7" lengthAdjust="spacingAndGlyphs" >0.701</text>
<path d="M1190.8,833.1 L1196.4,825.8 L1241,825.8 L1241,840.4 L1196.4,840.4 Z" fill="#fff" stroke="#d02040" stroke-width="1.5" stroke-linejoin="miter"/>
<text x="1197.8" y="838.2" font-family="'Liberation Sans', Arial, sans-serif" font-size="13.8" font-weight="normal" fill="#000" text-anchor="start" textLength="39.5" lengthAdjust="spacingAndGlyphs" >81.59</text>
<path d="M1190.8,824 L1196.4,816.7 L1241,816.7 L1241,831.3 L1196.4,831.3 Z" fill="#fff" stroke="#18254f" stroke-width="1.5" stroke-linejoin="miter"/>
<text x="1197.8" y="829.1" font-family="'Liberation Sans', Arial, sans-serif" font-size="13.8" font-weight="normal" fill="#000" text-anchor="start" textLength="39.5" lengthAdjust="spacingAndGlyphs" >90.36</text>
<rect x="13" y="930.5" width="102" height="15" fill="#c9c9c9"/>
<text x="18" y="946.3" font-family="'Liberation Sans', Arial, sans-serif" font-size="14.6" font-weight="normal" fill="#333" text-anchor="start" textLength="93" lengthAdjust="spacingAndGlyphs" >28 Mar Y:9.05</text>
</svg>
</body></html>
